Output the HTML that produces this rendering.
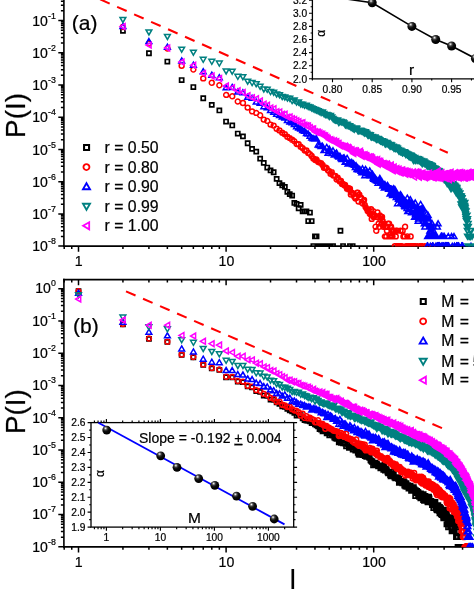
<!DOCTYPE html>
<html><head><meta charset="utf-8"><title>P(l)</title>
<style>html,body{margin:0;padding:0;background:#fff;}body{width:474px;height:614px;overflow:hidden;font-family:"Liberation Sans",sans-serif;}svg{display:block;will-change:transform;}text{stroke:#000;stroke-width:0.22px;}</style>
</head><body>
<svg width="474" height="614" viewBox="0 0 474 614">
<rect x="0" y="0" width="474" height="614" fill="#ffffff"/>
<line x1="63.90" y1="-2.00" x2="63.90" y2="246.90" stroke="#000" stroke-width="1.6"/>
<line x1="63.10" y1="246.10" x2="476.00" y2="246.10" stroke="#000" stroke-width="1.6"/>
<path d="M63.90 246.10L58.30 246.10M63.90 236.40L60.90 236.40M63.90 230.73L60.90 230.73M63.90 226.70L60.90 226.70M63.90 223.58L60.90 223.58M63.90 221.03L60.90 221.03M63.90 218.87L60.90 218.87M63.90 217.00L60.90 217.00M63.90 215.35L60.90 215.35M63.90 213.88L58.30 213.88M63.90 204.18L60.90 204.18M63.90 198.51L60.90 198.51M63.90 194.48L60.90 194.48M63.90 191.36L60.90 191.36M63.90 188.81L60.90 188.81M63.90 186.65L60.90 186.65M63.90 184.78L60.90 184.78M63.90 183.13L60.90 183.13M63.90 181.66L58.30 181.66M63.90 171.96L60.90 171.96M63.90 166.29L60.90 166.29M63.90 162.26L60.90 162.26M63.90 159.14L60.90 159.14M63.90 156.59L60.90 156.59M63.90 154.43L60.90 154.43M63.90 152.56L60.90 152.56M63.90 150.91L60.90 150.91M63.90 149.44L58.30 149.44M63.90 139.74L60.90 139.74M63.90 134.07L60.90 134.07M63.90 130.04L60.90 130.04M63.90 126.92L60.90 126.92M63.90 124.37L60.90 124.37M63.90 122.21L60.90 122.21M63.90 120.34L60.90 120.34M63.90 118.69L60.90 118.69M63.90 117.22L58.30 117.22M63.90 107.52L60.90 107.52M63.90 101.85L60.90 101.85M63.90 97.82L60.90 97.82M63.90 94.70L60.90 94.70M63.90 92.15L60.90 92.15M63.90 89.99L60.90 89.99M63.90 88.12L60.90 88.12M63.90 86.47L60.90 86.47M63.90 85.00L58.30 85.00M63.90 75.30L60.90 75.30M63.90 69.63L60.90 69.63M63.90 65.60L60.90 65.60M63.90 62.48L60.90 62.48M63.90 59.93L60.90 59.93M63.90 57.77L60.90 57.77M63.90 55.90L60.90 55.90M63.90 54.25L60.90 54.25M63.90 52.78L58.30 52.78M63.90 43.08L60.90 43.08M63.90 37.41L60.90 37.41M63.90 33.38L60.90 33.38M63.90 30.26L60.90 30.26M63.90 27.71L60.90 27.71M63.90 25.55L60.90 25.55M63.90 23.68L60.90 23.68M63.90 22.03L60.90 22.03M63.90 20.56L58.30 20.56M63.90 10.86L60.90 10.86M63.90 5.19L60.90 5.19M63.90 1.16L60.90 1.16M78.50 246.10L78.50 251.70M122.93 246.10L122.93 249.10M148.92 246.10L148.92 249.10M167.36 246.10L167.36 249.10M181.67 246.10L181.67 249.10M193.36 246.10L193.36 249.10M203.24 246.10L203.24 249.10M211.80 246.10L211.80 249.10M219.35 246.10L219.35 249.10M226.10 246.10L226.10 251.70M270.53 246.10L270.53 249.10M296.52 246.10L296.52 249.10M314.96 246.10L314.96 249.10M329.27 246.10L329.27 249.10M340.96 246.10L340.96 249.10M350.84 246.10L350.84 249.10M359.40 246.10L359.40 249.10M366.95 246.10L366.95 249.10M373.70 246.10L373.70 251.70M418.13 246.10L418.13 249.10M444.12 246.10L444.12 249.10M462.56 246.10L462.56 249.10M64.20 246.10L64.20 249.10M71.75 246.10L71.75 249.10" stroke="#000" stroke-width="1.5" fill="none"/>
<line x1="63.90" y1="278.80" x2="63.90" y2="547.66" stroke="#000" stroke-width="1.6"/>
<line x1="63.10" y1="546.86" x2="476.00" y2="546.86" stroke="#000" stroke-width="1.6"/>
<line x1="63.10" y1="279.60" x2="476.00" y2="279.60" stroke="#000" stroke-width="1.6"/>
<path d="M63.90 546.86L58.30 546.86M63.90 537.15L60.90 537.15M63.90 531.46L60.90 531.46M63.90 527.43L60.90 527.43M63.90 524.30L60.90 524.30M63.90 521.75L60.90 521.75M63.90 519.59L60.90 519.59M63.90 517.72L60.90 517.72M63.90 516.07L60.90 516.07M63.90 514.59L58.30 514.59M63.90 504.88L60.90 504.88M63.90 499.19L60.90 499.19M63.90 495.16L60.90 495.16M63.90 492.03L60.90 492.03M63.90 489.48L60.90 489.48M63.90 487.32L60.90 487.32M63.90 485.45L60.90 485.45M63.90 483.80L60.90 483.80M63.90 482.32L58.30 482.32M63.90 472.61L60.90 472.61M63.90 466.92L60.90 466.92M63.90 462.89L60.90 462.89M63.90 459.76L60.90 459.76M63.90 457.21L60.90 457.21M63.90 455.05L60.90 455.05M63.90 453.18L60.90 453.18M63.90 451.53L60.90 451.53M63.90 450.05L58.30 450.05M63.90 440.34L60.90 440.34M63.90 434.65L60.90 434.65M63.90 430.62L60.90 430.62M63.90 427.49L60.90 427.49M63.90 424.94L60.90 424.94M63.90 422.78L60.90 422.78M63.90 420.91L60.90 420.91M63.90 419.26L60.90 419.26M63.90 417.78L58.30 417.78M63.90 408.07L60.90 408.07M63.90 402.38L60.90 402.38M63.90 398.35L60.90 398.35M63.90 395.22L60.90 395.22M63.90 392.67L60.90 392.67M63.90 390.51L60.90 390.51M63.90 388.64L60.90 388.64M63.90 386.99L60.90 386.99M63.90 385.51L58.30 385.51M63.90 375.80L60.90 375.80M63.90 370.11L60.90 370.11M63.90 366.08L60.90 366.08M63.90 362.95L60.90 362.95M63.90 360.40L60.90 360.40M63.90 358.24L60.90 358.24M63.90 356.37L60.90 356.37M63.90 354.72L60.90 354.72M63.90 353.24L58.30 353.24M63.90 343.53L60.90 343.53M63.90 337.84L60.90 337.84M63.90 333.81L60.90 333.81M63.90 330.68L60.90 330.68M63.90 328.13L60.90 328.13M63.90 325.97L60.90 325.97M63.90 324.10L60.90 324.10M63.90 322.45L60.90 322.45M63.90 320.97L58.30 320.97M63.90 311.26L60.90 311.26M63.90 305.57L60.90 305.57M63.90 301.54L60.90 301.54M63.90 298.41L60.90 298.41M63.90 295.86L60.90 295.86M63.90 293.70L60.90 293.70M63.90 291.83L60.90 291.83M63.90 290.18L60.90 290.18M63.90 288.70L58.30 288.70M78.50 546.86L78.50 552.46M78.50 279.60L78.50 285.20M122.93 546.86L122.93 549.86M122.93 279.60L122.93 282.60M148.92 546.86L148.92 549.86M148.92 279.60L148.92 282.60M167.36 546.86L167.36 549.86M167.36 279.60L167.36 282.60M181.67 546.86L181.67 549.86M181.67 279.60L181.67 282.60M193.36 546.86L193.36 549.86M193.36 279.60L193.36 282.60M203.24 546.86L203.24 549.86M203.24 279.60L203.24 282.60M211.80 546.86L211.80 549.86M211.80 279.60L211.80 282.60M219.35 546.86L219.35 549.86M219.35 279.60L219.35 282.60M226.10 546.86L226.10 552.46M226.10 279.60L226.10 285.20M270.53 546.86L270.53 549.86M270.53 279.60L270.53 282.60M296.52 546.86L296.52 549.86M296.52 279.60L296.52 282.60M314.96 546.86L314.96 549.86M314.96 279.60L314.96 282.60M329.27 546.86L329.27 549.86M329.27 279.60L329.27 282.60M340.96 546.86L340.96 549.86M340.96 279.60L340.96 282.60M350.84 546.86L350.84 549.86M350.84 279.60L350.84 282.60M359.40 546.86L359.40 549.86M359.40 279.60L359.40 282.60M366.95 546.86L366.95 549.86M366.95 279.60L366.95 282.60M373.70 546.86L373.70 552.46M373.70 279.60L373.70 285.20M418.13 546.86L418.13 549.86M418.13 279.60L418.13 282.60M444.12 546.86L444.12 549.86M444.12 279.60L444.12 282.60M462.56 546.86L462.56 549.86M462.56 279.60L462.56 282.60M64.20 546.86L64.20 549.86M64.20 279.60L64.20 282.60M71.75 546.86L71.75 549.86M71.75 279.60L71.75 282.60" stroke="#000" stroke-width="1.5" fill="none"/>
<defs><clipPath id="ca"><rect x="63.9" y="-5" width="500" height="251.50"/></clipPath><clipPath id="cb"><rect x="63.9" y="279.60" width="500" height="267.66"/></clipPath></defs>
<g clip-path="url(#ca)">
<path d="M120.9 28.8h4.1v4.1h-4.1zM146.9 51.2h4.1v4.1h-4.1zM165.3 59.5h4.1v4.1h-4.1zM179.6 78h4.1v4.1h-4.1zM191.3 85h4.1v4.1h-4.1zM201.2 96.2h4.1v4.1h-4.1zM209.7 102.8h4.1v4.1h-4.1zM217.3 108.4h4.1v4.1h-4.1zM224 119.5h4.1v4.1h-4.1zM230.2 123.4h4.1v4.1h-4.1zM235.7 131.5h4.1v4.1h-4.1zM240.9 134.3h4.1v4.1h-4.1zM245.6 141.2h4.1v4.1h-4.1zM250 146.8h4.1v4.1h-4.1zM254.2 149.6h4.1v4.1h-4.1zM258.1 156.6h4.1v4.1h-4.1zM261.7 160.8h4.1v4.1h-4.1zM265.2 165.5h4.1v4.1h-4.1zM268.5 168.4h4.1v4.1h-4.1zM271.6 170.2h4.1v4.1h-4.1zM274.6 176.8h4.1v4.1h-4.1zM277.4 181.1h4.1v4.1h-4.1zM280.2 183.2h4.1v4.1h-4.1zM282.8 184.8h4.1v4.1h-4.1zM285.3 189.8h4.1v4.1h-4.1zM287.7 192.1h4.1v4.1h-4.1zM290.1 193.5h4.1v4.1h-4.1zM292.3 200.9h4.1v4.1h-4.1zM294.5 201.9h4.1v4.1h-4.1zM296.6 206.2h4.1v4.1h-4.1zM298.6 202.8h4.1v4.1h-4.1zM300.6 209.3h4.1v4.1h-4.1zM302.5 209.3h4.1v4.1h-4.1zM304.4 209.3h4.1v4.1h-4.1zM306.2 219h4.1v4.1h-4.1zM307.9 210.5h4.1v4.1h-4.1zM309.6 219h4.1v4.1h-4.1zM311.3 244h4.1v4.1h-4.1zM312.9 234.4h4.1v4.1h-4.1zM314.5 234.4h4.1v4.1h-4.1zM316 244h4.1v4.1h-4.1zM317.5 244h4.1v4.1h-4.1zM319 244h4.1v4.1h-4.1zM320.5 244h4.1v4.1h-4.1zM323.3 244h4.1v4.1h-4.1zM324.6 244h4.1v4.1h-4.1zM325.9 244h4.1v4.1h-4.1zM327.2 244h4.1v4.1h-4.1zM328.5 244h4.1v4.1h-4.1zM331 244h4.1v4.1h-4.1zM341 244h4.1v4.1h-4.1zM347.9 244h4.1v4.1h-4.1zM350.6 244h4.1v4.1h-4.1zM338.4 228.7h4.1v4.1h-4.1z" fill="none" stroke="#000000" stroke-width="1.7" stroke-linejoin="miter"/>
<path d="M120.5 27a2.45 2.45 0 1 0 4.9 0a2.45 2.45 0 1 0 -4.9 0zM146.5 43.5a2.45 2.45 0 1 0 4.9 0a2.45 2.45 0 1 0 -4.9 0zM164.9 48.5a2.45 2.45 0 1 0 4.9 0a2.45 2.45 0 1 0 -4.9 0zM179.2 65.8a2.45 2.45 0 1 0 4.9 0a2.45 2.45 0 1 0 -4.9 0zM190.9 69.6a2.45 2.45 0 1 0 4.9 0a2.45 2.45 0 1 0 -4.9 0zM200.8 78.4a2.45 2.45 0 1 0 4.9 0a2.45 2.45 0 1 0 -4.9 0zM209.3 82.8a2.45 2.45 0 1 0 4.9 0a2.45 2.45 0 1 0 -4.9 0zM216.9 85.2a2.45 2.45 0 1 0 4.9 0a2.45 2.45 0 1 0 -4.9 0zM223.7 94.9a2.45 2.45 0 1 0 4.9 0a2.45 2.45 0 1 0 -4.9 0zM229.8 96.2a2.45 2.45 0 1 0 4.9 0a2.45 2.45 0 1 0 -4.9 0zM235.3 101.5a2.45 2.45 0 1 0 4.9 0a2.45 2.45 0 1 0 -4.9 0zM240.5 103a2.45 2.45 0 1 0 4.9 0a2.45 2.45 0 1 0 -4.9 0zM245.2 107.6a2.45 2.45 0 1 0 4.9 0a2.45 2.45 0 1 0 -4.9 0zM249.6 111.4a2.45 2.45 0 1 0 4.9 0a2.45 2.45 0 1 0 -4.9 0zM253.8 112.9a2.45 2.45 0 1 0 4.9 0a2.45 2.45 0 1 0 -4.9 0zM257.7 115.2a2.45 2.45 0 1 0 4.9 0a2.45 2.45 0 1 0 -4.9 0zM261.3 119.6a2.45 2.45 0 1 0 4.9 0a2.45 2.45 0 1 0 -4.9 0zM264.8 120.9a2.45 2.45 0 1 0 4.9 0a2.45 2.45 0 1 0 -4.9 0zM268.1 124.6a2.45 2.45 0 1 0 4.9 0a2.45 2.45 0 1 0 -4.9 0zM271.2 125.6a2.45 2.45 0 1 0 4.9 0a2.45 2.45 0 1 0 -4.9 0zM274.2 128.8a2.45 2.45 0 1 0 4.9 0a2.45 2.45 0 1 0 -4.9 0zM277 130.4a2.45 2.45 0 1 0 4.9 0a2.45 2.45 0 1 0 -4.9 0zM279.8 132.7a2.45 2.45 0 1 0 4.9 0a2.45 2.45 0 1 0 -4.9 0zM282.4 134.2a2.45 2.45 0 1 0 4.9 0a2.45 2.45 0 1 0 -4.9 0zM284.9 136.7a2.45 2.45 0 1 0 4.9 0a2.45 2.45 0 1 0 -4.9 0zM287.3 138.1a2.45 2.45 0 1 0 4.9 0a2.45 2.45 0 1 0 -4.9 0zM289.7 139.8a2.45 2.45 0 1 0 4.9 0a2.45 2.45 0 1 0 -4.9 0zM291.9 141.3a2.45 2.45 0 1 0 4.9 0a2.45 2.45 0 1 0 -4.9 0zM294.1 144a2.45 2.45 0 1 0 4.9 0a2.45 2.45 0 1 0 -4.9 0zM296.2 144.2a2.45 2.45 0 1 0 4.9 0a2.45 2.45 0 1 0 -4.9 0zM298.2 146.7a2.45 2.45 0 1 0 4.9 0a2.45 2.45 0 1 0 -4.9 0zM300.2 148.1a2.45 2.45 0 1 0 4.9 0a2.45 2.45 0 1 0 -4.9 0zM302.1 150.5a2.45 2.45 0 1 0 4.9 0a2.45 2.45 0 1 0 -4.9 0zM304 150.4a2.45 2.45 0 1 0 4.9 0a2.45 2.45 0 1 0 -4.9 0zM305.8 152.9a2.45 2.45 0 1 0 4.9 0a2.45 2.45 0 1 0 -4.9 0zM307.5 154.1a2.45 2.45 0 1 0 4.9 0a2.45 2.45 0 1 0 -4.9 0zM309.2 155.9a2.45 2.45 0 1 0 4.9 0a2.45 2.45 0 1 0 -4.9 0zM310.9 158.4a2.45 2.45 0 1 0 4.9 0a2.45 2.45 0 1 0 -4.9 0zM312.5 160.1a2.45 2.45 0 1 0 4.9 0a2.45 2.45 0 1 0 -4.9 0zM314.1 159.4a2.45 2.45 0 1 0 4.9 0a2.45 2.45 0 1 0 -4.9 0zM315.6 162a2.45 2.45 0 1 0 4.9 0a2.45 2.45 0 1 0 -4.9 0zM317.1 162.6a2.45 2.45 0 1 0 4.9 0a2.45 2.45 0 1 0 -4.9 0zM318.6 163.1a2.45 2.45 0 1 0 4.9 0a2.45 2.45 0 1 0 -4.9 0zM320.1 165a2.45 2.45 0 1 0 4.9 0a2.45 2.45 0 1 0 -4.9 0zM321.5 167.7a2.45 2.45 0 1 0 4.9 0a2.45 2.45 0 1 0 -4.9 0zM322.9 167.5a2.45 2.45 0 1 0 4.9 0a2.45 2.45 0 1 0 -4.9 0zM324.2 167.9a2.45 2.45 0 1 0 4.9 0a2.45 2.45 0 1 0 -4.9 0zM325.5 170.4a2.45 2.45 0 1 0 4.9 0a2.45 2.45 0 1 0 -4.9 0zM326.8 171.3a2.45 2.45 0 1 0 4.9 0a2.45 2.45 0 1 0 -4.9 0zM328.1 173.7a2.45 2.45 0 1 0 4.9 0a2.45 2.45 0 1 0 -4.9 0zM329.3 172.2a2.45 2.45 0 1 0 4.9 0a2.45 2.45 0 1 0 -4.9 0zM330.6 175.5a2.45 2.45 0 1 0 4.9 0a2.45 2.45 0 1 0 -4.9 0zM331.8 175.6a2.45 2.45 0 1 0 4.9 0a2.45 2.45 0 1 0 -4.9 0zM332.9 175.9a2.45 2.45 0 1 0 4.9 0a2.45 2.45 0 1 0 -4.9 0zM334.1 179.6a2.45 2.45 0 1 0 4.9 0a2.45 2.45 0 1 0 -4.9 0zM335.2 177.8a2.45 2.45 0 1 0 4.9 0a2.45 2.45 0 1 0 -4.9 0zM336.3 179.7a2.45 2.45 0 1 0 4.9 0a2.45 2.45 0 1 0 -4.9 0zM337.4 181.5a2.45 2.45 0 1 0 4.9 0a2.45 2.45 0 1 0 -4.9 0zM338.5 181a2.45 2.45 0 1 0 4.9 0a2.45 2.45 0 1 0 -4.9 0zM339.6 184.1a2.45 2.45 0 1 0 4.9 0a2.45 2.45 0 1 0 -4.9 0zM340.6 183.9a2.45 2.45 0 1 0 4.9 0a2.45 2.45 0 1 0 -4.9 0zM341.6 185.3a2.45 2.45 0 1 0 4.9 0a2.45 2.45 0 1 0 -4.9 0zM342.6 185a2.45 2.45 0 1 0 4.9 0a2.45 2.45 0 1 0 -4.9 0zM343.6 187.1a2.45 2.45 0 1 0 4.9 0a2.45 2.45 0 1 0 -4.9 0zM344.6 188.8a2.45 2.45 0 1 0 4.9 0a2.45 2.45 0 1 0 -4.9 0zM345.6 189.3a2.45 2.45 0 1 0 4.9 0a2.45 2.45 0 1 0 -4.9 0zM346.5 188.3a2.45 2.45 0 1 0 4.9 0a2.45 2.45 0 1 0 -4.9 0zM347.5 188.8a2.45 2.45 0 1 0 4.9 0a2.45 2.45 0 1 0 -4.9 0zM348.4 194.5a2.45 2.45 0 1 0 4.9 0a2.45 2.45 0 1 0 -4.9 0zM349.3 192.8a2.45 2.45 0 1 0 4.9 0a2.45 2.45 0 1 0 -4.9 0zM350.2 193.5a2.45 2.45 0 1 0 4.9 0a2.45 2.45 0 1 0 -4.9 0zM351.1 193.5a2.45 2.45 0 1 0 4.9 0a2.45 2.45 0 1 0 -4.9 0zM351.9 196.8a2.45 2.45 0 1 0 4.9 0a2.45 2.45 0 1 0 -4.9 0zM352.8 198.5a2.45 2.45 0 1 0 4.9 0a2.45 2.45 0 1 0 -4.9 0zM353.7 198a2.45 2.45 0 1 0 4.9 0a2.45 2.45 0 1 0 -4.9 0zM354.5 192.8a2.45 2.45 0 1 0 4.9 0a2.45 2.45 0 1 0 -4.9 0zM355.3 192.8a2.45 2.45 0 1 0 4.9 0a2.45 2.45 0 1 0 -4.9 0zM356.1 201.6a2.45 2.45 0 1 0 4.9 0a2.45 2.45 0 1 0 -4.9 0zM356.9 194.8a2.45 2.45 0 1 0 4.9 0a2.45 2.45 0 1 0 -4.9 0zM357.7 197.6a2.45 2.45 0 1 0 4.9 0a2.45 2.45 0 1 0 -4.9 0zM358.5 197.6a2.45 2.45 0 1 0 4.9 0a2.45 2.45 0 1 0 -4.9 0zM359.3 202.8a2.45 2.45 0 1 0 4.9 0a2.45 2.45 0 1 0 -4.9 0zM360.1 203.5a2.45 2.45 0 1 0 4.9 0a2.45 2.45 0 1 0 -4.9 0zM360.8 201.1a2.45 2.45 0 1 0 4.9 0a2.45 2.45 0 1 0 -4.9 0zM361.6 200a2.45 2.45 0 1 0 4.9 0a2.45 2.45 0 1 0 -4.9 0zM362.3 204.9a2.45 2.45 0 1 0 4.9 0a2.45 2.45 0 1 0 -4.9 0zM363.1 207.3a2.45 2.45 0 1 0 4.9 0a2.45 2.45 0 1 0 -4.9 0zM363.8 208.2a2.45 2.45 0 1 0 4.9 0a2.45 2.45 0 1 0 -4.9 0zM364.5 209.2a2.45 2.45 0 1 0 4.9 0a2.45 2.45 0 1 0 -4.9 0zM365.2 211.3a2.45 2.45 0 1 0 4.9 0a2.45 2.45 0 1 0 -4.9 0zM365.9 209.2a2.45 2.45 0 1 0 4.9 0a2.45 2.45 0 1 0 -4.9 0zM366.6 212.5a2.45 2.45 0 1 0 4.9 0a2.45 2.45 0 1 0 -4.9 0zM367.3 213.9a2.45 2.45 0 1 0 4.9 0a2.45 2.45 0 1 0 -4.9 0zM368 213.9a2.45 2.45 0 1 0 4.9 0a2.45 2.45 0 1 0 -4.9 0zM368.6 209.2a2.45 2.45 0 1 0 4.9 0a2.45 2.45 0 1 0 -4.9 0zM369.3 218.9a2.45 2.45 0 1 0 4.9 0a2.45 2.45 0 1 0 -4.9 0zM370 213.9a2.45 2.45 0 1 0 4.9 0a2.45 2.45 0 1 0 -4.9 0zM370.6 211.3a2.45 2.45 0 1 0 4.9 0a2.45 2.45 0 1 0 -4.9 0zM371.2 217a2.45 2.45 0 1 0 4.9 0a2.45 2.45 0 1 0 -4.9 0zM371.9 215.4a2.45 2.45 0 1 0 4.9 0a2.45 2.45 0 1 0 -4.9 0zM372.5 215.4a2.45 2.45 0 1 0 4.9 0a2.45 2.45 0 1 0 -4.9 0zM373.1 226.7a2.45 2.45 0 1 0 4.9 0a2.45 2.45 0 1 0 -4.9 0zM373.8 230.7a2.45 2.45 0 1 0 4.9 0a2.45 2.45 0 1 0 -4.9 0zM374.4 217a2.45 2.45 0 1 0 4.9 0a2.45 2.45 0 1 0 -4.9 0zM375 212.5a2.45 2.45 0 1 0 4.9 0a2.45 2.45 0 1 0 -4.9 0zM375.6 217a2.45 2.45 0 1 0 4.9 0a2.45 2.45 0 1 0 -4.9 0zM376.2 223.6a2.45 2.45 0 1 0 4.9 0a2.45 2.45 0 1 0 -4.9 0zM376.8 226.7a2.45 2.45 0 1 0 4.9 0a2.45 2.45 0 1 0 -4.9 0zM377.4 215.4a2.45 2.45 0 1 0 4.9 0a2.45 2.45 0 1 0 -4.9 0zM377.9 218.9a2.45 2.45 0 1 0 4.9 0a2.45 2.45 0 1 0 -4.9 0zM378.5 217a2.45 2.45 0 1 0 4.9 0a2.45 2.45 0 1 0 -4.9 0zM379.1 223.6a2.45 2.45 0 1 0 4.9 0a2.45 2.45 0 1 0 -4.9 0zM379.6 217a2.45 2.45 0 1 0 4.9 0a2.45 2.45 0 1 0 -4.9 0zM380.2 221a2.45 2.45 0 1 0 4.9 0a2.45 2.45 0 1 0 -4.9 0zM380.8 226.7a2.45 2.45 0 1 0 4.9 0a2.45 2.45 0 1 0 -4.9 0zM381.3 223.6a2.45 2.45 0 1 0 4.9 0a2.45 2.45 0 1 0 -4.9 0zM381.9 223.6a2.45 2.45 0 1 0 4.9 0a2.45 2.45 0 1 0 -4.9 0zM382.4 236.4a2.45 2.45 0 1 0 4.9 0a2.45 2.45 0 1 0 -4.9 0zM382.9 226.7a2.45 2.45 0 1 0 4.9 0a2.45 2.45 0 1 0 -4.9 0zM383.5 226.7a2.45 2.45 0 1 0 4.9 0a2.45 2.45 0 1 0 -4.9 0zM384 236.4a2.45 2.45 0 1 0 4.9 0a2.45 2.45 0 1 0 -4.9 0zM384.5 230.7a2.45 2.45 0 1 0 4.9 0a2.45 2.45 0 1 0 -4.9 0zM385 226.7a2.45 2.45 0 1 0 4.9 0a2.45 2.45 0 1 0 -4.9 0zM385.6 223.6a2.45 2.45 0 1 0 4.9 0a2.45 2.45 0 1 0 -4.9 0zM386.6 223.6a2.45 2.45 0 1 0 4.9 0a2.45 2.45 0 1 0 -4.9 0zM387.1 236.4a2.45 2.45 0 1 0 4.9 0a2.45 2.45 0 1 0 -4.9 0zM387.6 226.7a2.45 2.45 0 1 0 4.9 0a2.45 2.45 0 1 0 -4.9 0zM388.1 236.4a2.45 2.45 0 1 0 4.9 0a2.45 2.45 0 1 0 -4.9 0zM388.6 226.7a2.45 2.45 0 1 0 4.9 0a2.45 2.45 0 1 0 -4.9 0zM389 230.7a2.45 2.45 0 1 0 4.9 0a2.45 2.45 0 1 0 -4.9 0zM389.5 230.7a2.45 2.45 0 1 0 4.9 0a2.45 2.45 0 1 0 -4.9 0zM390 236.4a2.45 2.45 0 1 0 4.9 0a2.45 2.45 0 1 0 -4.9 0zM390.5 230.7a2.45 2.45 0 1 0 4.9 0a2.45 2.45 0 1 0 -4.9 0zM391 230.7a2.45 2.45 0 1 0 4.9 0a2.45 2.45 0 1 0 -4.9 0zM391.4 230.7a2.45 2.45 0 1 0 4.9 0a2.45 2.45 0 1 0 -4.9 0zM391.9 230.7a2.45 2.45 0 1 0 4.9 0a2.45 2.45 0 1 0 -4.9 0zM392.4 246.1a2.45 2.45 0 1 0 4.9 0a2.45 2.45 0 1 0 -4.9 0zM392.8 246.1a2.45 2.45 0 1 0 4.9 0a2.45 2.45 0 1 0 -4.9 0zM393.3 236.4a2.45 2.45 0 1 0 4.9 0a2.45 2.45 0 1 0 -4.9 0zM393.7 230.7a2.45 2.45 0 1 0 4.9 0a2.45 2.45 0 1 0 -4.9 0zM394.6 230.7a2.45 2.45 0 1 0 4.9 0a2.45 2.45 0 1 0 -4.9 0zM395.5 246.1a2.45 2.45 0 1 0 4.9 0a2.45 2.45 0 1 0 -4.9 0zM395.9 246.1a2.45 2.45 0 1 0 4.9 0a2.45 2.45 0 1 0 -4.9 0zM396.4 246.1a2.45 2.45 0 1 0 4.9 0a2.45 2.45 0 1 0 -4.9 0zM397.2 246.1a2.45 2.45 0 1 0 4.9 0a2.45 2.45 0 1 0 -4.9 0zM397.7 246.1a2.45 2.45 0 1 0 4.9 0a2.45 2.45 0 1 0 -4.9 0zM398.1 230.7a2.45 2.45 0 1 0 4.9 0a2.45 2.45 0 1 0 -4.9 0zM398.9 246.1a2.45 2.45 0 1 0 4.9 0a2.45 2.45 0 1 0 -4.9 0zM399.3 246.1a2.45 2.45 0 1 0 4.9 0a2.45 2.45 0 1 0 -4.9 0zM400.2 230.7a2.45 2.45 0 1 0 4.9 0a2.45 2.45 0 1 0 -4.9 0zM401 236.4a2.45 2.45 0 1 0 4.9 0a2.45 2.45 0 1 0 -4.9 0zM402.2 236.4a2.45 2.45 0 1 0 4.9 0a2.45 2.45 0 1 0 -4.9 0zM402.6 226.7a2.45 2.45 0 1 0 4.9 0a2.45 2.45 0 1 0 -4.9 0zM403.7 246.1a2.45 2.45 0 1 0 4.9 0a2.45 2.45 0 1 0 -4.9 0zM404.1 246.1a2.45 2.45 0 1 0 4.9 0a2.45 2.45 0 1 0 -4.9 0zM404.9 236.4a2.45 2.45 0 1 0 4.9 0a2.45 2.45 0 1 0 -4.9 0zM405.6 246.1a2.45 2.45 0 1 0 4.9 0a2.45 2.45 0 1 0 -4.9 0zM406 246.1a2.45 2.45 0 1 0 4.9 0a2.45 2.45 0 1 0 -4.9 0zM406.4 246.1a2.45 2.45 0 1 0 4.9 0a2.45 2.45 0 1 0 -4.9 0zM406.8 246.1a2.45 2.45 0 1 0 4.9 0a2.45 2.45 0 1 0 -4.9 0zM407.5 246.1a2.45 2.45 0 1 0 4.9 0a2.45 2.45 0 1 0 -4.9 0zM407.9 246.1a2.45 2.45 0 1 0 4.9 0a2.45 2.45 0 1 0 -4.9 0zM408.2 236.4a2.45 2.45 0 1 0 4.9 0a2.45 2.45 0 1 0 -4.9 0zM408.9 246.1a2.45 2.45 0 1 0 4.9 0a2.45 2.45 0 1 0 -4.9 0zM409.6 246.1a2.45 2.45 0 1 0 4.9 0a2.45 2.45 0 1 0 -4.9 0zM412.4 246.1a2.45 2.45 0 1 0 4.9 0a2.45 2.45 0 1 0 -4.9 0zM413.4 246.1a2.45 2.45 0 1 0 4.9 0a2.45 2.45 0 1 0 -4.9 0zM415 246.1a2.45 2.45 0 1 0 4.9 0a2.45 2.45 0 1 0 -4.9 0zM417 246.1a2.45 2.45 0 1 0 4.9 0a2.45 2.45 0 1 0 -4.9 0zM417.6 246.1a2.45 2.45 0 1 0 4.9 0a2.45 2.45 0 1 0 -4.9 0zM419.4 246.1a2.45 2.45 0 1 0 4.9 0a2.45 2.45 0 1 0 -4.9 0zM420 246.1a2.45 2.45 0 1 0 4.9 0a2.45 2.45 0 1 0 -4.9 0zM422.4 246.1a2.45 2.45 0 1 0 4.9 0a2.45 2.45 0 1 0 -4.9 0zM429.7 246.1a2.45 2.45 0 1 0 4.9 0a2.45 2.45 0 1 0 -4.9 0z" fill="none" stroke="#ff0000" stroke-width="1.5" stroke-linejoin="miter"/>
<path d="M122.9 23.5l2.9 5h-5.8zM148.9 38.6l2.9 5h-5.8zM167.4 44.2l2.9 5h-5.8zM181.7 58l2.9 5h-5.8zM193.4 62.2l2.9 5h-5.8zM203.2 68.7l2.9 5h-5.8zM211.8 72.2l2.9 5h-5.8zM219.3 74.7l2.9 5h-5.8zM226.1 84.7l2.9 5h-5.8zM232.2 84.5l2.9 5h-5.8zM237.8 89.1l2.9 5h-5.8zM242.9 89.8l2.9 5h-5.8zM247.7 94.3l2.9 5h-5.8zM252.1 95.3l2.9 5h-5.8zM256.2 99.1l2.9 5h-5.8zM260.1 100.2l2.9 5h-5.8zM263.8 103.7l2.9 5h-5.8zM267.2 104.7l2.9 5h-5.8zM270.5 107.5l2.9 5h-5.8zM273.7 109.3l2.9 5h-5.8zM276.6 111.2l2.9 5h-5.8zM279.5 112.6l2.9 5h-5.8zM282.2 114l2.9 5h-5.8zM284.8 115.1l2.9 5h-5.8zM287.4 117.5l2.9 5h-5.8zM289.8 118.9l2.9 5h-5.8zM292.1 119.8l2.9 5h-5.8zM294.3 121.5l2.9 5h-5.8zM296.5 123.8l2.9 5h-5.8zM298.6 125l2.9 5h-5.8zM300.7 126l2.9 5h-5.8zM302.6 127.6l2.9 5h-5.8zM304.5 128.2l2.9 5h-5.8zM306.4 130.5l2.9 5h-5.8zM308.2 131.1l2.9 5h-5.8zM310 133.2l2.9 5h-5.8zM311.7 135l2.9 5h-5.8zM313.3 135.8l2.9 5h-5.8zM315 136.1l2.9 5h-5.8zM316.5 136.1l2.9 5h-5.8zM318.1 141.9l2.9 5h-5.8zM319.6 142.4l2.9 5h-5.8zM321.1 143.5l2.9 5h-5.8zM322.5 143.3l2.9 5h-5.8zM323.9 147.4l2.9 5h-5.8zM325.3 147.5l2.9 5h-5.8zM326.7 144.4l2.9 5h-5.8zM328 150.3l2.9 5h-5.8zM329.3 146.2l2.9 5h-5.8zM330.5 148.5l2.9 5h-5.8zM331.8 150.6l2.9 5h-5.8zM333 147.8l2.9 5h-5.8zM334.2 151.9l2.9 5h-5.8zM335.4 151.4l2.9 5h-5.8zM336.5 150l2.9 5h-5.8zM337.7 153.1l2.9 5h-5.8zM338.8 154.1l2.9 5h-5.8zM339.9 153.2l2.9 5h-5.8zM341 155.4l2.9 5h-5.8zM342 156.4l2.9 5h-5.8zM343.1 155.3l2.9 5h-5.8zM344.1 154.9l2.9 5h-5.8zM345.1 159.3l2.9 5h-5.8zM346.1 158.8l2.9 5h-5.8zM347.1 155.4l2.9 5h-5.8zM348 161.1l2.9 5h-5.8zM349 160.1l2.9 5h-5.8zM349.9 160.8l2.9 5h-5.8zM350.8 160.1l2.9 5h-5.8zM351.7 159.5l2.9 5h-5.8zM352.6 161.4l2.9 5h-5.8zM353.5 160.8l2.9 5h-5.8zM354.4 162.2l2.9 5h-5.8zM355.3 164.5l2.9 5h-5.8zM356.1 162.8l2.9 5h-5.8zM356.9 166.6l2.9 5h-5.8zM357.8 164.9l2.9 5h-5.8zM358.6 167l2.9 5h-5.8zM359.4 166.4l2.9 5h-5.8zM360.2 167.1l2.9 5h-5.8zM361 168.3l2.9 5h-5.8zM361.8 169.7l2.9 5h-5.8zM362.5 165.8l2.9 5h-5.8zM363.3 169.4l2.9 5h-5.8zM364 169.7l2.9 5h-5.8zM364.8 172.7l2.9 5h-5.8zM365.5 166.5l2.9 5h-5.8zM366.2 170l2.9 5h-5.8zM366.9 168.5l2.9 5h-5.8zM367.7 170.7l2.9 5h-5.8zM368.4 170.3l2.9 5h-5.8zM369 171.9l2.9 5h-5.8zM369.7 168l2.9 5h-5.8zM370.4 172.9l2.9 5h-5.8zM371.1 171.9l2.9 5h-5.8zM371.7 172.1l2.9 5h-5.8zM372.4 171.2l2.9 5h-5.8zM373.1 175l2.9 5h-5.8zM373.7 176.2l2.9 5h-5.8zM374.3 174.2l2.9 5h-5.8zM375 176.8l2.9 5h-5.8zM375.6 175.8l2.9 5h-5.8zM376.2 177.5l2.9 5h-5.8zM376.8 177.5l2.9 5h-5.8zM377.4 178.2l2.9 5h-5.8zM378 180.2l2.9 5h-5.8zM378.6 178.2l2.9 5h-5.8zM379.2 177.1l2.9 5h-5.8zM379.8 175.5l2.9 5h-5.8zM380.4 180l2.9 5h-5.8zM381 178.3l2.9 5h-5.8zM381.5 180.3l2.9 5h-5.8zM382.1 179.1l2.9 5h-5.8zM382.7 183.1l2.9 5h-5.8zM383.2 181.5l2.9 5h-5.8zM383.8 182.9l2.9 5h-5.8zM384.3 184.9l2.9 5h-5.8zM384.9 181.6l2.9 5h-5.8zM385.4 183.7l2.9 5h-5.8zM385.9 183.3l2.9 5h-5.8zM386.4 184.1l2.9 5h-5.8zM387 184.7l2.9 5h-5.8zM387.5 182.5l2.9 5h-5.8zM388 184.5l2.9 5h-5.8zM388.5 186.2l2.9 5h-5.8zM389 184.9l2.9 5h-5.8zM389.5 185.5l2.9 5h-5.8zM390 191l2.9 5h-5.8zM390.5 186.2l2.9 5h-5.8zM391 186.2l2.9 5h-5.8zM391.5 186.5l2.9 5h-5.8zM392 190.3l2.9 5h-5.8zM392.5 192.4l2.9 5h-5.8zM392.9 188.3l2.9 5h-5.8zM393.4 185.8l2.9 5h-5.8zM393.9 190.7l2.9 5h-5.8zM394.3 189.7l2.9 5h-5.8zM394.8 186.5l2.9 5h-5.8zM395.3 191.7l2.9 5h-5.8zM395.7 190.7l2.9 5h-5.8zM396.2 194.4l2.9 5h-5.8zM396.6 189.7l2.9 5h-5.8zM397.1 191.3l2.9 5h-5.8zM397.5 200.7l2.9 5h-5.8zM398 194.4l2.9 5h-5.8zM398.4 196.2l2.9 5h-5.8zM398.8 195.2l2.9 5h-5.8zM399.3 194.8l2.9 5h-5.8zM399.7 192.8l2.9 5h-5.8zM400.1 193.2l2.9 5h-5.8zM400.5 191.7l2.9 5h-5.8zM401 199.4l2.9 5h-5.8zM401.4 197.2l2.9 5h-5.8zM401.8 193.6l2.9 5h-5.8zM402.2 197.2l2.9 5h-5.8zM402.6 198.8l2.9 5h-5.8zM403 198.3l2.9 5h-5.8zM403.4 197.7l2.9 5h-5.8zM403.8 201.4l2.9 5h-5.8zM404.2 197.2l2.9 5h-5.8zM404.6 202.9l2.9 5h-5.8zM405 203.7l2.9 5h-5.8zM405.4 200.7l2.9 5h-5.8zM405.8 200.7l2.9 5h-5.8zM406.2 199.4l2.9 5h-5.8zM406.6 200.7l2.9 5h-5.8zM407 205.4l2.9 5h-5.8zM407.3 195.2l2.9 5h-5.8zM407.7 208.5l2.9 5h-5.8zM408.1 200.7l2.9 5h-5.8zM408.5 200l2.9 5h-5.8zM408.8 208.5l2.9 5h-5.8zM409.2 198.3l2.9 5h-5.8zM409.6 206.4l2.9 5h-5.8zM409.9 199.4l2.9 5h-5.8zM410.3 196.7l2.9 5h-5.8zM410.7 201.4l2.9 5h-5.8zM411 202.1l2.9 5h-5.8zM411.4 209.7l2.9 5h-5.8zM411.7 200l2.9 5h-5.8zM412.1 201.4l2.9 5h-5.8zM412.4 205.4l2.9 5h-5.8zM412.8 205.4l2.9 5h-5.8zM413.1 207.4l2.9 5h-5.8zM413.5 202.9l2.9 5h-5.8zM413.8 202.1l2.9 5h-5.8zM414.2 205.4l2.9 5h-5.8zM414.5 214.2l2.9 5h-5.8zM414.8 208.5l2.9 5h-5.8zM415.2 200l2.9 5h-5.8zM415.5 211.1l2.9 5h-5.8zM415.8 209.7l2.9 5h-5.8zM416.2 214.2l2.9 5h-5.8zM416.5 205.4l2.9 5h-5.8zM416.8 207.4l2.9 5h-5.8zM417.2 211.1l2.9 5h-5.8zM417.5 214.2l2.9 5h-5.8zM417.8 209.7l2.9 5h-5.8zM418.1 218.2l2.9 5h-5.8zM418.5 216.1l2.9 5h-5.8zM418.8 206.4l2.9 5h-5.8zM419.1 209.7l2.9 5h-5.8zM419.4 209.7l2.9 5h-5.8zM419.7 211.1l2.9 5h-5.8zM420 214.2l2.9 5h-5.8zM420.3 206.4l2.9 5h-5.8zM420.6 201.4l2.9 5h-5.8zM421 207.4l2.9 5h-5.8zM421.3 206.4l2.9 5h-5.8zM421.6 206.4l2.9 5h-5.8zM421.9 211.1l2.9 5h-5.8zM422.2 205.4l2.9 5h-5.8zM422.5 216.1l2.9 5h-5.8zM422.8 212.6l2.9 5h-5.8zM423.1 205.4l2.9 5h-5.8zM423.4 216.1l2.9 5h-5.8zM423.7 218.2l2.9 5h-5.8zM423.9 214.2l2.9 5h-5.8zM424.2 220.8l2.9 5h-5.8zM424.5 216.1l2.9 5h-5.8zM424.8 223.9l2.9 5h-5.8zM425.1 216.1l2.9 5h-5.8zM425.4 220.8l2.9 5h-5.8zM425.7 216.1l2.9 5h-5.8zM426 220.8l2.9 5h-5.8zM426.2 220.8l2.9 5h-5.8zM426.5 216.1l2.9 5h-5.8zM426.8 211.1l2.9 5h-5.8zM427.1 243.3l2.9 5h-5.8zM427.4 216.1l2.9 5h-5.8zM427.6 233.6l2.9 5h-5.8zM427.9 243.3l2.9 5h-5.8zM428.2 212.6l2.9 5h-5.8zM428.5 218.2l2.9 5h-5.8zM428.7 216.1l2.9 5h-5.8zM429 233.6l2.9 5h-5.8zM429.3 223.9l2.9 5h-5.8zM429.6 223.9l2.9 5h-5.8zM429.8 227.9l2.9 5h-5.8zM430.1 233.6l2.9 5h-5.8zM430.4 243.3l2.9 5h-5.8zM430.6 223.9l2.9 5h-5.8zM430.9 233.6l2.9 5h-5.8zM431.1 233.6l2.9 5h-5.8zM431.4 227.9l2.9 5h-5.8zM431.7 227.9l2.9 5h-5.8zM431.9 223.9l2.9 5h-5.8zM432.2 220.8l2.9 5h-5.8zM432.4 243.3l2.9 5h-5.8zM432.7 233.6l2.9 5h-5.8zM433.2 243.3l2.9 5h-5.8zM433.5 227.9l2.9 5h-5.8zM433.7 223.9l2.9 5h-5.8zM434.2 233.6l2.9 5h-5.8zM435 233.6l2.9 5h-5.8zM435.4 233.6l2.9 5h-5.8zM435.7 233.6l2.9 5h-5.8zM435.9 243.3l2.9 5h-5.8zM436.2 233.6l2.9 5h-5.8zM436.7 233.6l2.9 5h-5.8zM437.1 243.3l2.9 5h-5.8zM437.4 223.9l2.9 5h-5.8zM437.6 243.3l2.9 5h-5.8zM438.1 220.8l2.9 5h-5.8zM438.3 243.3l2.9 5h-5.8zM438.5 243.3l2.9 5h-5.8zM438.8 243.3l2.9 5h-5.8zM439.2 243.3l2.9 5h-5.8zM439.5 243.3l2.9 5h-5.8zM439.7 243.3l2.9 5h-5.8zM439.9 243.3l2.9 5h-5.8zM441.1 233.6l2.9 5h-5.8zM441.5 243.3l2.9 5h-5.8zM441.7 233.6l2.9 5h-5.8zM442.2 233.6l2.9 5h-5.8zM442.6 243.3l2.9 5h-5.8zM442.8 243.3l2.9 5h-5.8zM443.5 243.3l2.9 5h-5.8zM443.9 233.6l2.9 5h-5.8zM444.3 233.6l2.9 5h-5.8zM444.8 243.3l2.9 5h-5.8zM445 243.3l2.9 5h-5.8zM445.2 243.3l2.9 5h-5.8zM445.4 243.3l2.9 5h-5.8zM445.6 243.3l2.9 5h-5.8zM446 243.3l2.9 5h-5.8zM446.2 243.3l2.9 5h-5.8zM446.6 243.3l2.9 5h-5.8zM447.3 243.3l2.9 5h-5.8zM447.9 243.3l2.9 5h-5.8zM448.3 233.6l2.9 5h-5.8zM448.5 243.3l2.9 5h-5.8zM448.9 243.3l2.9 5h-5.8zM451.6 233.6l2.9 5h-5.8zM452.3 243.3l2.9 5h-5.8zM454 233.6l2.9 5h-5.8zM454.4 243.3l2.9 5h-5.8zM454.6 243.3l2.9 5h-5.8zM456.5 243.3l2.9 5h-5.8zM456.9 243.3l2.9 5h-5.8zM457.9 243.3l2.9 5h-5.8zM458.4 243.3l2.9 5h-5.8zM458.9 243.3l2.9 5h-5.8zM461.8 243.3l2.9 5h-5.8zM462.1 243.3l2.9 5h-5.8zM462.9 243.3l2.9 5h-5.8zM471 243.3l2.9 5h-5.8z" fill="none" stroke="#0000ff" stroke-width="1.5" stroke-linejoin="miter"/>
<path d="M122.9 22.5l2.9 -5h-5.8zM148.9 35l2.9 -5h-5.8zM167.4 39.5l2.9 -5h-5.8zM181.7 52.2l2.9 -5h-5.8zM193.4 55.2l2.9 -5h-5.8zM203.2 62.3l2.9 -5h-5.8zM211.8 64.3l2.9 -5h-5.8zM219.3 66.1l2.9 -5h-5.8zM226.1 74l2.9 -5h-5.8zM232.2 74.2l2.9 -5h-5.8zM237.8 79.3l2.9 -5h-5.8zM242.9 79.7l2.9 -5h-5.8zM247.7 84.2l2.9 -5h-5.8zM252.1 85.6l2.9 -5h-5.8zM256.2 86.7l2.9 -5h-5.8zM260.1 89.3l2.9 -5h-5.8zM263.8 92l2.9 -5h-5.8zM267.2 92.3l2.9 -5h-5.8zM270.5 94.6l2.9 -5h-5.8zM273.7 95.2l2.9 -5h-5.8zM276.6 97l2.9 -5h-5.8zM279.5 97.8l2.9 -5h-5.8zM282.2 99.5l2.9 -5h-5.8zM284.8 100l2.9 -5h-5.8zM287.4 101l2.9 -5h-5.8zM289.8 101.3l2.9 -5h-5.8zM292.1 103.6l2.9 -5h-5.8zM294.3 103l2.9 -5h-5.8zM296.5 105l2.9 -5h-5.8zM298.6 105l2.9 -5h-5.8zM300.7 107l2.9 -5h-5.8zM302.6 107.2l2.9 -5h-5.8zM304.5 108.2l2.9 -5h-5.8zM306.4 108.2l2.9 -5h-5.8zM308.2 109.4l2.9 -5h-5.8zM310 109.9l2.9 -5h-5.8zM311.7 110.9l2.9 -5h-5.8zM313.3 111.7l2.9 -5h-5.8zM315 112.6l2.9 -5h-5.8zM316.5 113.1l2.9 -5h-5.8zM318.1 113.8l2.9 -5h-5.8zM319.6 114.4l2.9 -5h-5.8zM321.1 115.5l2.9 -5h-5.8zM322.5 115.1l2.9 -5h-5.8zM323.9 116.5l2.9 -5h-5.8zM325.3 117.6l2.9 -5h-5.8zM326.7 117.5l2.9 -5h-5.8zM328 118.1l2.9 -5h-5.8zM329.3 119.4l2.9 -5h-5.8zM330.5 118.5l2.9 -5h-5.8zM331.8 119.9l2.9 -5h-5.8zM333 121.4l2.9 -5h-5.8zM334.2 122.4l2.9 -5h-5.8zM335.4 123.1l2.9 -5h-5.8zM336.5 123.1l2.9 -5h-5.8zM337.7 123.1l2.9 -5h-5.8zM338.8 125.6l2.9 -5h-5.8zM339.9 124.2l2.9 -5h-5.8zM341 124.5l2.9 -5h-5.8zM342 124.9l2.9 -5h-5.8zM343.1 125.1l2.9 -5h-5.8zM344.1 125.9l2.9 -5h-5.8zM345.1 127.6l2.9 -5h-5.8zM346.1 128.2l2.9 -5h-5.8zM347.1 127.3l2.9 -5h-5.8zM348 128.5l2.9 -5h-5.8zM349 128.7l2.9 -5h-5.8zM349.9 128.9l2.9 -5h-5.8zM350.8 130.1l2.9 -5h-5.8zM351.7 130.2l2.9 -5h-5.8zM352.6 130.9l2.9 -5h-5.8zM353.5 131.5l2.9 -5h-5.8zM354.4 132.2l2.9 -5h-5.8zM355.3 131.1l2.9 -5h-5.8zM356.1 131l2.9 -5h-5.8zM356.9 131.6l2.9 -5h-5.8zM357.8 133.6l2.9 -5h-5.8zM358.6 133.7l2.9 -5h-5.8zM359.4 133.4l2.9 -5h-5.8zM360.2 133.3l2.9 -5h-5.8zM361 133.6l2.9 -5h-5.8zM361.8 134.1l2.9 -5h-5.8zM362.5 134.3l2.9 -5h-5.8zM363.3 134.5l2.9 -5h-5.8zM364 135.4l2.9 -5h-5.8zM364.8 136l2.9 -5h-5.8zM365.5 134.8l2.9 -5h-5.8zM366.2 136.1l2.9 -5h-5.8zM366.9 136.6l2.9 -5h-5.8zM367.7 138l2.9 -5h-5.8zM368.4 138.2l2.9 -5h-5.8zM369 137.6l2.9 -5h-5.8zM369.7 137.8l2.9 -5h-5.8zM370.4 138l2.9 -5h-5.8zM371.1 140.1l2.9 -5h-5.8zM371.7 139.5l2.9 -5h-5.8zM372.4 139.6l2.9 -5h-5.8zM373.1 139.9l2.9 -5h-5.8zM373.7 140.1l2.9 -5h-5.8zM374.3 140.6l2.9 -5h-5.8zM375 140l2.9 -5h-5.8zM375.6 141l2.9 -5h-5.8zM376.2 142.2l2.9 -5h-5.8zM376.8 142.1l2.9 -5h-5.8zM377.4 141.9l2.9 -5h-5.8zM378 141.4l2.9 -5h-5.8zM378.6 141.7l2.9 -5h-5.8zM379.2 143l2.9 -5h-5.8zM379.8 142.8l2.9 -5h-5.8zM380.4 143.8l2.9 -5h-5.8zM381 143.9l2.9 -5h-5.8zM381.5 144.1l2.9 -5h-5.8zM382.1 143.8l2.9 -5h-5.8zM382.7 144.9l2.9 -5h-5.8zM383.2 144.3l2.9 -5h-5.8zM383.8 144.6l2.9 -5h-5.8zM384.3 145.1l2.9 -5h-5.8zM384.9 146.5l2.9 -5h-5.8zM385.4 146.6l2.9 -5h-5.8zM385.9 147l2.9 -5h-5.8zM386.4 146.1l2.9 -5h-5.8zM387 145.4l2.9 -5h-5.8zM387.5 146.4l2.9 -5h-5.8zM388 146.4l2.9 -5h-5.8zM388.5 147.4l2.9 -5h-5.8zM389 147.6l2.9 -5h-5.8zM389.5 148l2.9 -5h-5.8zM390 149.3l2.9 -5h-5.8zM390.5 147.5l2.9 -5h-5.8zM391 148.7l2.9 -5h-5.8zM391.5 148l2.9 -5h-5.8zM392 149.2l2.9 -5h-5.8zM392.5 149.5l2.9 -5h-5.8zM392.9 149.3l2.9 -5h-5.8zM393.4 149.4l2.9 -5h-5.8zM393.9 151.3l2.9 -5h-5.8zM394.3 150.3l2.9 -5h-5.8zM394.8 150.6l2.9 -5h-5.8zM395.3 151.6l2.9 -5h-5.8zM395.7 149.9l2.9 -5h-5.8zM396.2 150.7l2.9 -5h-5.8zM396.6 150.5l2.9 -5h-5.8zM397.1 151.8l2.9 -5h-5.8zM397.5 151.2l2.9 -5h-5.8zM398 152.5l2.9 -5h-5.8zM398.4 152.6l2.9 -5h-5.8zM398.8 153.9l2.9 -5h-5.8zM399.3 153.2l2.9 -5h-5.8zM399.7 153.3l2.9 -5h-5.8zM400.1 154.4l2.9 -5h-5.8zM400.5 153.2l2.9 -5h-5.8zM401 154.8l2.9 -5h-5.8zM401.4 153.9l2.9 -5h-5.8zM401.8 154.4l2.9 -5h-5.8zM402.2 155.5l2.9 -5h-5.8zM402.6 155.8l2.9 -5h-5.8zM403 155.2l2.9 -5h-5.8zM403.4 154.7l2.9 -5h-5.8zM403.8 154.9l2.9 -5h-5.8zM404.2 155.6l2.9 -5h-5.8zM404.6 154.8l2.9 -5h-5.8zM405 156.2l2.9 -5h-5.8zM405.4 155.8l2.9 -5h-5.8zM405.8 157.6l2.9 -5h-5.8zM406.2 156.8l2.9 -5h-5.8zM406.6 156.5l2.9 -5h-5.8zM407 157.3l2.9 -5h-5.8zM407.3 157.7l2.9 -5h-5.8zM407.7 156.9l2.9 -5h-5.8zM408.1 158.2l2.9 -5h-5.8zM408.5 157.6l2.9 -5h-5.8zM408.8 159.2l2.9 -5h-5.8zM409.2 158.3l2.9 -5h-5.8zM409.6 159.6l2.9 -5h-5.8zM409.9 158l2.9 -5h-5.8zM410.3 160.1l2.9 -5h-5.8zM410.7 158.4l2.9 -5h-5.8zM411 158.3l2.9 -5h-5.8zM411.4 158.8l2.9 -5h-5.8zM411.7 160.2l2.9 -5h-5.8zM412.1 159.6l2.9 -5h-5.8zM412.4 159.8l2.9 -5h-5.8zM412.8 159.8l2.9 -5h-5.8zM413.1 161.5l2.9 -5h-5.8zM413.5 163.4l2.9 -5h-5.8zM413.8 161l2.9 -5h-5.8zM414.2 160.8l2.9 -5h-5.8zM414.5 160.5l2.9 -5h-5.8zM414.8 160.5l2.9 -5h-5.8zM415.2 163.5l2.9 -5h-5.8zM415.5 162.2l2.9 -5h-5.8zM415.8 162.1l2.9 -5h-5.8zM416.2 161.4l2.9 -5h-5.8zM416.5 161.4l2.9 -5h-5.8zM416.8 163.1l2.9 -5h-5.8zM417.2 161.6l2.9 -5h-5.8zM417.5 163.2l2.9 -5h-5.8zM417.8 161.7l2.9 -5h-5.8zM418.1 162.4l2.9 -5h-5.8zM418.5 161.9l2.9 -5h-5.8zM418.8 162.5l2.9 -5h-5.8zM419.1 163.8l2.9 -5h-5.8zM419.4 163.3l2.9 -5h-5.8zM419.7 162.5l2.9 -5h-5.8zM420 163.4l2.9 -5h-5.8zM420.3 163.8l2.9 -5h-5.8zM420.6 164.8l2.9 -5h-5.8zM421 164.8l2.9 -5h-5.8zM421.3 163.5l2.9 -5h-5.8zM421.6 165.2l2.9 -5h-5.8zM421.9 164.5l2.9 -5h-5.8zM422.2 166.8l2.9 -5h-5.8zM422.5 165.8l2.9 -5h-5.8zM422.8 165.3l2.9 -5h-5.8zM423.1 165.5l2.9 -5h-5.8zM423.4 164.1l2.9 -5h-5.8zM423.7 164l2.9 -5h-5.8zM423.9 165.1l2.9 -5h-5.8zM424.2 166.2l2.9 -5h-5.8zM424.5 166.3l2.9 -5h-5.8zM424.8 165.2l2.9 -5h-5.8zM425.1 166.6l2.9 -5h-5.8zM425.4 166l2.9 -5h-5.8zM425.7 166l2.9 -5h-5.8zM426 167l2.9 -5h-5.8zM426.2 166.3l2.9 -5h-5.8zM426.5 166.2l2.9 -5h-5.8zM426.8 167.4l2.9 -5h-5.8zM427.1 169.1l2.9 -5h-5.8zM427.4 167.8l2.9 -5h-5.8zM427.6 166.9l2.9 -5h-5.8zM427.9 167.3l2.9 -5h-5.8zM428.2 169l2.9 -5h-5.8zM428.5 168.4l2.9 -5h-5.8zM428.7 166.8l2.9 -5h-5.8zM429 168.5l2.9 -5h-5.8zM429.3 169l2.9 -5h-5.8zM429.6 167.4l2.9 -5h-5.8zM429.8 168.4l2.9 -5h-5.8zM430.1 169.4l2.9 -5h-5.8zM430.4 169.8l2.9 -5h-5.8zM430.6 168.1l2.9 -5h-5.8zM430.9 169l2.9 -5h-5.8zM431.1 169.2l2.9 -5h-5.8zM431.4 168.3l2.9 -5h-5.8zM431.7 171.6l2.9 -5h-5.8zM431.9 172.1l2.9 -5h-5.8zM432.2 168.7l2.9 -5h-5.8zM432.4 169.8l2.9 -5h-5.8zM432.7 170.9l2.9 -5h-5.8zM432.9 170.7l2.9 -5h-5.8zM433.2 171.2l2.9 -5h-5.8zM433.5 170.9l2.9 -5h-5.8zM433.7 171.1l2.9 -5h-5.8zM434 171.5l2.9 -5h-5.8zM434.2 172.5l2.9 -5h-5.8zM434.5 171.1l2.9 -5h-5.8zM434.7 171.4l2.9 -5h-5.8zM435 172.9l2.9 -5h-5.8zM435.2 173.7l2.9 -5h-5.8zM435.4 173.2l2.9 -5h-5.8zM435.7 172l2.9 -5h-5.8zM435.9 171.8l2.9 -5h-5.8zM436.2 173l2.9 -5h-5.8zM436.4 173.2l2.9 -5h-5.8zM436.7 173.1l2.9 -5h-5.8zM436.9 174.7l2.9 -5h-5.8zM437.1 174.1l2.9 -5h-5.8zM437.4 173.4l2.9 -5h-5.8zM437.6 174.2l2.9 -5h-5.8zM437.8 176.1l2.9 -5h-5.8zM438.1 175.5l2.9 -5h-5.8zM438.3 173.6l2.9 -5h-5.8zM438.5 173.7l2.9 -5h-5.8zM438.8 175.6l2.9 -5h-5.8zM439 173.9l2.9 -5h-5.8zM439.2 176.5l2.9 -5h-5.8zM439.5 174.5l2.9 -5h-5.8zM439.7 175.9l2.9 -5h-5.8zM439.9 178.1l2.9 -5h-5.8zM440.2 177l2.9 -5h-5.8zM440.4 175.3l2.9 -5h-5.8zM440.6 177.1l2.9 -5h-5.8zM440.8 178l2.9 -5h-5.8zM441.1 176.8l2.9 -5h-5.8zM441.3 179.2l2.9 -5h-5.8zM441.5 179l2.9 -5h-5.8zM441.7 176.9l2.9 -5h-5.8zM441.9 177.7l2.9 -5h-5.8zM442.2 178.5l2.9 -5h-5.8zM442.4 177.7l2.9 -5h-5.8zM442.6 179l2.9 -5h-5.8zM442.8 177.2l2.9 -5h-5.8zM443 180.3l2.9 -5h-5.8zM443.3 178.8l2.9 -5h-5.8zM443.5 178.5l2.9 -5h-5.8zM443.7 180.8l2.9 -5h-5.8zM443.9 180.6l2.9 -5h-5.8zM444.1 182.4l2.9 -5h-5.8zM444.3 181.3l2.9 -5h-5.8zM444.5 180.9l2.9 -5h-5.8zM444.8 181.3l2.9 -5h-5.8zM445 182l2.9 -5h-5.8zM445.2 181.3l2.9 -5h-5.8zM445.4 179.1l2.9 -5h-5.8zM445.6 182.5l2.9 -5h-5.8zM445.8 181.4l2.9 -5h-5.8zM446 183.5l2.9 -5h-5.8zM446.2 181.6l2.9 -5h-5.8zM446.4 182.5l2.9 -5h-5.8zM446.6 184.3l2.9 -5h-5.8zM446.8 183.8l2.9 -5h-5.8zM447 186.2l2.9 -5h-5.8zM447.3 181.9l2.9 -5h-5.8zM447.5 185.5l2.9 -5h-5.8zM447.7 186.4l2.9 -5h-5.8zM447.9 183l2.9 -5h-5.8zM448.1 186.7l2.9 -5h-5.8zM448.3 185.3l2.9 -5h-5.8zM448.5 185.2l2.9 -5h-5.8zM448.7 183.8l2.9 -5h-5.8zM448.9 185.2l2.9 -5h-5.8zM449.1 187.6l2.9 -5h-5.8zM449.3 185.3l2.9 -5h-5.8zM449.5 185.9l2.9 -5h-5.8zM449.6 186.4l2.9 -5h-5.8zM449.8 186.4l2.9 -5h-5.8zM450 188.5l2.9 -5h-5.8zM450.2 185.8l2.9 -5h-5.8zM450.4 188.7l2.9 -5h-5.8zM450.6 185.2l2.9 -5h-5.8zM450.8 186.9l2.9 -5h-5.8zM451 191.8l2.9 -5h-5.8zM451.2 185.6l2.9 -5h-5.8zM451.4 189.7l2.9 -5h-5.8zM451.6 186.7l2.9 -5h-5.8zM451.8 189.7l2.9 -5h-5.8zM452 190.3l2.9 -5h-5.8zM452.1 189.1l2.9 -5h-5.8zM452.3 189.9l2.9 -5h-5.8zM452.5 190.3l2.9 -5h-5.8zM452.7 188.1l2.9 -5h-5.8zM452.9 186.7l2.9 -5h-5.8zM453.1 189.9l2.9 -5h-5.8zM453.3 187.8l2.9 -5h-5.8zM453.5 189.1l2.9 -5h-5.8zM453.6 190.1l2.9 -5h-5.8zM453.8 191.8l2.9 -5h-5.8zM454 190.5l2.9 -5h-5.8zM454.2 188.9l2.9 -5h-5.8zM454.4 188.3l2.9 -5h-5.8zM454.6 189.1l2.9 -5h-5.8zM454.7 190.7l2.9 -5h-5.8zM454.9 190.3l2.9 -5h-5.8zM455.1 191.8l2.9 -5h-5.8zM455.3 189.3l2.9 -5h-5.8zM455.5 190.7l2.9 -5h-5.8zM455.6 190.1l2.9 -5h-5.8zM455.8 191.6l2.9 -5h-5.8zM456 195.6l2.9 -5h-5.8zM456.2 192.6l2.9 -5h-5.8zM456.3 193.6l2.9 -5h-5.8zM456.5 191.4l2.9 -5h-5.8zM456.7 192.1l2.9 -5h-5.8zM456.9 190.5l2.9 -5h-5.8zM457 193.9l2.9 -5h-5.8zM457.2 193.3l2.9 -5h-5.8zM457.4 197.3l2.9 -5h-5.8zM457.6 194.2l2.9 -5h-5.8zM457.7 194.7l2.9 -5h-5.8zM457.9 195l2.9 -5h-5.8zM458.1 196.6l2.9 -5h-5.8zM458.3 195.3l2.9 -5h-5.8zM458.4 195.3l2.9 -5h-5.8zM458.6 194.2l2.9 -5h-5.8zM458.8 199.2l2.9 -5h-5.8zM458.9 196.6l2.9 -5h-5.8zM459.1 197.6l2.9 -5h-5.8zM459.3 197.3l2.9 -5h-5.8zM459.4 196.9l2.9 -5h-5.8zM459.6 200.4l2.9 -5h-5.8zM459.8 196.6l2.9 -5h-5.8zM459.9 195.9l2.9 -5h-5.8zM460.1 200.8l2.9 -5h-5.8zM460.3 200.4l2.9 -5h-5.8zM460.4 199.6l2.9 -5h-5.8zM460.6 198.8l2.9 -5h-5.8zM460.8 202.8l2.9 -5h-5.8zM460.9 207l2.9 -5h-5.8zM461.1 201.8l2.9 -5h-5.8zM461.3 199.2l2.9 -5h-5.8zM461.4 199.2l2.9 -5h-5.8zM461.6 210.1l2.9 -5h-5.8zM461.8 201.8l2.9 -5h-5.8zM461.9 207.7l2.9 -5h-5.8zM462.1 200.8l2.9 -5h-5.8zM462.2 206.3l2.9 -5h-5.8zM462.4 206.3l2.9 -5h-5.8zM462.6 204.4l2.9 -5h-5.8zM462.7 207.7l2.9 -5h-5.8zM462.9 203.9l2.9 -5h-5.8zM463 204.4l2.9 -5h-5.8zM463.2 208.5l2.9 -5h-5.8zM463.4 207l2.9 -5h-5.8zM463.5 206.3l2.9 -5h-5.8zM463.7 210.1l2.9 -5h-5.8zM463.8 212l2.9 -5h-5.8zM464 213l2.9 -5h-5.8zM464.1 207l2.9 -5h-5.8zM464.3 212l2.9 -5h-5.8zM464.5 208.5l2.9 -5h-5.8zM464.6 209.3l2.9 -5h-5.8zM464.8 210.1l2.9 -5h-5.8zM464.9 205.6l2.9 -5h-5.8zM465.1 213l2.9 -5h-5.8zM465.2 211l2.9 -5h-5.8zM465.4 214.1l2.9 -5h-5.8zM465.5 216.7l2.9 -5h-5.8zM465.7 218.2l2.9 -5h-5.8zM465.8 219.8l2.9 -5h-5.8zM466 221.7l2.9 -5h-5.8zM466.1 214.1l2.9 -5h-5.8zM466.3 223.8l2.9 -5h-5.8zM466.5 218.2l2.9 -5h-5.8zM466.6 223.8l2.9 -5h-5.8zM466.8 223.8l2.9 -5h-5.8zM466.9 229.5l2.9 -5h-5.8zM467.1 218.2l2.9 -5h-5.8zM467.2 223.8l2.9 -5h-5.8zM467.3 233.5l2.9 -5h-5.8zM467.5 239.2l2.9 -5h-5.8zM467.6 221.7l2.9 -5h-5.8zM467.8 229.5l2.9 -5h-5.8zM467.9 248.9l2.9 -5h-5.8zM468.1 229.5l2.9 -5h-5.8zM468.2 226.4l2.9 -5h-5.8zM468.4 229.5l2.9 -5h-5.8zM468.5 248.9l2.9 -5h-5.8zM468.7 248.9l2.9 -5h-5.8zM468.8 248.9l2.9 -5h-5.8zM469 239.2l2.9 -5h-5.8zM469.1 248.9l2.9 -5h-5.8zM469.4 248.9l2.9 -5h-5.8zM469.5 248.9l2.9 -5h-5.8zM469.7 248.9l2.9 -5h-5.8zM470 239.2l2.9 -5h-5.8zM470.1 248.9l2.9 -5h-5.8zM470.3 233.5l2.9 -5h-5.8zM470.4 239.2l2.9 -5h-5.8zM470.5 239.2l2.9 -5h-5.8zM470.7 248.9l2.9 -5h-5.8zM471 248.9l2.9 -5h-5.8zM471.2 233.5l2.9 -5h-5.8zM471.5 248.9l2.9 -5h-5.8zM471.7 248.9l2.9 -5h-5.8zM471.8 248.9l2.9 -5h-5.8zM472.1 239.2l2.9 -5h-5.8zM472.2 248.9l2.9 -5h-5.8zM472.6 248.9l2.9 -5h-5.8zM475.4 248.9l2.9 -5h-5.8z" fill="none" stroke="#008080" stroke-width="1.5" stroke-linejoin="miter"/>
<path d="M120.1 26.5l5 2.9v-5.8zM146.1 45.1l5 2.9v-5.8zM164.6 48l5 2.9v-5.8zM178.9 62l5 2.9v-5.8zM190.6 65.3l5 2.9v-5.8zM200.4 73.4l5 2.9v-5.8zM209 76l5 2.9v-5.8zM216.5 78.5l5 2.9v-5.8zM223.3 86l5 2.9v-5.8zM229.4 87.7l5 2.9v-5.8zM235 90.7l5 2.9v-5.8zM240.1 92.4l5 2.9v-5.8zM244.9 95.6l5 2.9v-5.8zM249.3 97.7l5 2.9v-5.8zM253.4 98.7l5 2.9v-5.8zM257.3 100.9l5 2.9v-5.8zM261 104.1l5 2.9v-5.8zM264.4 105.2l5 2.9v-5.8zM267.7 108l5 2.9v-5.8zM270.9 108.7l5 2.9v-5.8zM273.8 111.6l5 2.9v-5.8zM276.7 112l5 2.9v-5.8zM279.4 114.3l5 2.9v-5.8zM282 114.2l5 2.9v-5.8zM284.6 117.1l5 2.9v-5.8zM287 117l5 2.9v-5.8zM289.3 118.7l5 2.9v-5.8zM291.5 119.4l5 2.9v-5.8zM293.7 120.8l5 2.9v-5.8zM295.8 121.7l5 2.9v-5.8zM297.9 123.1l5 2.9v-5.8zM299.8 122.7l5 2.9v-5.8zM301.7 125.1l5 2.9v-5.8zM303.6 125.8l5 2.9v-5.8zM305.4 126l5 2.9v-5.8zM307.2 127.6l5 2.9v-5.8zM308.9 129.1l5 2.9v-5.8zM310.5 128.9l5 2.9v-5.8zM312.2 131.8l5 2.9v-5.8zM313.7 132.2l5 2.9v-5.8zM315.3 132.1l5 2.9v-5.8zM316.8 132.9l5 2.9v-5.8zM318.3 134.3l5 2.9v-5.8zM319.7 134.2l5 2.9v-5.8zM321.1 135.7l5 2.9v-5.8zM322.5 135.9l5 2.9v-5.8zM323.9 137.4l5 2.9v-5.8zM325.2 138.5l5 2.9v-5.8zM326.5 139.9l5 2.9v-5.8zM327.7 139.7l5 2.9v-5.8zM329 140.4l5 2.9v-5.8zM330.2 141.6l5 2.9v-5.8zM331.4 140.8l5 2.9v-5.8zM332.6 142l5 2.9v-5.8zM333.7 141.8l5 2.9v-5.8zM334.9 143.8l5 2.9v-5.8zM336 143.5l5 2.9v-5.8zM337.1 145.7l5 2.9v-5.8zM338.2 145.8l5 2.9v-5.8zM339.2 146.3l5 2.9v-5.8zM340.3 146.4l5 2.9v-5.8zM341.3 147.3l5 2.9v-5.8zM342.3 146.3l5 2.9v-5.8zM343.3 147.1l5 2.9v-5.8zM344.3 148.4l5 2.9v-5.8zM345.2 147.5l5 2.9v-5.8zM346.2 148.2l5 2.9v-5.8zM347.1 149.8l5 2.9v-5.8zM348 151l5 2.9v-5.8zM348.9 149.7l5 2.9v-5.8zM349.8 151.4l5 2.9v-5.8zM350.7 153.5l5 2.9v-5.8zM351.6 150.6l5 2.9v-5.8zM352.5 151.1l5 2.9v-5.8zM353.3 150.9l5 2.9v-5.8zM354.1 152.5l5 2.9v-5.8zM355 153.9l5 2.9v-5.8zM355.8 153.3l5 2.9v-5.8zM356.6 154.1l5 2.9v-5.8zM357.4 151.3l5 2.9v-5.8zM358.2 153.3l5 2.9v-5.8zM359 156.4l5 2.9v-5.8zM359.7 154.9l5 2.9v-5.8zM360.5 155.2l5 2.9v-5.8zM361.2 156.2l5 2.9v-5.8zM362 154.8l5 2.9v-5.8zM362.7 157.3l5 2.9v-5.8zM363.4 155.8l5 2.9v-5.8zM364.1 156.4l5 2.9v-5.8zM364.9 158l5 2.9v-5.8zM365.6 157.9l5 2.9v-5.8zM366.2 157l5 2.9v-5.8zM366.9 158.3l5 2.9v-5.8zM367.6 157l5 2.9v-5.8zM368.3 157.2l5 2.9v-5.8zM368.9 158l5 2.9v-5.8zM369.6 158.4l5 2.9v-5.8zM370.3 160.2l5 2.9v-5.8zM370.9 161.2l5 2.9v-5.8zM371.5 161.8l5 2.9v-5.8zM372.2 159.6l5 2.9v-5.8zM372.8 162.1l5 2.9v-5.8zM373.4 162.3l5 2.9v-5.8zM374 162.8l5 2.9v-5.8zM374.6 159.5l5 2.9v-5.8zM375.2 164.4l5 2.9v-5.8zM375.8 162.8l5 2.9v-5.8zM376.4 161.2l5 2.9v-5.8zM377 163l5 2.9v-5.8zM377.6 161.5l5 2.9v-5.8zM378.2 163.2l5 2.9v-5.8zM378.7 164.1l5 2.9v-5.8zM379.3 164l5 2.9v-5.8zM379.9 164.8l5 2.9v-5.8zM380.4 163.7l5 2.9v-5.8zM381 163.8l5 2.9v-5.8zM381.5 166l5 2.9v-5.8zM382.1 164.1l5 2.9v-5.8zM382.6 166l5 2.9v-5.8zM383.1 165.9l5 2.9v-5.8zM383.6 165.2l5 2.9v-5.8zM384.2 163.9l5 2.9v-5.8zM384.7 165l5 2.9v-5.8zM385.2 166l5 2.9v-5.8zM385.7 167.1l5 2.9v-5.8zM386.2 168.6l5 2.9v-5.8zM386.7 167.3l5 2.9v-5.8zM387.2 165.9l5 2.9v-5.8zM387.7 167.1l5 2.9v-5.8zM388.2 164.9l5 2.9v-5.8zM388.7 167.8l5 2.9v-5.8zM389.2 168.1l5 2.9v-5.8zM389.7 169.6l5 2.9v-5.8zM390.1 170.8l5 2.9v-5.8zM390.6 167.8l5 2.9v-5.8zM391.1 167l5 2.9v-5.8zM391.5 169.4l5 2.9v-5.8zM392 169.6l5 2.9v-5.8zM392.5 169.4l5 2.9v-5.8zM392.9 170.3l5 2.9v-5.8zM393.4 168.7l5 2.9v-5.8zM393.8 168.5l5 2.9v-5.8zM394.3 171.6l5 2.9v-5.8zM394.7 169.7l5 2.9v-5.8zM395.2 169.6l5 2.9v-5.8zM395.6 171.5l5 2.9v-5.8zM396 169.1l5 2.9v-5.8zM396.5 171.2l5 2.9v-5.8zM396.9 172.5l5 2.9v-5.8zM397.3 170.7l5 2.9v-5.8zM397.7 170.7l5 2.9v-5.8zM398.2 172.9l5 2.9v-5.8zM398.6 171.2l5 2.9v-5.8zM399 171.7l5 2.9v-5.8zM399.4 169.9l5 2.9v-5.8zM399.8 170.8l5 2.9v-5.8zM400.2 172.7l5 2.9v-5.8zM400.6 172.2l5 2.9v-5.8zM401 171.4l5 2.9v-5.8zM401.4 173.5l5 2.9v-5.8zM401.8 173.4l5 2.9v-5.8zM402.2 171.2l5 2.9v-5.8zM402.6 174.2l5 2.9v-5.8zM403 171.1l5 2.9v-5.8zM403.4 172.5l5 2.9v-5.8zM403.8 172.5l5 2.9v-5.8zM404.2 172.8l5 2.9v-5.8zM404.5 171.8l5 2.9v-5.8zM404.9 171.8l5 2.9v-5.8zM405.3 174.3l5 2.9v-5.8zM405.7 172.5l5 2.9v-5.8zM406 173.4l5 2.9v-5.8zM406.4 172.4l5 2.9v-5.8zM406.8 173.4l5 2.9v-5.8zM407.1 172.1l5 2.9v-5.8zM407.5 174.6l5 2.9v-5.8zM407.9 174.4l5 2.9v-5.8zM408.2 174l5 2.9v-5.8zM408.6 173.2l5 2.9v-5.8zM408.9 173.3l5 2.9v-5.8zM409.3 173.3l5 2.9v-5.8zM409.6 173.2l5 2.9v-5.8zM410 173.6l5 2.9v-5.8zM410.3 172l5 2.9v-5.8zM410.7 174.2l5 2.9v-5.8zM411 174.4l5 2.9v-5.8zM411.4 177.1l5 2.9v-5.8zM411.7 173.2l5 2.9v-5.8zM412 173.3l5 2.9v-5.8zM412.4 173.5l5 2.9v-5.8zM412.7 173.1l5 2.9v-5.8zM413 172.3l5 2.9v-5.8zM413.4 171.9l5 2.9v-5.8zM413.7 172.4l5 2.9v-5.8zM414 174.2l5 2.9v-5.8zM414.4 174.3l5 2.9v-5.8zM414.7 175l5 2.9v-5.8zM415 172.4l5 2.9v-5.8zM415.3 174.9l5 2.9v-5.8zM415.7 176.6l5 2.9v-5.8zM416 172.7l5 2.9v-5.8zM416.3 177.4l5 2.9v-5.8zM416.6 175.3l5 2.9v-5.8zM416.9 174.2l5 2.9v-5.8zM417.2 174.6l5 2.9v-5.8zM417.5 174.7l5 2.9v-5.8zM417.8 174.2l5 2.9v-5.8zM418.2 173.7l5 2.9v-5.8zM418.5 176.3l5 2.9v-5.8zM418.8 176.3l5 2.9v-5.8zM419.1 174l5 2.9v-5.8zM419.4 175.1l5 2.9v-5.8zM419.7 173.7l5 2.9v-5.8zM420 173l5 2.9v-5.8zM420.3 176.4l5 2.9v-5.8zM420.6 175.6l5 2.9v-5.8zM420.9 176.3l5 2.9v-5.8zM421.1 176.4l5 2.9v-5.8zM421.4 174.4l5 2.9v-5.8zM421.7 175.8l5 2.9v-5.8zM422 174.4l5 2.9v-5.8zM422.3 177.8l5 2.9v-5.8zM422.6 176.3l5 2.9v-5.8zM422.9 174.7l5 2.9v-5.8zM423.2 174.4l5 2.9v-5.8zM423.4 177l5 2.9v-5.8zM423.7 176.2l5 2.9v-5.8zM424 175.1l5 2.9v-5.8zM424.3 176.3l5 2.9v-5.8zM424.6 176.3l5 2.9v-5.8zM424.8 175.7l5 2.9v-5.8zM425.1 175.5l5 2.9v-5.8zM425.4 174.7l5 2.9v-5.8zM425.7 175.9l5 2.9v-5.8zM425.9 175.4l5 2.9v-5.8zM426.2 174.7l5 2.9v-5.8zM426.5 173l5 2.9v-5.8zM426.8 175.1l5 2.9v-5.8zM427 175.8l5 2.9v-5.8zM427.3 175.1l5 2.9v-5.8zM427.6 175.2l5 2.9v-5.8zM427.8 176.3l5 2.9v-5.8zM428.1 177.1l5 2.9v-5.8zM428.3 175.4l5 2.9v-5.8zM428.6 176.9l5 2.9v-5.8zM428.9 174l5 2.9v-5.8zM429.1 175.4l5 2.9v-5.8zM429.4 176.4l5 2.9v-5.8zM429.6 176.2l5 2.9v-5.8zM429.9 174l5 2.9v-5.8zM430.1 177.5l5 2.9v-5.8zM430.4 175.4l5 2.9v-5.8zM430.7 175.5l5 2.9v-5.8zM430.9 177.5l5 2.9v-5.8zM431.2 175.6l5 2.9v-5.8zM431.4 177.5l5 2.9v-5.8zM431.7 175.9l5 2.9v-5.8zM431.9 175.1l5 2.9v-5.8zM432.2 175.6l5 2.9v-5.8zM432.4 176.4l5 2.9v-5.8zM432.6 176.8l5 2.9v-5.8zM432.9 175.4l5 2.9v-5.8zM433.1 177.3l5 2.9v-5.8zM433.4 173.7l5 2.9v-5.8zM433.6 175.7l5 2.9v-5.8zM433.9 172.8l5 2.9v-5.8zM434.1 176.4l5 2.9v-5.8zM434.3 174.3l5 2.9v-5.8zM434.6 174.6l5 2.9v-5.8zM434.8 177.8l5 2.9v-5.8zM435 171l5 2.9v-5.8zM435.3 177.3l5 2.9v-5.8zM435.5 175.7l5 2.9v-5.8zM435.7 177.6l5 2.9v-5.8zM436 174.1l5 2.9v-5.8zM436.2 175.3l5 2.9v-5.8zM436.4 174.1l5 2.9v-5.8zM436.7 176.2l5 2.9v-5.8zM436.9 175.3l5 2.9v-5.8zM437.1 176.1l5 2.9v-5.8zM437.4 173.7l5 2.9v-5.8zM437.6 175.3l5 2.9v-5.8zM437.8 178.5l5 2.9v-5.8zM438 176.7l5 2.9v-5.8zM438.3 175.2l5 2.9v-5.8zM438.5 172.7l5 2.9v-5.8zM438.7 172.8l5 2.9v-5.8zM438.9 175.9l5 2.9v-5.8zM439.1 176.9l5 2.9v-5.8zM439.4 175.3l5 2.9v-5.8zM439.6 175.6l5 2.9v-5.8zM439.8 177.1l5 2.9v-5.8zM440 175.3l5 2.9v-5.8zM440.2 176.3l5 2.9v-5.8zM440.5 174.3l5 2.9v-5.8zM440.7 175.8l5 2.9v-5.8zM440.9 174l5 2.9v-5.8zM441.1 177.2l5 2.9v-5.8zM441.3 175.8l5 2.9v-5.8zM441.5 175.3l5 2.9v-5.8zM441.7 176.6l5 2.9v-5.8zM442 175.7l5 2.9v-5.8zM442.2 175.3l5 2.9v-5.8zM442.4 173.8l5 2.9v-5.8zM442.6 175.2l5 2.9v-5.8zM442.8 178.5l5 2.9v-5.8zM443 177.3l5 2.9v-5.8zM443.2 175.1l5 2.9v-5.8zM443.4 174.5l5 2.9v-5.8zM443.6 175.9l5 2.9v-5.8zM443.8 176.5l5 2.9v-5.8zM444 176.5l5 2.9v-5.8zM444.2 173.4l5 2.9v-5.8zM444.5 175.7l5 2.9v-5.8zM444.7 175.3l5 2.9v-5.8zM444.9 174.2l5 2.9v-5.8zM445.1 175.3l5 2.9v-5.8zM445.3 173l5 2.9v-5.8zM445.5 173.3l5 2.9v-5.8zM445.7 177.1l5 2.9v-5.8zM445.9 173.9l5 2.9v-5.8zM446.1 175.9l5 2.9v-5.8zM446.3 179.7l5 2.9v-5.8zM446.5 177l5 2.9v-5.8zM446.7 175.3l5 2.9v-5.8zM446.8 174.2l5 2.9v-5.8zM447 176.3l5 2.9v-5.8zM447.2 175.7l5 2.9v-5.8zM447.4 175.3l5 2.9v-5.8zM447.6 177.8l5 2.9v-5.8zM447.8 173.4l5 2.9v-5.8zM448 172.2l5 2.9v-5.8zM448.2 175.9l5 2.9v-5.8zM448.4 175.5l5 2.9v-5.8zM448.6 174.7l5 2.9v-5.8zM448.8 175.9l5 2.9v-5.8zM449 175.4l5 2.9v-5.8zM449.2 178.6l5 2.9v-5.8zM449.3 175.7l5 2.9v-5.8zM449.5 176.2l5 2.9v-5.8zM449.7 175.9l5 2.9v-5.8zM449.9 176l5 2.9v-5.8zM450.1 175.2l5 2.9v-5.8zM450.3 175.2l5 2.9v-5.8zM450.5 176.8l5 2.9v-5.8zM450.7 174.3l5 2.9v-5.8zM450.8 174.2l5 2.9v-5.8zM451 175.2l5 2.9v-5.8zM451.2 175.5l5 2.9v-5.8zM451.4 177.4l5 2.9v-5.8zM451.6 175.3l5 2.9v-5.8zM451.8 175.5l5 2.9v-5.8zM451.9 176l5 2.9v-5.8zM452.1 172.8l5 2.9v-5.8zM452.3 175.6l5 2.9v-5.8zM452.5 175.1l5 2.9v-5.8zM452.7 174.7l5 2.9v-5.8zM452.8 173.1l5 2.9v-5.8zM453 173.7l5 2.9v-5.8zM453.2 177l5 2.9v-5.8zM453.4 175l5 2.9v-5.8zM453.5 174.3l5 2.9v-5.8zM453.7 177.1l5 2.9v-5.8zM453.9 175.2l5 2.9v-5.8zM454.1 174.7l5 2.9v-5.8zM454.2 175.3l5 2.9v-5.8zM454.4 174.9l5 2.9v-5.8zM454.6 173.1l5 2.9v-5.8zM454.8 175.6l5 2.9v-5.8zM454.9 174.1l5 2.9v-5.8zM455.1 176.1l5 2.9v-5.8zM455.3 173.7l5 2.9v-5.8zM455.5 175.3l5 2.9v-5.8zM455.6 172.9l5 2.9v-5.8zM455.8 175.1l5 2.9v-5.8zM456 177.1l5 2.9v-5.8zM456.1 178l5 2.9v-5.8zM456.3 174.7l5 2.9v-5.8zM456.5 174.8l5 2.9v-5.8zM456.6 176.4l5 2.9v-5.8zM456.8 176.3l5 2.9v-5.8zM457 175.9l5 2.9v-5.8zM457.1 176.5l5 2.9v-5.8zM457.3 176.5l5 2.9v-5.8zM457.5 172.4l5 2.9v-5.8zM457.6 174.6l5 2.9v-5.8zM457.8 175.3l5 2.9v-5.8zM458 177.5l5 2.9v-5.8zM458.1 175.2l5 2.9v-5.8zM458.3 176.1l5 2.9v-5.8zM458.5 175.1l5 2.9v-5.8zM458.6 174.7l5 2.9v-5.8zM458.8 173.2l5 2.9v-5.8zM459 174.6l5 2.9v-5.8zM459.1 175.1l5 2.9v-5.8zM459.3 175.5l5 2.9v-5.8zM459.4 173.1l5 2.9v-5.8zM459.6 174l5 2.9v-5.8zM459.8 175.3l5 2.9v-5.8zM459.9 177.2l5 2.9v-5.8zM460.1 177.1l5 2.9v-5.8zM460.2 175.3l5 2.9v-5.8zM460.4 177.6l5 2.9v-5.8zM460.6 176.8l5 2.9v-5.8zM460.7 175.3l5 2.9v-5.8zM460.9 177.7l5 2.9v-5.8zM461 175l5 2.9v-5.8zM461.2 176.9l5 2.9v-5.8zM461.3 177.6l5 2.9v-5.8zM461.5 176.6l5 2.9v-5.8zM461.7 173.4l5 2.9v-5.8zM461.8 174.7l5 2.9v-5.8zM462 176.9l5 2.9v-5.8zM462.1 174.2l5 2.9v-5.8zM462.3 173.8l5 2.9v-5.8zM462.4 178l5 2.9v-5.8zM462.6 174.3l5 2.9v-5.8zM462.7 175.4l5 2.9v-5.8zM462.9 174.5l5 2.9v-5.8zM463 175.1l5 2.9v-5.8zM463.2 173.8l5 2.9v-5.8zM463.3 175.4l5 2.9v-5.8zM463.5 176l5 2.9v-5.8zM463.7 173.4l5 2.9v-5.8zM463.8 177.4l5 2.9v-5.8zM464 175.7l5 2.9v-5.8zM464.1 173.1l5 2.9v-5.8zM464.3 174.9l5 2.9v-5.8zM464.4 174.7l5 2.9v-5.8zM464.5 176.7l5 2.9v-5.8zM464.7 174.1l5 2.9v-5.8zM464.8 175.3l5 2.9v-5.8zM465 176.2l5 2.9v-5.8zM465.1 176l5 2.9v-5.8zM465.3 174.2l5 2.9v-5.8zM465.4 176.8l5 2.9v-5.8zM465.6 176l5 2.9v-5.8zM465.7 172.3l5 2.9v-5.8zM465.9 173l5 2.9v-5.8zM466 175.8l5 2.9v-5.8zM466.2 174.5l5 2.9v-5.8zM466.3 175.6l5 2.9v-5.8zM466.5 173.3l5 2.9v-5.8zM466.6 175.6l5 2.9v-5.8zM466.7 173.8l5 2.9v-5.8zM466.9 176.2l5 2.9v-5.8zM467 174.2l5 2.9v-5.8zM467.2 175.1l5 2.9v-5.8zM467.3 174.7l5 2.9v-5.8zM467.5 173l5 2.9v-5.8zM467.6 175.5l5 2.9v-5.8zM467.7 176.1l5 2.9v-5.8zM467.9 175.3l5 2.9v-5.8zM468 176.9l5 2.9v-5.8zM468.2 173l5 2.9v-5.8zM468.3 173.2l5 2.9v-5.8zM468.4 174.5l5 2.9v-5.8zM468.6 176.4l5 2.9v-5.8zM468.7 176.9l5 2.9v-5.8zM468.9 174.2l5 2.9v-5.8zM469 176l5 2.9v-5.8zM469.1 173.1l5 2.9v-5.8zM469.3 174.7l5 2.9v-5.8zM469.4 173.8l5 2.9v-5.8zM469.6 174l5 2.9v-5.8zM469.7 175.2l5 2.9v-5.8zM469.8 174.8l5 2.9v-5.8zM470 175.7l5 2.9v-5.8zM470.1 175.7l5 2.9v-5.8zM470.2 176.4l5 2.9v-5.8zM470.4 175.7l5 2.9v-5.8zM470.5 174.2l5 2.9v-5.8zM470.6 173.6l5 2.9v-5.8zM470.8 174.3l5 2.9v-5.8zM470.9 177.7l5 2.9v-5.8zM471 174.4l5 2.9v-5.8zM471.2 175.2l5 2.9v-5.8zM471.3 178.5l5 2.9v-5.8zM471.5 175.1l5 2.9v-5.8zM471.6 174.7l5 2.9v-5.8zM471.7 174.5l5 2.9v-5.8zM471.9 174.3l5 2.9v-5.8zM472 176.1l5 2.9v-5.8zM472.1 175.4l5 2.9v-5.8zM472.2 174.2l5 2.9v-5.8zM472.4 174.9l5 2.9v-5.8zM472.5 175.6l5 2.9v-5.8zM472.6 173.4l5 2.9v-5.8zM472.8 176.3l5 2.9v-5.8zM472.9 174.7l5 2.9v-5.8zM473 176l5 2.9v-5.8zM473.2 175.1l5 2.9v-5.8zM473.3 174.3l5 2.9v-5.8zM473.4 175.3l5 2.9v-5.8zM473.6 175.5l5 2.9v-5.8zM473.7 175.9l5 2.9v-5.8zM473.8 172.8l5 2.9v-5.8zM473.9 175.4l5 2.9v-5.8zM474.1 173.9l5 2.9v-5.8zM474.2 175.2l5 2.9v-5.8zM474.3 176.5l5 2.9v-5.8zM474.5 177.5l5 2.9v-5.8zM474.6 175.3l5 2.9v-5.8zM474.7 176l5 2.9v-5.8zM474.8 176l5 2.9v-5.8zM475 177.1l5 2.9v-5.8zM475.1 177.1l5 2.9v-5.8zM475.2 175l5 2.9v-5.8zM475.3 175l5 2.9v-5.8zM475.5 174.2l5 2.9v-5.8zM475.6 174.7l5 2.9v-5.8zM475.7 175.9l5 2.9v-5.8zM475.8 174.9l5 2.9v-5.8zM476 176.1l5 2.9v-5.8zM476.1 177.1l5 2.9v-5.8zM476.2 176.2l5 2.9v-5.8zM476.3 174.2l5 2.9v-5.8zM476.5 174.8l5 2.9v-5.8zM476.6 174.5l5 2.9v-5.8z" fill="none" stroke="#ff00ff" stroke-width="1.5" stroke-linejoin="miter"/>
</g>
<g clip-path="url(#cb)">
<path d="M76.5 289.2h4.1v4.1h-4.1zM120.9 322.2h4.1v4.1h-4.1zM146.9 336.8h4.1v4.1h-4.1zM165.3 339.9h4.1v4.1h-4.1zM179.6 352.9h4.1v4.1h-4.1zM191.3 355.2h4.1v4.1h-4.1zM201.2 362.8h4.1v4.1h-4.1zM209.7 366.3h4.1v4.1h-4.1zM217.3 367.9h4.1v4.1h-4.1zM224 375.2h4.1v4.1h-4.1zM230.2 375.4h4.1v4.1h-4.1zM235.7 379.5h4.1v4.1h-4.1zM240.9 380.1h4.1v4.1h-4.1zM245.6 384.4h4.1v4.1h-4.1zM250 385.3h4.1v4.1h-4.1zM254.2 389.1h4.1v4.1h-4.1zM258.1 389.8h4.1v4.1h-4.1zM261.7 393.5h4.1v4.1h-4.1zM265.2 393.7h4.1v4.1h-4.1zM268.5 397.5h4.1v4.1h-4.1zM271.6 397.7h4.1v4.1h-4.1zM274.6 400.4h4.1v4.1h-4.1zM277.4 401.9h4.1v4.1h-4.1zM280.2 404.3h4.1v4.1h-4.1zM282.8 404.7h4.1v4.1h-4.1zM285.3 406.7h4.1v4.1h-4.1zM287.7 408.2h4.1v4.1h-4.1zM290.1 409.4h4.1v4.1h-4.1zM292.3 410.7h4.1v4.1h-4.1zM294.5 413.5h4.1v4.1h-4.1zM296.6 412.5h4.1v4.1h-4.1zM298.6 413.2h4.1v4.1h-4.1zM300.6 416.2h4.1v4.1h-4.1zM302.5 418.1h4.1v4.1h-4.1zM304.4 418.6h4.1v4.1h-4.1zM306.2 418.9h4.1v4.1h-4.1zM307.9 419.4h4.1v4.1h-4.1zM309.6 421.1h4.1v4.1h-4.1zM311.3 421.1h4.1v4.1h-4.1zM312.9 422.3h4.1v4.1h-4.1zM314.5 423.2h4.1v4.1h-4.1zM316 424.3h4.1v4.1h-4.1zM317.5 427.1h4.1v4.1h-4.1zM319 427.5h4.1v4.1h-4.1zM320.5 429.2h4.1v4.1h-4.1zM321.9 426.5h4.1v4.1h-4.1zM323.3 429.4h4.1v4.1h-4.1zM324.6 431.2h4.1v4.1h-4.1zM325.9 430.7h4.1v4.1h-4.1zM327.2 433.2h4.1v4.1h-4.1zM328.5 431.4h4.1v4.1h-4.1zM329.7 431.6h4.1v4.1h-4.1zM331 433.5h4.1v4.1h-4.1zM332.2 435.6h4.1v4.1h-4.1zM333.3 436.4h4.1v4.1h-4.1zM334.5 436.9h4.1v4.1h-4.1zM335.6 435h4.1v4.1h-4.1zM336.7 440.2h4.1v4.1h-4.1zM337.8 438.9h4.1v4.1h-4.1zM338.9 440.8h4.1v4.1h-4.1zM340 438.1h4.1v4.1h-4.1zM341 441.2h4.1v4.1h-4.1zM342 441h4.1v4.1h-4.1zM343 441.6h4.1v4.1h-4.1zM344 444.3h4.1v4.1h-4.1zM345 441.2h4.1v4.1h-4.1zM346 442.3h4.1v4.1h-4.1zM346.9 445.7h4.1v4.1h-4.1zM347.9 444.6h4.1v4.1h-4.1zM348.8 445h4.1v4.1h-4.1zM349.7 445.5h4.1v4.1h-4.1zM350.6 447.6h4.1v4.1h-4.1zM351.5 444.5h4.1v4.1h-4.1zM352.3 445.6h4.1v4.1h-4.1zM353.2 448.6h4.1v4.1h-4.1zM354.1 447.9h4.1v4.1h-4.1zM354.9 447.6h4.1v4.1h-4.1zM355.7 450.9h4.1v4.1h-4.1zM356.5 452.5h4.1v4.1h-4.1zM357.3 452.9h4.1v4.1h-4.1zM358.1 450.7h4.1v4.1h-4.1zM358.9 452.8h4.1v4.1h-4.1zM359.7 450.1h4.1v4.1h-4.1zM360.5 453.1h4.1v4.1h-4.1zM361.2 452h4.1v4.1h-4.1zM362 451.4h4.1v4.1h-4.1zM362.7 454.1h4.1v4.1h-4.1zM363.5 453.8h4.1v4.1h-4.1zM364.2 454.9h4.1v4.1h-4.1zM364.9 453.8h4.1v4.1h-4.1zM365.6 453.7h4.1v4.1h-4.1zM366.3 454h4.1v4.1h-4.1zM367 455.5h4.1v4.1h-4.1zM367.7 455.8h4.1v4.1h-4.1zM368.4 458.2h4.1v4.1h-4.1zM369 458.7h4.1v4.1h-4.1zM369.7 459.7h4.1v4.1h-4.1zM370.4 459.2h4.1v4.1h-4.1zM371 463.2h4.1v4.1h-4.1zM371.6 460.5h4.1v4.1h-4.1zM372.3 460.9h4.1v4.1h-4.1zM372.9 461.6h4.1v4.1h-4.1zM373.5 460.6h4.1v4.1h-4.1zM374.2 462.9h4.1v4.1h-4.1zM374.8 461.6h4.1v4.1h-4.1zM375.4 462.5h4.1v4.1h-4.1zM376 464.2h4.1v4.1h-4.1zM376.6 463.8h4.1v4.1h-4.1zM377.2 463.5h4.1v4.1h-4.1zM377.8 463.8h4.1v4.1h-4.1zM378.3 466.2h4.1v4.1h-4.1zM378.9 465.8h4.1v4.1h-4.1zM379.5 464.5h4.1v4.1h-4.1zM380 464.7h4.1v4.1h-4.1zM380.6 464.7h4.1v4.1h-4.1zM381.2 467.9h4.1v4.1h-4.1zM381.7 466.2h4.1v4.1h-4.1zM382.3 462.8h4.1v4.1h-4.1zM382.8 468.6h4.1v4.1h-4.1zM383.3 468.1h4.1v4.1h-4.1zM383.9 466.7h4.1v4.1h-4.1zM384.4 467.6h4.1v4.1h-4.1zM384.9 468.4h4.1v4.1h-4.1zM385.4 470.4h4.1v4.1h-4.1zM386 471.4h4.1v4.1h-4.1zM386.5 470.2h4.1v4.1h-4.1zM387 470.9h4.1v4.1h-4.1zM387.5 469.8h4.1v4.1h-4.1zM388 473.1h4.1v4.1h-4.1zM388.5 474.4h4.1v4.1h-4.1zM389 471.5h4.1v4.1h-4.1zM389.4 472.1h4.1v4.1h-4.1zM389.9 469.7h4.1v4.1h-4.1zM390.4 474.4h4.1v4.1h-4.1zM390.9 473.5h4.1v4.1h-4.1zM391.4 471.7h4.1v4.1h-4.1zM391.8 472.2h4.1v4.1h-4.1zM392.3 475.6h4.1v4.1h-4.1zM392.8 475.6h4.1v4.1h-4.1zM393.2 476.2h4.1v4.1h-4.1zM393.7 476.2h4.1v4.1h-4.1zM394.1 475.2h4.1v4.1h-4.1zM394.6 475.6h4.1v4.1h-4.1zM395 476.3h4.1v4.1h-4.1zM395.5 475.3h4.1v4.1h-4.1zM395.9 476.7h4.1v4.1h-4.1zM396.3 475.6h4.1v4.1h-4.1zM396.8 480.7h4.1v4.1h-4.1zM397.2 476.8h4.1v4.1h-4.1zM397.6 479h4.1v4.1h-4.1zM398.1 479.9h4.1v4.1h-4.1zM398.5 479.2h4.1v4.1h-4.1zM398.9 479.5h4.1v4.1h-4.1zM399.3 480.2h4.1v4.1h-4.1zM399.7 478.8h4.1v4.1h-4.1zM400.2 481.2h4.1v4.1h-4.1zM400.6 479.3h4.1v4.1h-4.1zM401 479.9h4.1v4.1h-4.1zM401.4 480.5h4.1v4.1h-4.1zM401.8 479.1h4.1v4.1h-4.1zM402.2 483.6h4.1v4.1h-4.1zM402.6 480.1h4.1v4.1h-4.1zM403 483.7h4.1v4.1h-4.1zM403.4 484.6h4.1v4.1h-4.1zM403.8 482.4h4.1v4.1h-4.1zM404.1 484.6h4.1v4.1h-4.1zM404.5 481.2h4.1v4.1h-4.1zM404.9 484.9h4.1v4.1h-4.1zM405.3 483.7h4.1v4.1h-4.1zM405.7 484.3h4.1v4.1h-4.1zM406 483.2h4.1v4.1h-4.1zM406.4 486.5h4.1v4.1h-4.1zM406.8 486.3h4.1v4.1h-4.1zM407.2 484.5h4.1v4.1h-4.1zM407.5 485h4.1v4.1h-4.1zM407.9 485.9h4.1v4.1h-4.1zM408.3 485.7h4.1v4.1h-4.1zM408.6 483.5h4.1v4.1h-4.1zM409 488.7h4.1v4.1h-4.1zM409.3 486.4h4.1v4.1h-4.1zM409.7 487.7h4.1v4.1h-4.1zM410 485.1h4.1v4.1h-4.1zM410.4 486h4.1v4.1h-4.1zM410.7 485.7h4.1v4.1h-4.1zM411.1 487.2h4.1v4.1h-4.1zM411.4 485.8h4.1v4.1h-4.1zM411.8 485.1h4.1v4.1h-4.1zM412.1 488.7h4.1v4.1h-4.1zM412.5 487h4.1v4.1h-4.1zM412.8 488.2h4.1v4.1h-4.1zM413.1 494h4.1v4.1h-4.1zM413.5 489.2h4.1v4.1h-4.1zM413.8 488.2h4.1v4.1h-4.1zM414.1 489.5h4.1v4.1h-4.1zM414.5 491.2h4.1v4.1h-4.1zM414.8 488.9h4.1v4.1h-4.1zM415.1 488.9h4.1v4.1h-4.1zM415.4 491.3h4.1v4.1h-4.1zM415.8 489.8h4.1v4.1h-4.1zM416.1 494.1h4.1v4.1h-4.1zM416.4 490.2h4.1v4.1h-4.1zM416.7 491.2h4.1v4.1h-4.1zM417 494.9h4.1v4.1h-4.1zM417.4 491.7h4.1v4.1h-4.1zM417.7 491.3h4.1v4.1h-4.1zM418 492.9h4.1v4.1h-4.1zM418.3 496.4h4.1v4.1h-4.1zM418.6 495.7h4.1v4.1h-4.1zM418.9 491.4h4.1v4.1h-4.1zM419.2 493.8h4.1v4.1h-4.1zM419.5 492.1h4.1v4.1h-4.1zM419.8 495.5h4.1v4.1h-4.1zM420.1 493.1h4.1v4.1h-4.1zM420.4 494.3h4.1v4.1h-4.1zM420.7 494.1h4.1v4.1h-4.1zM421 498.1h4.1v4.1h-4.1zM421.3 492.7h4.1v4.1h-4.1zM421.6 492.1h4.1v4.1h-4.1zM421.9 498.8h4.1v4.1h-4.1zM422.2 496.4h4.1v4.1h-4.1zM422.5 496.4h4.1v4.1h-4.1zM422.8 497.3h4.1v4.1h-4.1zM423.1 493.8h4.1v4.1h-4.1zM423.3 494h4.1v4.1h-4.1zM423.6 494.2h4.1v4.1h-4.1zM423.9 498.3h4.1v4.1h-4.1zM424.2 497.8h4.1v4.1h-4.1zM424.5 494.7h4.1v4.1h-4.1zM424.8 497.3h4.1v4.1h-4.1zM425 496.2h4.1v4.1h-4.1zM425.3 499.9h4.1v4.1h-4.1zM425.6 500.3h4.1v4.1h-4.1zM425.9 496.5h4.1v4.1h-4.1zM426.1 497.9h4.1v4.1h-4.1zM426.4 499h4.1v4.1h-4.1zM426.7 499.9h4.1v4.1h-4.1zM427 494.6h4.1v4.1h-4.1zM427.2 497.8h4.1v4.1h-4.1zM427.5 496.4h4.1v4.1h-4.1zM427.8 499.3h4.1v4.1h-4.1zM428 499.1h4.1v4.1h-4.1zM428.3 499.3h4.1v4.1h-4.1zM428.6 500.1h4.1v4.1h-4.1zM428.8 498.8h4.1v4.1h-4.1zM429.1 498.8h4.1v4.1h-4.1zM429.4 499.3h4.1v4.1h-4.1zM429.6 500.7h4.1v4.1h-4.1zM429.9 503.1h4.1v4.1h-4.1zM430.1 502.4h4.1v4.1h-4.1zM430.4 501.9h4.1v4.1h-4.1zM430.6 499.7h4.1v4.1h-4.1zM430.9 500.9h4.1v4.1h-4.1zM431.2 506h4.1v4.1h-4.1zM431.4 500.5h4.1v4.1h-4.1zM431.7 502.4h4.1v4.1h-4.1zM431.9 502.1h4.1v4.1h-4.1zM432.2 503.5h4.1v4.1h-4.1zM432.4 502.6h4.1v4.1h-4.1zM432.7 500.9h4.1v4.1h-4.1zM432.9 502.6h4.1v4.1h-4.1zM433.1 500.7h4.1v4.1h-4.1zM433.4 499.9h4.1v4.1h-4.1zM433.6 504h4.1v4.1h-4.1zM433.9 504.6h4.1v4.1h-4.1zM434.1 507.5h4.1v4.1h-4.1zM434.4 506.5h4.1v4.1h-4.1zM434.6 503.5h4.1v4.1h-4.1zM434.8 508.2h4.1v4.1h-4.1zM435.1 505.7h4.1v4.1h-4.1zM435.3 506.5h4.1v4.1h-4.1zM435.6 505.1h4.1v4.1h-4.1zM435.8 506.2h4.1v4.1h-4.1zM436 506.5h4.1v4.1h-4.1zM436.3 503.1h4.1v4.1h-4.1zM436.5 504.3h4.1v4.1h-4.1zM436.7 508.9h4.1v4.1h-4.1zM437 508.5h4.1v4.1h-4.1zM437.2 505.1h4.1v4.1h-4.1zM437.4 511.2h4.1v4.1h-4.1zM437.7 507.5h4.1v4.1h-4.1zM437.9 504.8h4.1v4.1h-4.1zM438.1 507.8h4.1v4.1h-4.1zM438.3 508.5h4.1v4.1h-4.1zM438.6 509.6h4.1v4.1h-4.1zM438.8 512.1h4.1v4.1h-4.1zM439 506h4.1v4.1h-4.1zM439.2 509.2h4.1v4.1h-4.1zM439.5 513h4.1v4.1h-4.1zM439.7 512.5h4.1v4.1h-4.1zM439.9 510.8h4.1v4.1h-4.1zM440.1 511.6h4.1v4.1h-4.1zM440.3 509.2h4.1v4.1h-4.1zM440.6 512.5h4.1v4.1h-4.1zM440.8 510.4h4.1v4.1h-4.1zM441 514.5h4.1v4.1h-4.1zM441.2 516.3h4.1v4.1h-4.1zM441.4 512.1h4.1v4.1h-4.1zM441.6 508.2h4.1v4.1h-4.1zM441.9 510.4h4.1v4.1h-4.1zM442.1 510h4.1v4.1h-4.1zM442.3 515.7h4.1v4.1h-4.1zM442.5 510.8h4.1v4.1h-4.1zM442.7 512.1h4.1v4.1h-4.1zM442.9 515.7h4.1v4.1h-4.1zM443.1 513.5h4.1v4.1h-4.1zM443.3 507.5h4.1v4.1h-4.1zM443.6 512.5h4.1v4.1h-4.1zM443.8 509.6h4.1v4.1h-4.1zM444 515.1h4.1v4.1h-4.1zM444.2 514.5h4.1v4.1h-4.1zM444.4 522.3h4.1v4.1h-4.1zM444.6 511.2h4.1v4.1h-4.1zM444.8 512.1h4.1v4.1h-4.1zM445 514h4.1v4.1h-4.1zM445.2 514.5h4.1v4.1h-4.1zM445.4 519.7h4.1v4.1h-4.1zM445.6 516.3h4.1v4.1h-4.1zM445.8 516.9h4.1v4.1h-4.1zM446 525.4h4.1v4.1h-4.1zM446.2 517.5h4.1v4.1h-4.1zM446.4 518.9h4.1v4.1h-4.1zM446.6 522.3h4.1v4.1h-4.1zM446.8 522.3h4.1v4.1h-4.1zM447 520.5h4.1v4.1h-4.1zM447.2 518.9h4.1v4.1h-4.1zM447.4 519.7h4.1v4.1h-4.1zM447.6 519.7h4.1v4.1h-4.1zM447.8 518.9h4.1v4.1h-4.1zM448 525.4h4.1v4.1h-4.1zM448.2 518.2h4.1v4.1h-4.1zM448.4 525.4h4.1v4.1h-4.1zM448.6 519.7h4.1v4.1h-4.1zM448.8 515.7h4.1v4.1h-4.1zM449 515.1h4.1v4.1h-4.1zM449.1 521.3h4.1v4.1h-4.1zM449.3 525.4h4.1v4.1h-4.1zM449.5 529.4h4.1v4.1h-4.1zM449.7 517.5h4.1v4.1h-4.1zM449.9 521.3h4.1v4.1h-4.1zM450.1 516.9h4.1v4.1h-4.1zM450.3 529.4h4.1v4.1h-4.1zM450.5 522.3h4.1v4.1h-4.1zM450.7 518.9h4.1v4.1h-4.1zM450.8 517.5h4.1v4.1h-4.1zM451 522.3h4.1v4.1h-4.1zM451.2 529.4h4.1v4.1h-4.1zM451.4 517.5h4.1v4.1h-4.1zM451.6 521.3h4.1v4.1h-4.1zM451.8 529.4h4.1v4.1h-4.1zM452 529.4h4.1v4.1h-4.1zM452.1 520.5h4.1v4.1h-4.1zM452.3 524.3h4.1v4.1h-4.1zM452.5 525.4h4.1v4.1h-4.1zM452.7 529.4h4.1v4.1h-4.1zM452.9 521.3h4.1v4.1h-4.1zM453 523.2h4.1v4.1h-4.1zM453.2 517.5h4.1v4.1h-4.1zM453.4 522.3h4.1v4.1h-4.1zM453.6 521.3h4.1v4.1h-4.1zM453.8 521.3h4.1v4.1h-4.1zM453.9 535.1h4.1v4.1h-4.1zM454.1 535.1h4.1v4.1h-4.1zM454.3 535.1h4.1v4.1h-4.1zM454.5 525.4h4.1v4.1h-4.1zM454.6 535.1h4.1v4.1h-4.1zM454.8 535.1h4.1v4.1h-4.1zM455 535.1h4.1v4.1h-4.1zM455.2 525.4h4.1v4.1h-4.1zM455.3 529.4h4.1v4.1h-4.1zM455.5 544.8h4.1v4.1h-4.1zM455.7 535.1h4.1v4.1h-4.1zM455.9 544.8h4.1v4.1h-4.1zM456 544.8h4.1v4.1h-4.1zM456.4 544.8h4.1v4.1h-4.1zM456.5 544.8h4.1v4.1h-4.1zM456.7 544.8h4.1v4.1h-4.1zM456.9 544.8h4.1v4.1h-4.1zM457.1 544.8h4.1v4.1h-4.1zM457.2 544.8h4.1v4.1h-4.1zM457.6 544.8h4.1v4.1h-4.1zM457.9 544.8h4.1v4.1h-4.1zM458.2 544.8h4.1v4.1h-4.1zM458.4 535.1h4.1v4.1h-4.1zM458.6 544.8h4.1v4.1h-4.1zM459.1 544.8h4.1v4.1h-4.1zM459.2 544.8h4.1v4.1h-4.1zM460.4 544.8h4.1v4.1h-4.1zM460.5 544.8h4.1v4.1h-4.1z" fill="none" stroke="#000000" stroke-width="1.7" stroke-linejoin="miter"/>
<path d="M76 291.3a2.45 2.45 0 1 0 4.9 0a2.45 2.45 0 1 0 -4.9 0zM120.5 324a2.45 2.45 0 1 0 4.9 0a2.45 2.45 0 1 0 -4.9 0zM146.5 338.5a2.45 2.45 0 1 0 4.9 0a2.45 2.45 0 1 0 -4.9 0zM164.9 341.8a2.45 2.45 0 1 0 4.9 0a2.45 2.45 0 1 0 -4.9 0zM179.2 354.6a2.45 2.45 0 1 0 4.9 0a2.45 2.45 0 1 0 -4.9 0zM190.9 357a2.45 2.45 0 1 0 4.9 0a2.45 2.45 0 1 0 -4.9 0zM200.8 364.4a2.45 2.45 0 1 0 4.9 0a2.45 2.45 0 1 0 -4.9 0zM209.3 368a2.45 2.45 0 1 0 4.9 0a2.45 2.45 0 1 0 -4.9 0zM216.9 369.5a2.45 2.45 0 1 0 4.9 0a2.45 2.45 0 1 0 -4.9 0zM223.7 376.8a2.45 2.45 0 1 0 4.9 0a2.45 2.45 0 1 0 -4.9 0zM229.8 376.9a2.45 2.45 0 1 0 4.9 0a2.45 2.45 0 1 0 -4.9 0zM235.3 381a2.45 2.45 0 1 0 4.9 0a2.45 2.45 0 1 0 -4.9 0zM240.5 381.6a2.45 2.45 0 1 0 4.9 0a2.45 2.45 0 1 0 -4.9 0zM245.2 385.8a2.45 2.45 0 1 0 4.9 0a2.45 2.45 0 1 0 -4.9 0zM249.6 386.6a2.45 2.45 0 1 0 4.9 0a2.45 2.45 0 1 0 -4.9 0zM253.8 390.1a2.45 2.45 0 1 0 4.9 0a2.45 2.45 0 1 0 -4.9 0zM257.7 391a2.45 2.45 0 1 0 4.9 0a2.45 2.45 0 1 0 -4.9 0zM261.3 393.9a2.45 2.45 0 1 0 4.9 0a2.45 2.45 0 1 0 -4.9 0zM264.8 394.9a2.45 2.45 0 1 0 4.9 0a2.45 2.45 0 1 0 -4.9 0zM268.1 397.9a2.45 2.45 0 1 0 4.9 0a2.45 2.45 0 1 0 -4.9 0zM271.2 398.7a2.45 2.45 0 1 0 4.9 0a2.45 2.45 0 1 0 -4.9 0zM274.2 401.8a2.45 2.45 0 1 0 4.9 0a2.45 2.45 0 1 0 -4.9 0zM277 401.6a2.45 2.45 0 1 0 4.9 0a2.45 2.45 0 1 0 -4.9 0zM279.8 404.8a2.45 2.45 0 1 0 4.9 0a2.45 2.45 0 1 0 -4.9 0zM282.4 405.5a2.45 2.45 0 1 0 4.9 0a2.45 2.45 0 1 0 -4.9 0zM284.9 407.1a2.45 2.45 0 1 0 4.9 0a2.45 2.45 0 1 0 -4.9 0zM287.3 406.8a2.45 2.45 0 1 0 4.9 0a2.45 2.45 0 1 0 -4.9 0zM289.7 409.3a2.45 2.45 0 1 0 4.9 0a2.45 2.45 0 1 0 -4.9 0zM291.9 410.5a2.45 2.45 0 1 0 4.9 0a2.45 2.45 0 1 0 -4.9 0zM294.1 410.7a2.45 2.45 0 1 0 4.9 0a2.45 2.45 0 1 0 -4.9 0zM296.2 412.3a2.45 2.45 0 1 0 4.9 0a2.45 2.45 0 1 0 -4.9 0zM298.2 415.6a2.45 2.45 0 1 0 4.9 0a2.45 2.45 0 1 0 -4.9 0zM300.2 413.8a2.45 2.45 0 1 0 4.9 0a2.45 2.45 0 1 0 -4.9 0zM302.1 417.9a2.45 2.45 0 1 0 4.9 0a2.45 2.45 0 1 0 -4.9 0zM304 416.2a2.45 2.45 0 1 0 4.9 0a2.45 2.45 0 1 0 -4.9 0zM305.8 418.4a2.45 2.45 0 1 0 4.9 0a2.45 2.45 0 1 0 -4.9 0zM307.5 417.6a2.45 2.45 0 1 0 4.9 0a2.45 2.45 0 1 0 -4.9 0zM309.2 418.9a2.45 2.45 0 1 0 4.9 0a2.45 2.45 0 1 0 -4.9 0zM310.9 419.6a2.45 2.45 0 1 0 4.9 0a2.45 2.45 0 1 0 -4.9 0zM312.5 422.3a2.45 2.45 0 1 0 4.9 0a2.45 2.45 0 1 0 -4.9 0zM314.1 422.2a2.45 2.45 0 1 0 4.9 0a2.45 2.45 0 1 0 -4.9 0zM315.6 420.3a2.45 2.45 0 1 0 4.9 0a2.45 2.45 0 1 0 -4.9 0zM317.1 423.1a2.45 2.45 0 1 0 4.9 0a2.45 2.45 0 1 0 -4.9 0zM318.6 424a2.45 2.45 0 1 0 4.9 0a2.45 2.45 0 1 0 -4.9 0zM320.1 424a2.45 2.45 0 1 0 4.9 0a2.45 2.45 0 1 0 -4.9 0zM321.5 425.4a2.45 2.45 0 1 0 4.9 0a2.45 2.45 0 1 0 -4.9 0zM322.9 428.8a2.45 2.45 0 1 0 4.9 0a2.45 2.45 0 1 0 -4.9 0zM324.2 425.9a2.45 2.45 0 1 0 4.9 0a2.45 2.45 0 1 0 -4.9 0zM325.5 427.1a2.45 2.45 0 1 0 4.9 0a2.45 2.45 0 1 0 -4.9 0zM326.8 427.9a2.45 2.45 0 1 0 4.9 0a2.45 2.45 0 1 0 -4.9 0zM328.1 428.8a2.45 2.45 0 1 0 4.9 0a2.45 2.45 0 1 0 -4.9 0zM329.3 429.1a2.45 2.45 0 1 0 4.9 0a2.45 2.45 0 1 0 -4.9 0zM330.6 430.6a2.45 2.45 0 1 0 4.9 0a2.45 2.45 0 1 0 -4.9 0zM331.8 430.9a2.45 2.45 0 1 0 4.9 0a2.45 2.45 0 1 0 -4.9 0zM332.9 431a2.45 2.45 0 1 0 4.9 0a2.45 2.45 0 1 0 -4.9 0zM334.1 431.2a2.45 2.45 0 1 0 4.9 0a2.45 2.45 0 1 0 -4.9 0zM335.2 431.6a2.45 2.45 0 1 0 4.9 0a2.45 2.45 0 1 0 -4.9 0zM336.3 436.1a2.45 2.45 0 1 0 4.9 0a2.45 2.45 0 1 0 -4.9 0zM337.4 434.7a2.45 2.45 0 1 0 4.9 0a2.45 2.45 0 1 0 -4.9 0zM338.5 433a2.45 2.45 0 1 0 4.9 0a2.45 2.45 0 1 0 -4.9 0zM339.6 435.9a2.45 2.45 0 1 0 4.9 0a2.45 2.45 0 1 0 -4.9 0zM340.6 433.9a2.45 2.45 0 1 0 4.9 0a2.45 2.45 0 1 0 -4.9 0zM341.6 436.9a2.45 2.45 0 1 0 4.9 0a2.45 2.45 0 1 0 -4.9 0zM342.6 436.6a2.45 2.45 0 1 0 4.9 0a2.45 2.45 0 1 0 -4.9 0zM343.6 433.7a2.45 2.45 0 1 0 4.9 0a2.45 2.45 0 1 0 -4.9 0zM344.6 438a2.45 2.45 0 1 0 4.9 0a2.45 2.45 0 1 0 -4.9 0zM345.6 438.5a2.45 2.45 0 1 0 4.9 0a2.45 2.45 0 1 0 -4.9 0zM346.5 438.1a2.45 2.45 0 1 0 4.9 0a2.45 2.45 0 1 0 -4.9 0zM347.5 439.2a2.45 2.45 0 1 0 4.9 0a2.45 2.45 0 1 0 -4.9 0zM348.4 438.9a2.45 2.45 0 1 0 4.9 0a2.45 2.45 0 1 0 -4.9 0zM349.3 439.5a2.45 2.45 0 1 0 4.9 0a2.45 2.45 0 1 0 -4.9 0zM350.2 441.8a2.45 2.45 0 1 0 4.9 0a2.45 2.45 0 1 0 -4.9 0zM351.1 440.8a2.45 2.45 0 1 0 4.9 0a2.45 2.45 0 1 0 -4.9 0zM351.9 442.8a2.45 2.45 0 1 0 4.9 0a2.45 2.45 0 1 0 -4.9 0zM352.8 442.6a2.45 2.45 0 1 0 4.9 0a2.45 2.45 0 1 0 -4.9 0zM353.7 439.4a2.45 2.45 0 1 0 4.9 0a2.45 2.45 0 1 0 -4.9 0zM354.5 444.5a2.45 2.45 0 1 0 4.9 0a2.45 2.45 0 1 0 -4.9 0zM355.3 443.3a2.45 2.45 0 1 0 4.9 0a2.45 2.45 0 1 0 -4.9 0zM356.1 445.4a2.45 2.45 0 1 0 4.9 0a2.45 2.45 0 1 0 -4.9 0zM356.9 445.9a2.45 2.45 0 1 0 4.9 0a2.45 2.45 0 1 0 -4.9 0zM357.7 443.6a2.45 2.45 0 1 0 4.9 0a2.45 2.45 0 1 0 -4.9 0zM358.5 444a2.45 2.45 0 1 0 4.9 0a2.45 2.45 0 1 0 -4.9 0zM359.3 445a2.45 2.45 0 1 0 4.9 0a2.45 2.45 0 1 0 -4.9 0zM360.1 444.2a2.45 2.45 0 1 0 4.9 0a2.45 2.45 0 1 0 -4.9 0zM360.8 445.9a2.45 2.45 0 1 0 4.9 0a2.45 2.45 0 1 0 -4.9 0zM361.6 448.4a2.45 2.45 0 1 0 4.9 0a2.45 2.45 0 1 0 -4.9 0zM362.3 444.7a2.45 2.45 0 1 0 4.9 0a2.45 2.45 0 1 0 -4.9 0zM363.1 450.4a2.45 2.45 0 1 0 4.9 0a2.45 2.45 0 1 0 -4.9 0zM363.8 448.5a2.45 2.45 0 1 0 4.9 0a2.45 2.45 0 1 0 -4.9 0zM364.5 448.8a2.45 2.45 0 1 0 4.9 0a2.45 2.45 0 1 0 -4.9 0zM365.2 450.3a2.45 2.45 0 1 0 4.9 0a2.45 2.45 0 1 0 -4.9 0zM365.9 450.2a2.45 2.45 0 1 0 4.9 0a2.45 2.45 0 1 0 -4.9 0zM366.6 450.7a2.45 2.45 0 1 0 4.9 0a2.45 2.45 0 1 0 -4.9 0zM367.3 448a2.45 2.45 0 1 0 4.9 0a2.45 2.45 0 1 0 -4.9 0zM368 449.9a2.45 2.45 0 1 0 4.9 0a2.45 2.45 0 1 0 -4.9 0zM368.6 452.2a2.45 2.45 0 1 0 4.9 0a2.45 2.45 0 1 0 -4.9 0zM369.3 449.3a2.45 2.45 0 1 0 4.9 0a2.45 2.45 0 1 0 -4.9 0zM370 448.6a2.45 2.45 0 1 0 4.9 0a2.45 2.45 0 1 0 -4.9 0zM370.6 452.3a2.45 2.45 0 1 0 4.9 0a2.45 2.45 0 1 0 -4.9 0zM371.2 451.3a2.45 2.45 0 1 0 4.9 0a2.45 2.45 0 1 0 -4.9 0zM371.9 451.7a2.45 2.45 0 1 0 4.9 0a2.45 2.45 0 1 0 -4.9 0zM372.5 452.5a2.45 2.45 0 1 0 4.9 0a2.45 2.45 0 1 0 -4.9 0zM373.1 453.9a2.45 2.45 0 1 0 4.9 0a2.45 2.45 0 1 0 -4.9 0zM373.8 452.5a2.45 2.45 0 1 0 4.9 0a2.45 2.45 0 1 0 -4.9 0zM374.4 450.6a2.45 2.45 0 1 0 4.9 0a2.45 2.45 0 1 0 -4.9 0zM375 455.4a2.45 2.45 0 1 0 4.9 0a2.45 2.45 0 1 0 -4.9 0zM375.6 454.8a2.45 2.45 0 1 0 4.9 0a2.45 2.45 0 1 0 -4.9 0zM376.2 455.3a2.45 2.45 0 1 0 4.9 0a2.45 2.45 0 1 0 -4.9 0zM376.8 455.8a2.45 2.45 0 1 0 4.9 0a2.45 2.45 0 1 0 -4.9 0zM377.4 456.1a2.45 2.45 0 1 0 4.9 0a2.45 2.45 0 1 0 -4.9 0zM377.9 457.4a2.45 2.45 0 1 0 4.9 0a2.45 2.45 0 1 0 -4.9 0zM378.5 456.2a2.45 2.45 0 1 0 4.9 0a2.45 2.45 0 1 0 -4.9 0zM379.1 457.8a2.45 2.45 0 1 0 4.9 0a2.45 2.45 0 1 0 -4.9 0zM379.6 457.7a2.45 2.45 0 1 0 4.9 0a2.45 2.45 0 1 0 -4.9 0zM380.2 457.6a2.45 2.45 0 1 0 4.9 0a2.45 2.45 0 1 0 -4.9 0zM380.8 458.4a2.45 2.45 0 1 0 4.9 0a2.45 2.45 0 1 0 -4.9 0zM381.3 458.9a2.45 2.45 0 1 0 4.9 0a2.45 2.45 0 1 0 -4.9 0zM381.9 458.9a2.45 2.45 0 1 0 4.9 0a2.45 2.45 0 1 0 -4.9 0zM382.4 459.8a2.45 2.45 0 1 0 4.9 0a2.45 2.45 0 1 0 -4.9 0zM382.9 460.3a2.45 2.45 0 1 0 4.9 0a2.45 2.45 0 1 0 -4.9 0zM383.5 459.8a2.45 2.45 0 1 0 4.9 0a2.45 2.45 0 1 0 -4.9 0zM384 460a2.45 2.45 0 1 0 4.9 0a2.45 2.45 0 1 0 -4.9 0zM384.5 458.5a2.45 2.45 0 1 0 4.9 0a2.45 2.45 0 1 0 -4.9 0zM385 458a2.45 2.45 0 1 0 4.9 0a2.45 2.45 0 1 0 -4.9 0zM385.6 461.5a2.45 2.45 0 1 0 4.9 0a2.45 2.45 0 1 0 -4.9 0zM386.1 461.2a2.45 2.45 0 1 0 4.9 0a2.45 2.45 0 1 0 -4.9 0zM386.6 460.2a2.45 2.45 0 1 0 4.9 0a2.45 2.45 0 1 0 -4.9 0zM387.1 461.1a2.45 2.45 0 1 0 4.9 0a2.45 2.45 0 1 0 -4.9 0zM387.6 461.3a2.45 2.45 0 1 0 4.9 0a2.45 2.45 0 1 0 -4.9 0zM388.1 463.6a2.45 2.45 0 1 0 4.9 0a2.45 2.45 0 1 0 -4.9 0zM388.6 463.7a2.45 2.45 0 1 0 4.9 0a2.45 2.45 0 1 0 -4.9 0zM389 463.8a2.45 2.45 0 1 0 4.9 0a2.45 2.45 0 1 0 -4.9 0zM389.5 464.4a2.45 2.45 0 1 0 4.9 0a2.45 2.45 0 1 0 -4.9 0zM390 463.1a2.45 2.45 0 1 0 4.9 0a2.45 2.45 0 1 0 -4.9 0zM390.5 463.3a2.45 2.45 0 1 0 4.9 0a2.45 2.45 0 1 0 -4.9 0zM391 463.4a2.45 2.45 0 1 0 4.9 0a2.45 2.45 0 1 0 -4.9 0zM391.4 466.4a2.45 2.45 0 1 0 4.9 0a2.45 2.45 0 1 0 -4.9 0zM391.9 465.5a2.45 2.45 0 1 0 4.9 0a2.45 2.45 0 1 0 -4.9 0zM392.4 464.9a2.45 2.45 0 1 0 4.9 0a2.45 2.45 0 1 0 -4.9 0zM392.8 465.6a2.45 2.45 0 1 0 4.9 0a2.45 2.45 0 1 0 -4.9 0zM393.3 464.3a2.45 2.45 0 1 0 4.9 0a2.45 2.45 0 1 0 -4.9 0zM393.7 465.3a2.45 2.45 0 1 0 4.9 0a2.45 2.45 0 1 0 -4.9 0zM394.2 468.8a2.45 2.45 0 1 0 4.9 0a2.45 2.45 0 1 0 -4.9 0zM394.6 468.3a2.45 2.45 0 1 0 4.9 0a2.45 2.45 0 1 0 -4.9 0zM395.1 467.5a2.45 2.45 0 1 0 4.9 0a2.45 2.45 0 1 0 -4.9 0zM395.5 467.1a2.45 2.45 0 1 0 4.9 0a2.45 2.45 0 1 0 -4.9 0zM395.9 468.6a2.45 2.45 0 1 0 4.9 0a2.45 2.45 0 1 0 -4.9 0zM396.4 467.6a2.45 2.45 0 1 0 4.9 0a2.45 2.45 0 1 0 -4.9 0zM396.8 468.5a2.45 2.45 0 1 0 4.9 0a2.45 2.45 0 1 0 -4.9 0zM397.2 466.9a2.45 2.45 0 1 0 4.9 0a2.45 2.45 0 1 0 -4.9 0zM397.7 469.6a2.45 2.45 0 1 0 4.9 0a2.45 2.45 0 1 0 -4.9 0zM398.1 470.7a2.45 2.45 0 1 0 4.9 0a2.45 2.45 0 1 0 -4.9 0zM398.5 468.5a2.45 2.45 0 1 0 4.9 0a2.45 2.45 0 1 0 -4.9 0zM398.9 472.3a2.45 2.45 0 1 0 4.9 0a2.45 2.45 0 1 0 -4.9 0zM399.3 469.3a2.45 2.45 0 1 0 4.9 0a2.45 2.45 0 1 0 -4.9 0zM399.8 470.5a2.45 2.45 0 1 0 4.9 0a2.45 2.45 0 1 0 -4.9 0zM400.2 470.2a2.45 2.45 0 1 0 4.9 0a2.45 2.45 0 1 0 -4.9 0zM400.6 472.2a2.45 2.45 0 1 0 4.9 0a2.45 2.45 0 1 0 -4.9 0zM401 471.8a2.45 2.45 0 1 0 4.9 0a2.45 2.45 0 1 0 -4.9 0zM401.4 470.4a2.45 2.45 0 1 0 4.9 0a2.45 2.45 0 1 0 -4.9 0zM401.8 471.7a2.45 2.45 0 1 0 4.9 0a2.45 2.45 0 1 0 -4.9 0zM402.2 471.5a2.45 2.45 0 1 0 4.9 0a2.45 2.45 0 1 0 -4.9 0zM402.6 475.6a2.45 2.45 0 1 0 4.9 0a2.45 2.45 0 1 0 -4.9 0zM403 471.6a2.45 2.45 0 1 0 4.9 0a2.45 2.45 0 1 0 -4.9 0zM403.4 472a2.45 2.45 0 1 0 4.9 0a2.45 2.45 0 1 0 -4.9 0zM403.7 473.1a2.45 2.45 0 1 0 4.9 0a2.45 2.45 0 1 0 -4.9 0zM404.1 472.7a2.45 2.45 0 1 0 4.9 0a2.45 2.45 0 1 0 -4.9 0zM404.5 474.4a2.45 2.45 0 1 0 4.9 0a2.45 2.45 0 1 0 -4.9 0zM404.9 473.6a2.45 2.45 0 1 0 4.9 0a2.45 2.45 0 1 0 -4.9 0zM405.3 475a2.45 2.45 0 1 0 4.9 0a2.45 2.45 0 1 0 -4.9 0zM405.6 471.8a2.45 2.45 0 1 0 4.9 0a2.45 2.45 0 1 0 -4.9 0zM406 473a2.45 2.45 0 1 0 4.9 0a2.45 2.45 0 1 0 -4.9 0zM406.4 472.8a2.45 2.45 0 1 0 4.9 0a2.45 2.45 0 1 0 -4.9 0zM406.8 473.5a2.45 2.45 0 1 0 4.9 0a2.45 2.45 0 1 0 -4.9 0zM407.1 474.2a2.45 2.45 0 1 0 4.9 0a2.45 2.45 0 1 0 -4.9 0zM407.5 475a2.45 2.45 0 1 0 4.9 0a2.45 2.45 0 1 0 -4.9 0zM407.9 472.5a2.45 2.45 0 1 0 4.9 0a2.45 2.45 0 1 0 -4.9 0zM408.2 474.1a2.45 2.45 0 1 0 4.9 0a2.45 2.45 0 1 0 -4.9 0zM408.6 474.1a2.45 2.45 0 1 0 4.9 0a2.45 2.45 0 1 0 -4.9 0zM408.9 475.7a2.45 2.45 0 1 0 4.9 0a2.45 2.45 0 1 0 -4.9 0zM409.3 475a2.45 2.45 0 1 0 4.9 0a2.45 2.45 0 1 0 -4.9 0zM409.6 475.6a2.45 2.45 0 1 0 4.9 0a2.45 2.45 0 1 0 -4.9 0zM410 474.2a2.45 2.45 0 1 0 4.9 0a2.45 2.45 0 1 0 -4.9 0zM410.3 478.5a2.45 2.45 0 1 0 4.9 0a2.45 2.45 0 1 0 -4.9 0zM410.7 476.2a2.45 2.45 0 1 0 4.9 0a2.45 2.45 0 1 0 -4.9 0zM411 475.9a2.45 2.45 0 1 0 4.9 0a2.45 2.45 0 1 0 -4.9 0zM411.4 475.6a2.45 2.45 0 1 0 4.9 0a2.45 2.45 0 1 0 -4.9 0zM411.7 473a2.45 2.45 0 1 0 4.9 0a2.45 2.45 0 1 0 -4.9 0zM412.1 477.1a2.45 2.45 0 1 0 4.9 0a2.45 2.45 0 1 0 -4.9 0zM412.4 478.5a2.45 2.45 0 1 0 4.9 0a2.45 2.45 0 1 0 -4.9 0zM412.7 477.2a2.45 2.45 0 1 0 4.9 0a2.45 2.45 0 1 0 -4.9 0zM413.1 478.7a2.45 2.45 0 1 0 4.9 0a2.45 2.45 0 1 0 -4.9 0zM413.4 480.4a2.45 2.45 0 1 0 4.9 0a2.45 2.45 0 1 0 -4.9 0zM413.7 478.3a2.45 2.45 0 1 0 4.9 0a2.45 2.45 0 1 0 -4.9 0zM414.1 477.9a2.45 2.45 0 1 0 4.9 0a2.45 2.45 0 1 0 -4.9 0zM414.4 477.5a2.45 2.45 0 1 0 4.9 0a2.45 2.45 0 1 0 -4.9 0zM414.7 477.9a2.45 2.45 0 1 0 4.9 0a2.45 2.45 0 1 0 -4.9 0zM415 477.8a2.45 2.45 0 1 0 4.9 0a2.45 2.45 0 1 0 -4.9 0zM415.4 476.9a2.45 2.45 0 1 0 4.9 0a2.45 2.45 0 1 0 -4.9 0zM415.7 479.3a2.45 2.45 0 1 0 4.9 0a2.45 2.45 0 1 0 -4.9 0zM416 478.3a2.45 2.45 0 1 0 4.9 0a2.45 2.45 0 1 0 -4.9 0zM416.3 479.6a2.45 2.45 0 1 0 4.9 0a2.45 2.45 0 1 0 -4.9 0zM416.6 477a2.45 2.45 0 1 0 4.9 0a2.45 2.45 0 1 0 -4.9 0zM417 477a2.45 2.45 0 1 0 4.9 0a2.45 2.45 0 1 0 -4.9 0zM417.3 478.1a2.45 2.45 0 1 0 4.9 0a2.45 2.45 0 1 0 -4.9 0zM417.6 478.9a2.45 2.45 0 1 0 4.9 0a2.45 2.45 0 1 0 -4.9 0zM417.9 478.4a2.45 2.45 0 1 0 4.9 0a2.45 2.45 0 1 0 -4.9 0zM418.2 479.9a2.45 2.45 0 1 0 4.9 0a2.45 2.45 0 1 0 -4.9 0zM418.5 482.8a2.45 2.45 0 1 0 4.9 0a2.45 2.45 0 1 0 -4.9 0zM418.8 480.2a2.45 2.45 0 1 0 4.9 0a2.45 2.45 0 1 0 -4.9 0zM419.1 476.7a2.45 2.45 0 1 0 4.9 0a2.45 2.45 0 1 0 -4.9 0zM419.4 483.5a2.45 2.45 0 1 0 4.9 0a2.45 2.45 0 1 0 -4.9 0zM419.7 479.1a2.45 2.45 0 1 0 4.9 0a2.45 2.45 0 1 0 -4.9 0zM420 481.7a2.45 2.45 0 1 0 4.9 0a2.45 2.45 0 1 0 -4.9 0zM420.3 479.6a2.45 2.45 0 1 0 4.9 0a2.45 2.45 0 1 0 -4.9 0zM420.6 477.6a2.45 2.45 0 1 0 4.9 0a2.45 2.45 0 1 0 -4.9 0zM420.9 483.6a2.45 2.45 0 1 0 4.9 0a2.45 2.45 0 1 0 -4.9 0zM421.2 482.2a2.45 2.45 0 1 0 4.9 0a2.45 2.45 0 1 0 -4.9 0zM421.5 481.8a2.45 2.45 0 1 0 4.9 0a2.45 2.45 0 1 0 -4.9 0zM421.8 479.9a2.45 2.45 0 1 0 4.9 0a2.45 2.45 0 1 0 -4.9 0zM422.1 481.4a2.45 2.45 0 1 0 4.9 0a2.45 2.45 0 1 0 -4.9 0zM422.4 483.3a2.45 2.45 0 1 0 4.9 0a2.45 2.45 0 1 0 -4.9 0zM422.7 483.2a2.45 2.45 0 1 0 4.9 0a2.45 2.45 0 1 0 -4.9 0zM422.9 485.6a2.45 2.45 0 1 0 4.9 0a2.45 2.45 0 1 0 -4.9 0zM423.2 484a2.45 2.45 0 1 0 4.9 0a2.45 2.45 0 1 0 -4.9 0zM423.5 482.6a2.45 2.45 0 1 0 4.9 0a2.45 2.45 0 1 0 -4.9 0zM423.8 481.7a2.45 2.45 0 1 0 4.9 0a2.45 2.45 0 1 0 -4.9 0zM424.1 482.9a2.45 2.45 0 1 0 4.9 0a2.45 2.45 0 1 0 -4.9 0zM424.4 481.1a2.45 2.45 0 1 0 4.9 0a2.45 2.45 0 1 0 -4.9 0zM424.6 485.1a2.45 2.45 0 1 0 4.9 0a2.45 2.45 0 1 0 -4.9 0zM424.9 484.9a2.45 2.45 0 1 0 4.9 0a2.45 2.45 0 1 0 -4.9 0zM425.2 485.3a2.45 2.45 0 1 0 4.9 0a2.45 2.45 0 1 0 -4.9 0zM425.5 483.6a2.45 2.45 0 1 0 4.9 0a2.45 2.45 0 1 0 -4.9 0zM425.7 486.9a2.45 2.45 0 1 0 4.9 0a2.45 2.45 0 1 0 -4.9 0zM426 482.1a2.45 2.45 0 1 0 4.9 0a2.45 2.45 0 1 0 -4.9 0zM426.3 481.5a2.45 2.45 0 1 0 4.9 0a2.45 2.45 0 1 0 -4.9 0zM426.6 486.4a2.45 2.45 0 1 0 4.9 0a2.45 2.45 0 1 0 -4.9 0zM426.8 485.4a2.45 2.45 0 1 0 4.9 0a2.45 2.45 0 1 0 -4.9 0zM427.1 484.5a2.45 2.45 0 1 0 4.9 0a2.45 2.45 0 1 0 -4.9 0zM427.4 484.5a2.45 2.45 0 1 0 4.9 0a2.45 2.45 0 1 0 -4.9 0zM427.6 486.9a2.45 2.45 0 1 0 4.9 0a2.45 2.45 0 1 0 -4.9 0zM427.9 484a2.45 2.45 0 1 0 4.9 0a2.45 2.45 0 1 0 -4.9 0zM428.2 487.9a2.45 2.45 0 1 0 4.9 0a2.45 2.45 0 1 0 -4.9 0zM428.4 485.9a2.45 2.45 0 1 0 4.9 0a2.45 2.45 0 1 0 -4.9 0zM428.7 486.2a2.45 2.45 0 1 0 4.9 0a2.45 2.45 0 1 0 -4.9 0zM429 483.9a2.45 2.45 0 1 0 4.9 0a2.45 2.45 0 1 0 -4.9 0zM429.2 485.6a2.45 2.45 0 1 0 4.9 0a2.45 2.45 0 1 0 -4.9 0zM429.5 486.4a2.45 2.45 0 1 0 4.9 0a2.45 2.45 0 1 0 -4.9 0zM429.7 487a2.45 2.45 0 1 0 4.9 0a2.45 2.45 0 1 0 -4.9 0zM430 487.9a2.45 2.45 0 1 0 4.9 0a2.45 2.45 0 1 0 -4.9 0zM430.2 487.1a2.45 2.45 0 1 0 4.9 0a2.45 2.45 0 1 0 -4.9 0zM430.5 484.8a2.45 2.45 0 1 0 4.9 0a2.45 2.45 0 1 0 -4.9 0zM430.8 489.8a2.45 2.45 0 1 0 4.9 0a2.45 2.45 0 1 0 -4.9 0zM431 487.3a2.45 2.45 0 1 0 4.9 0a2.45 2.45 0 1 0 -4.9 0zM431.3 489.2a2.45 2.45 0 1 0 4.9 0a2.45 2.45 0 1 0 -4.9 0zM431.5 487.3a2.45 2.45 0 1 0 4.9 0a2.45 2.45 0 1 0 -4.9 0zM431.8 488.2a2.45 2.45 0 1 0 4.9 0a2.45 2.45 0 1 0 -4.9 0zM432 487.9a2.45 2.45 0 1 0 4.9 0a2.45 2.45 0 1 0 -4.9 0zM432.3 490.5a2.45 2.45 0 1 0 4.9 0a2.45 2.45 0 1 0 -4.9 0zM432.5 486.5a2.45 2.45 0 1 0 4.9 0a2.45 2.45 0 1 0 -4.9 0zM432.7 488.6a2.45 2.45 0 1 0 4.9 0a2.45 2.45 0 1 0 -4.9 0zM433 487.5a2.45 2.45 0 1 0 4.9 0a2.45 2.45 0 1 0 -4.9 0zM433.2 489.1a2.45 2.45 0 1 0 4.9 0a2.45 2.45 0 1 0 -4.9 0zM433.5 486.5a2.45 2.45 0 1 0 4.9 0a2.45 2.45 0 1 0 -4.9 0zM433.7 493.3a2.45 2.45 0 1 0 4.9 0a2.45 2.45 0 1 0 -4.9 0zM434 487.6a2.45 2.45 0 1 0 4.9 0a2.45 2.45 0 1 0 -4.9 0zM434.2 490a2.45 2.45 0 1 0 4.9 0a2.45 2.45 0 1 0 -4.9 0zM434.4 495a2.45 2.45 0 1 0 4.9 0a2.45 2.45 0 1 0 -4.9 0zM434.7 492.8a2.45 2.45 0 1 0 4.9 0a2.45 2.45 0 1 0 -4.9 0zM434.9 487.9a2.45 2.45 0 1 0 4.9 0a2.45 2.45 0 1 0 -4.9 0zM435.2 489.6a2.45 2.45 0 1 0 4.9 0a2.45 2.45 0 1 0 -4.9 0zM435.4 489.6a2.45 2.45 0 1 0 4.9 0a2.45 2.45 0 1 0 -4.9 0zM435.6 491.8a2.45 2.45 0 1 0 4.9 0a2.45 2.45 0 1 0 -4.9 0zM435.9 490.5a2.45 2.45 0 1 0 4.9 0a2.45 2.45 0 1 0 -4.9 0zM436.1 492.2a2.45 2.45 0 1 0 4.9 0a2.45 2.45 0 1 0 -4.9 0zM436.3 491a2.45 2.45 0 1 0 4.9 0a2.45 2.45 0 1 0 -4.9 0zM436.6 494.5a2.45 2.45 0 1 0 4.9 0a2.45 2.45 0 1 0 -4.9 0zM436.8 489.6a2.45 2.45 0 1 0 4.9 0a2.45 2.45 0 1 0 -4.9 0zM437 493.2a2.45 2.45 0 1 0 4.9 0a2.45 2.45 0 1 0 -4.9 0zM437.3 492.3a2.45 2.45 0 1 0 4.9 0a2.45 2.45 0 1 0 -4.9 0zM437.5 490.9a2.45 2.45 0 1 0 4.9 0a2.45 2.45 0 1 0 -4.9 0zM437.7 490.9a2.45 2.45 0 1 0 4.9 0a2.45 2.45 0 1 0 -4.9 0zM437.9 491.5a2.45 2.45 0 1 0 4.9 0a2.45 2.45 0 1 0 -4.9 0zM438.2 492.1a2.45 2.45 0 1 0 4.9 0a2.45 2.45 0 1 0 -4.9 0zM438.4 495.5a2.45 2.45 0 1 0 4.9 0a2.45 2.45 0 1 0 -4.9 0zM438.6 496.4a2.45 2.45 0 1 0 4.9 0a2.45 2.45 0 1 0 -4.9 0zM438.8 492.7a2.45 2.45 0 1 0 4.9 0a2.45 2.45 0 1 0 -4.9 0zM439.1 494.4a2.45 2.45 0 1 0 4.9 0a2.45 2.45 0 1 0 -4.9 0zM439.3 496a2.45 2.45 0 1 0 4.9 0a2.45 2.45 0 1 0 -4.9 0zM439.5 497.2a2.45 2.45 0 1 0 4.9 0a2.45 2.45 0 1 0 -4.9 0zM439.7 492.6a2.45 2.45 0 1 0 4.9 0a2.45 2.45 0 1 0 -4.9 0zM439.9 495.9a2.45 2.45 0 1 0 4.9 0a2.45 2.45 0 1 0 -4.9 0zM440.2 494.5a2.45 2.45 0 1 0 4.9 0a2.45 2.45 0 1 0 -4.9 0zM440.4 497.2a2.45 2.45 0 1 0 4.9 0a2.45 2.45 0 1 0 -4.9 0zM440.6 495.5a2.45 2.45 0 1 0 4.9 0a2.45 2.45 0 1 0 -4.9 0zM440.8 493.8a2.45 2.45 0 1 0 4.9 0a2.45 2.45 0 1 0 -4.9 0zM441 496.6a2.45 2.45 0 1 0 4.9 0a2.45 2.45 0 1 0 -4.9 0zM441.2 495.5a2.45 2.45 0 1 0 4.9 0a2.45 2.45 0 1 0 -4.9 0zM441.5 497.3a2.45 2.45 0 1 0 4.9 0a2.45 2.45 0 1 0 -4.9 0zM441.7 496.6a2.45 2.45 0 1 0 4.9 0a2.45 2.45 0 1 0 -4.9 0zM441.9 495.8a2.45 2.45 0 1 0 4.9 0a2.45 2.45 0 1 0 -4.9 0zM442.1 495.5a2.45 2.45 0 1 0 4.9 0a2.45 2.45 0 1 0 -4.9 0zM442.3 497.7a2.45 2.45 0 1 0 4.9 0a2.45 2.45 0 1 0 -4.9 0zM442.5 495.4a2.45 2.45 0 1 0 4.9 0a2.45 2.45 0 1 0 -4.9 0zM442.7 495.5a2.45 2.45 0 1 0 4.9 0a2.45 2.45 0 1 0 -4.9 0zM442.9 498a2.45 2.45 0 1 0 4.9 0a2.45 2.45 0 1 0 -4.9 0zM443.2 498.3a2.45 2.45 0 1 0 4.9 0a2.45 2.45 0 1 0 -4.9 0zM443.4 497.7a2.45 2.45 0 1 0 4.9 0a2.45 2.45 0 1 0 -4.9 0zM443.6 498.6a2.45 2.45 0 1 0 4.9 0a2.45 2.45 0 1 0 -4.9 0zM443.8 499.5a2.45 2.45 0 1 0 4.9 0a2.45 2.45 0 1 0 -4.9 0zM444 498.6a2.45 2.45 0 1 0 4.9 0a2.45 2.45 0 1 0 -4.9 0zM444.2 501.9a2.45 2.45 0 1 0 4.9 0a2.45 2.45 0 1 0 -4.9 0zM444.4 503.3a2.45 2.45 0 1 0 4.9 0a2.45 2.45 0 1 0 -4.9 0zM444.6 497.7a2.45 2.45 0 1 0 4.9 0a2.45 2.45 0 1 0 -4.9 0zM444.8 501a2.45 2.45 0 1 0 4.9 0a2.45 2.45 0 1 0 -4.9 0zM445 499.8a2.45 2.45 0 1 0 4.9 0a2.45 2.45 0 1 0 -4.9 0zM445.2 498.6a2.45 2.45 0 1 0 4.9 0a2.45 2.45 0 1 0 -4.9 0zM445.4 501.4a2.45 2.45 0 1 0 4.9 0a2.45 2.45 0 1 0 -4.9 0zM445.6 500a2.45 2.45 0 1 0 4.9 0a2.45 2.45 0 1 0 -4.9 0zM445.8 500.8a2.45 2.45 0 1 0 4.9 0a2.45 2.45 0 1 0 -4.9 0zM446 499.2a2.45 2.45 0 1 0 4.9 0a2.45 2.45 0 1 0 -4.9 0zM446.2 503.1a2.45 2.45 0 1 0 4.9 0a2.45 2.45 0 1 0 -4.9 0zM446.4 501.9a2.45 2.45 0 1 0 4.9 0a2.45 2.45 0 1 0 -4.9 0zM446.6 497.6a2.45 2.45 0 1 0 4.9 0a2.45 2.45 0 1 0 -4.9 0zM446.8 501.2a2.45 2.45 0 1 0 4.9 0a2.45 2.45 0 1 0 -4.9 0zM447 501.9a2.45 2.45 0 1 0 4.9 0a2.45 2.45 0 1 0 -4.9 0zM447.2 508.3a2.45 2.45 0 1 0 4.9 0a2.45 2.45 0 1 0 -4.9 0zM447.4 503.3a2.45 2.45 0 1 0 4.9 0a2.45 2.45 0 1 0 -4.9 0zM447.6 502.1a2.45 2.45 0 1 0 4.9 0a2.45 2.45 0 1 0 -4.9 0zM447.8 498.6a2.45 2.45 0 1 0 4.9 0a2.45 2.45 0 1 0 -4.9 0zM448 502.7a2.45 2.45 0 1 0 4.9 0a2.45 2.45 0 1 0 -4.9 0zM448.2 507.4a2.45 2.45 0 1 0 4.9 0a2.45 2.45 0 1 0 -4.9 0zM448.4 503.3a2.45 2.45 0 1 0 4.9 0a2.45 2.45 0 1 0 -4.9 0zM448.6 501.7a2.45 2.45 0 1 0 4.9 0a2.45 2.45 0 1 0 -4.9 0zM448.7 502.9a2.45 2.45 0 1 0 4.9 0a2.45 2.45 0 1 0 -4.9 0zM448.9 503.1a2.45 2.45 0 1 0 4.9 0a2.45 2.45 0 1 0 -4.9 0zM449.1 504.4a2.45 2.45 0 1 0 4.9 0a2.45 2.45 0 1 0 -4.9 0zM449.3 509.5a2.45 2.45 0 1 0 4.9 0a2.45 2.45 0 1 0 -4.9 0zM449.5 502.1a2.45 2.45 0 1 0 4.9 0a2.45 2.45 0 1 0 -4.9 0zM449.7 505.8a2.45 2.45 0 1 0 4.9 0a2.45 2.45 0 1 0 -4.9 0zM449.9 507.4a2.45 2.45 0 1 0 4.9 0a2.45 2.45 0 1 0 -4.9 0zM450.1 504.6a2.45 2.45 0 1 0 4.9 0a2.45 2.45 0 1 0 -4.9 0zM450.3 506.9a2.45 2.45 0 1 0 4.9 0a2.45 2.45 0 1 0 -4.9 0zM450.4 504.9a2.45 2.45 0 1 0 4.9 0a2.45 2.45 0 1 0 -4.9 0zM450.6 506.9a2.45 2.45 0 1 0 4.9 0a2.45 2.45 0 1 0 -4.9 0zM450.8 509.5a2.45 2.45 0 1 0 4.9 0a2.45 2.45 0 1 0 -4.9 0zM451 507.2a2.45 2.45 0 1 0 4.9 0a2.45 2.45 0 1 0 -4.9 0zM451.2 504a2.45 2.45 0 1 0 4.9 0a2.45 2.45 0 1 0 -4.9 0zM451.4 512a2.45 2.45 0 1 0 4.9 0a2.45 2.45 0 1 0 -4.9 0zM451.6 507.4a2.45 2.45 0 1 0 4.9 0a2.45 2.45 0 1 0 -4.9 0zM451.7 506.1a2.45 2.45 0 1 0 4.9 0a2.45 2.45 0 1 0 -4.9 0zM451.9 509.5a2.45 2.45 0 1 0 4.9 0a2.45 2.45 0 1 0 -4.9 0zM452.1 510.9a2.45 2.45 0 1 0 4.9 0a2.45 2.45 0 1 0 -4.9 0zM452.3 510.6a2.45 2.45 0 1 0 4.9 0a2.45 2.45 0 1 0 -4.9 0zM452.5 510.9a2.45 2.45 0 1 0 4.9 0a2.45 2.45 0 1 0 -4.9 0zM452.6 508.6a2.45 2.45 0 1 0 4.9 0a2.45 2.45 0 1 0 -4.9 0zM452.8 512.8a2.45 2.45 0 1 0 4.9 0a2.45 2.45 0 1 0 -4.9 0zM453 512a2.45 2.45 0 1 0 4.9 0a2.45 2.45 0 1 0 -4.9 0zM453.2 511.7a2.45 2.45 0 1 0 4.9 0a2.45 2.45 0 1 0 -4.9 0zM453.4 509.2a2.45 2.45 0 1 0 4.9 0a2.45 2.45 0 1 0 -4.9 0zM453.5 508.3a2.45 2.45 0 1 0 4.9 0a2.45 2.45 0 1 0 -4.9 0zM453.7 513.7a2.45 2.45 0 1 0 4.9 0a2.45 2.45 0 1 0 -4.9 0zM453.9 514.6a2.45 2.45 0 1 0 4.9 0a2.45 2.45 0 1 0 -4.9 0zM454.1 511.7a2.45 2.45 0 1 0 4.9 0a2.45 2.45 0 1 0 -4.9 0zM454.2 513.7a2.45 2.45 0 1 0 4.9 0a2.45 2.45 0 1 0 -4.9 0zM454.4 509.9a2.45 2.45 0 1 0 4.9 0a2.45 2.45 0 1 0 -4.9 0zM454.6 517.1a2.45 2.45 0 1 0 4.9 0a2.45 2.45 0 1 0 -4.9 0zM454.8 509.2a2.45 2.45 0 1 0 4.9 0a2.45 2.45 0 1 0 -4.9 0zM454.9 515.6a2.45 2.45 0 1 0 4.9 0a2.45 2.45 0 1 0 -4.9 0zM455.1 511.7a2.45 2.45 0 1 0 4.9 0a2.45 2.45 0 1 0 -4.9 0zM455.3 513.3a2.45 2.45 0 1 0 4.9 0a2.45 2.45 0 1 0 -4.9 0zM455.5 514.6a2.45 2.45 0 1 0 4.9 0a2.45 2.45 0 1 0 -4.9 0zM455.6 513.7a2.45 2.45 0 1 0 4.9 0a2.45 2.45 0 1 0 -4.9 0zM455.8 521a2.45 2.45 0 1 0 4.9 0a2.45 2.45 0 1 0 -4.9 0zM456 514.1a2.45 2.45 0 1 0 4.9 0a2.45 2.45 0 1 0 -4.9 0zM456.1 520.3a2.45 2.45 0 1 0 4.9 0a2.45 2.45 0 1 0 -4.9 0zM456.3 516.6a2.45 2.45 0 1 0 4.9 0a2.45 2.45 0 1 0 -4.9 0zM456.5 513.7a2.45 2.45 0 1 0 4.9 0a2.45 2.45 0 1 0 -4.9 0zM456.7 517.7a2.45 2.45 0 1 0 4.9 0a2.45 2.45 0 1 0 -4.9 0zM456.8 514.1a2.45 2.45 0 1 0 4.9 0a2.45 2.45 0 1 0 -4.9 0zM457 514.6a2.45 2.45 0 1 0 4.9 0a2.45 2.45 0 1 0 -4.9 0zM457.2 517.1a2.45 2.45 0 1 0 4.9 0a2.45 2.45 0 1 0 -4.9 0zM457.3 518.9a2.45 2.45 0 1 0 4.9 0a2.45 2.45 0 1 0 -4.9 0zM457.5 522.6a2.45 2.45 0 1 0 4.9 0a2.45 2.45 0 1 0 -4.9 0zM457.7 517.7a2.45 2.45 0 1 0 4.9 0a2.45 2.45 0 1 0 -4.9 0zM457.8 515.1a2.45 2.45 0 1 0 4.9 0a2.45 2.45 0 1 0 -4.9 0zM458 524.3a2.45 2.45 0 1 0 4.9 0a2.45 2.45 0 1 0 -4.9 0zM458.2 520.3a2.45 2.45 0 1 0 4.9 0a2.45 2.45 0 1 0 -4.9 0zM458.3 521.7a2.45 2.45 0 1 0 4.9 0a2.45 2.45 0 1 0 -4.9 0zM458.5 523.4a2.45 2.45 0 1 0 4.9 0a2.45 2.45 0 1 0 -4.9 0zM458.7 521.7a2.45 2.45 0 1 0 4.9 0a2.45 2.45 0 1 0 -4.9 0zM458.8 522.6a2.45 2.45 0 1 0 4.9 0a2.45 2.45 0 1 0 -4.9 0zM459 531.5a2.45 2.45 0 1 0 4.9 0a2.45 2.45 0 1 0 -4.9 0zM459.1 527.4a2.45 2.45 0 1 0 4.9 0a2.45 2.45 0 1 0 -4.9 0zM459.3 527.4a2.45 2.45 0 1 0 4.9 0a2.45 2.45 0 1 0 -4.9 0zM459.5 522.6a2.45 2.45 0 1 0 4.9 0a2.45 2.45 0 1 0 -4.9 0zM459.6 527.4a2.45 2.45 0 1 0 4.9 0a2.45 2.45 0 1 0 -4.9 0zM459.8 522.6a2.45 2.45 0 1 0 4.9 0a2.45 2.45 0 1 0 -4.9 0zM460 531.5a2.45 2.45 0 1 0 4.9 0a2.45 2.45 0 1 0 -4.9 0zM460.1 531.5a2.45 2.45 0 1 0 4.9 0a2.45 2.45 0 1 0 -4.9 0zM460.3 527.4a2.45 2.45 0 1 0 4.9 0a2.45 2.45 0 1 0 -4.9 0zM460.4 537.1a2.45 2.45 0 1 0 4.9 0a2.45 2.45 0 1 0 -4.9 0zM460.6 531.5a2.45 2.45 0 1 0 4.9 0a2.45 2.45 0 1 0 -4.9 0zM460.8 531.5a2.45 2.45 0 1 0 4.9 0a2.45 2.45 0 1 0 -4.9 0zM460.9 526.3a2.45 2.45 0 1 0 4.9 0a2.45 2.45 0 1 0 -4.9 0zM461.1 531.5a2.45 2.45 0 1 0 4.9 0a2.45 2.45 0 1 0 -4.9 0zM461.2 531.5a2.45 2.45 0 1 0 4.9 0a2.45 2.45 0 1 0 -4.9 0zM461.4 531.5a2.45 2.45 0 1 0 4.9 0a2.45 2.45 0 1 0 -4.9 0zM461.5 531.5a2.45 2.45 0 1 0 4.9 0a2.45 2.45 0 1 0 -4.9 0zM461.7 537.1a2.45 2.45 0 1 0 4.9 0a2.45 2.45 0 1 0 -4.9 0zM461.9 537.1a2.45 2.45 0 1 0 4.9 0a2.45 2.45 0 1 0 -4.9 0zM462 546.9a2.45 2.45 0 1 0 4.9 0a2.45 2.45 0 1 0 -4.9 0zM462.2 537.1a2.45 2.45 0 1 0 4.9 0a2.45 2.45 0 1 0 -4.9 0zM462.3 546.9a2.45 2.45 0 1 0 4.9 0a2.45 2.45 0 1 0 -4.9 0zM462.5 537.1a2.45 2.45 0 1 0 4.9 0a2.45 2.45 0 1 0 -4.9 0zM462.8 546.9a2.45 2.45 0 1 0 4.9 0a2.45 2.45 0 1 0 -4.9 0zM462.9 546.9a2.45 2.45 0 1 0 4.9 0a2.45 2.45 0 1 0 -4.9 0zM463.1 546.9a2.45 2.45 0 1 0 4.9 0a2.45 2.45 0 1 0 -4.9 0zM463.2 546.9a2.45 2.45 0 1 0 4.9 0a2.45 2.45 0 1 0 -4.9 0zM463.5 546.9a2.45 2.45 0 1 0 4.9 0a2.45 2.45 0 1 0 -4.9 0zM463.7 546.9a2.45 2.45 0 1 0 4.9 0a2.45 2.45 0 1 0 -4.9 0zM463.8 546.9a2.45 2.45 0 1 0 4.9 0a2.45 2.45 0 1 0 -4.9 0zM464.3 546.9a2.45 2.45 0 1 0 4.9 0a2.45 2.45 0 1 0 -4.9 0zM464.6 546.9a2.45 2.45 0 1 0 4.9 0a2.45 2.45 0 1 0 -4.9 0zM465.2 546.9a2.45 2.45 0 1 0 4.9 0a2.45 2.45 0 1 0 -4.9 0zM465.3 546.9a2.45 2.45 0 1 0 4.9 0a2.45 2.45 0 1 0 -4.9 0zM465.5 546.9a2.45 2.45 0 1 0 4.9 0a2.45 2.45 0 1 0 -4.9 0z" fill="none" stroke="#ff0000" stroke-width="1.5" stroke-linejoin="miter"/>
<path d="M78.5 290.2l2.9 5h-5.8zM122.9 319.2l2.9 5h-5.8zM148.9 329.2l2.9 5h-5.8zM167.4 332.8l2.9 5h-5.8zM181.7 345.9l2.9 5h-5.8zM193.4 348.9l2.9 5h-5.8zM203.2 356.2l2.9 5h-5.8zM211.8 359.2l2.9 5h-5.8zM219.3 359.7l2.9 5h-5.8zM226.1 367.5l2.9 5h-5.8zM232.2 367.6l2.9 5h-5.8zM237.8 371.6l2.9 5h-5.8zM242.9 372l2.9 5h-5.8zM247.7 376l2.9 5h-5.8zM252.1 376.6l2.9 5h-5.8zM256.2 380.1l2.9 5h-5.8zM260.1 380.6l2.9 5h-5.8zM263.8 383.6l2.9 5h-5.8zM267.2 383.9l2.9 5h-5.8zM270.5 386.8l2.9 5h-5.8zM273.7 387.7l2.9 5h-5.8zM276.6 390.4l2.9 5h-5.8zM279.5 390.8l2.9 5h-5.8zM282.2 393.1l2.9 5h-5.8zM284.8 391.9l2.9 5h-5.8zM287.4 395.2l2.9 5h-5.8zM289.8 395.2l2.9 5h-5.8zM292.1 398.4l2.9 5h-5.8zM294.3 398l2.9 5h-5.8zM296.5 399.4l2.9 5h-5.8zM298.6 401.3l2.9 5h-5.8zM300.7 401.2l2.9 5h-5.8zM302.6 402.5l2.9 5h-5.8zM304.5 402.5l2.9 5h-5.8zM306.4 403.9l2.9 5h-5.8zM308.2 404l2.9 5h-5.8zM310 404l2.9 5h-5.8zM311.7 406.9l2.9 5h-5.8zM313.3 405.6l2.9 5h-5.8zM315 405.8l2.9 5h-5.8zM316.5 406.6l2.9 5h-5.8zM318.1 407.5l2.9 5h-5.8zM319.6 407.7l2.9 5h-5.8zM321.1 409.8l2.9 5h-5.8zM322.5 409.4l2.9 5h-5.8zM323.9 410.6l2.9 5h-5.8zM325.3 410.7l2.9 5h-5.8zM326.7 414.6l2.9 5h-5.8zM328 411.4l2.9 5h-5.8zM329.3 413.3l2.9 5h-5.8zM330.5 412.9l2.9 5h-5.8zM331.8 413.9l2.9 5h-5.8zM333 416l2.9 5h-5.8zM334.2 416.2l2.9 5h-5.8zM335.4 415.6l2.9 5h-5.8zM336.5 418.3l2.9 5h-5.8zM337.7 417.6l2.9 5h-5.8zM338.8 421.2l2.9 5h-5.8zM339.9 416.5l2.9 5h-5.8zM341 421.4l2.9 5h-5.8zM342 419.5l2.9 5h-5.8zM343.1 423.3l2.9 5h-5.8zM344.1 421.3l2.9 5h-5.8zM345.1 420.9l2.9 5h-5.8zM346.1 422.1l2.9 5h-5.8zM347.1 423.4l2.9 5h-5.8zM348 424.9l2.9 5h-5.8zM349 424.8l2.9 5h-5.8zM349.9 422.7l2.9 5h-5.8zM350.8 423.7l2.9 5h-5.8zM351.7 426.1l2.9 5h-5.8zM352.6 425.9l2.9 5h-5.8zM353.5 427.8l2.9 5h-5.8zM354.4 424.6l2.9 5h-5.8zM355.3 427.3l2.9 5h-5.8zM356.1 427.3l2.9 5h-5.8zM356.9 429.5l2.9 5h-5.8zM357.8 426.4l2.9 5h-5.8zM358.6 427.8l2.9 5h-5.8zM359.4 428.8l2.9 5h-5.8zM360.2 430.3l2.9 5h-5.8zM361 428.4l2.9 5h-5.8zM361.8 430.9l2.9 5h-5.8zM362.5 429.8l2.9 5h-5.8zM363.3 431.9l2.9 5h-5.8zM364 430.9l2.9 5h-5.8zM364.8 433.1l2.9 5h-5.8zM365.5 428.6l2.9 5h-5.8zM366.2 431.4l2.9 5h-5.8zM366.9 431.4l2.9 5h-5.8zM367.7 431.8l2.9 5h-5.8zM368.4 432.9l2.9 5h-5.8zM369 430.9l2.9 5h-5.8zM369.7 433.4l2.9 5h-5.8zM370.4 433.9l2.9 5h-5.8zM371.1 435l2.9 5h-5.8zM371.7 435l2.9 5h-5.8zM372.4 437.7l2.9 5h-5.8zM373.1 434.1l2.9 5h-5.8zM373.7 436.3l2.9 5h-5.8zM374.3 435.4l2.9 5h-5.8zM375 435.7l2.9 5h-5.8zM375.6 434.4l2.9 5h-5.8zM376.2 437.1l2.9 5h-5.8zM376.8 437.6l2.9 5h-5.8zM377.4 437.6l2.9 5h-5.8zM378 436.9l2.9 5h-5.8zM378.6 435.4l2.9 5h-5.8zM379.2 438.2l2.9 5h-5.8zM379.8 437.8l2.9 5h-5.8zM380.4 439.9l2.9 5h-5.8zM381 440.4l2.9 5h-5.8zM381.5 440.3l2.9 5h-5.8zM382.1 440.7l2.9 5h-5.8zM382.7 439l2.9 5h-5.8zM383.2 440.3l2.9 5h-5.8zM383.8 442.1l2.9 5h-5.8zM384.3 438.7l2.9 5h-5.8zM384.9 444.5l2.9 5h-5.8zM385.4 441.1l2.9 5h-5.8zM385.9 442.8l2.9 5h-5.8zM386.4 441l2.9 5h-5.8zM387 443l2.9 5h-5.8zM387.5 441.2l2.9 5h-5.8zM388 440.5l2.9 5h-5.8zM388.5 442.2l2.9 5h-5.8zM389 444.6l2.9 5h-5.8zM389.5 443.8l2.9 5h-5.8zM390 444.7l2.9 5h-5.8zM390.5 444.7l2.9 5h-5.8zM391 445.7l2.9 5h-5.8zM391.5 443.8l2.9 5h-5.8zM392 445.6l2.9 5h-5.8zM392.5 445.3l2.9 5h-5.8zM392.9 444.8l2.9 5h-5.8zM393.4 448.9l2.9 5h-5.8zM393.9 447.4l2.9 5h-5.8zM394.3 445.5l2.9 5h-5.8zM394.8 446.4l2.9 5h-5.8zM395.3 446.2l2.9 5h-5.8zM395.7 449.5l2.9 5h-5.8zM396.2 447.3l2.9 5h-5.8zM396.6 446.5l2.9 5h-5.8zM397.1 448.1l2.9 5h-5.8zM397.5 448.4l2.9 5h-5.8zM398 450.2l2.9 5h-5.8zM398.4 448.7l2.9 5h-5.8zM398.8 449.4l2.9 5h-5.8zM399.3 448.6l2.9 5h-5.8zM399.7 446.8l2.9 5h-5.8zM400.1 450.4l2.9 5h-5.8zM400.5 448.5l2.9 5h-5.8zM401 450.9l2.9 5h-5.8zM401.4 451.2l2.9 5h-5.8zM401.8 451.7l2.9 5h-5.8zM402.2 452.1l2.9 5h-5.8zM402.6 450.3l2.9 5h-5.8zM403 450.1l2.9 5h-5.8zM403.4 449.5l2.9 5h-5.8zM403.8 452.5l2.9 5h-5.8zM404.2 451.1l2.9 5h-5.8zM404.6 451.3l2.9 5h-5.8zM405 449.8l2.9 5h-5.8zM405.4 449.8l2.9 5h-5.8zM405.8 452.7l2.9 5h-5.8zM406.2 453.2l2.9 5h-5.8zM406.6 453.1l2.9 5h-5.8zM407 451.7l2.9 5h-5.8zM407.3 452.6l2.9 5h-5.8zM407.7 451.2l2.9 5h-5.8zM408.1 451.6l2.9 5h-5.8zM408.5 454.9l2.9 5h-5.8zM408.8 454.1l2.9 5h-5.8zM409.2 455.8l2.9 5h-5.8zM409.6 455.3l2.9 5h-5.8zM409.9 454.8l2.9 5h-5.8zM410.3 455.1l2.9 5h-5.8zM410.7 454.9l2.9 5h-5.8zM411 454.8l2.9 5h-5.8zM411.4 454.8l2.9 5h-5.8zM411.7 453l2.9 5h-5.8zM412.1 455.9l2.9 5h-5.8zM412.4 454.2l2.9 5h-5.8zM412.8 456.2l2.9 5h-5.8zM413.1 459l2.9 5h-5.8zM413.5 457.1l2.9 5h-5.8zM413.8 454.9l2.9 5h-5.8zM414.2 456.5l2.9 5h-5.8zM414.5 457.4l2.9 5h-5.8zM414.8 458.5l2.9 5h-5.8zM415.2 457.2l2.9 5h-5.8zM415.5 456.8l2.9 5h-5.8zM415.8 457.4l2.9 5h-5.8zM416.2 458.5l2.9 5h-5.8zM416.5 458l2.9 5h-5.8zM416.8 456.9l2.9 5h-5.8zM417.2 455.4l2.9 5h-5.8zM417.5 458l2.9 5h-5.8zM417.8 456.7l2.9 5h-5.8zM418.1 457l2.9 5h-5.8zM418.5 458.2l2.9 5h-5.8zM418.8 458.7l2.9 5h-5.8zM419.1 457.2l2.9 5h-5.8zM419.4 457.1l2.9 5h-5.8zM419.7 459.6l2.9 5h-5.8zM420 459.2l2.9 5h-5.8zM420.3 458.4l2.9 5h-5.8zM420.6 457.6l2.9 5h-5.8zM421 459.1l2.9 5h-5.8zM421.3 460.1l2.9 5h-5.8zM421.6 461.6l2.9 5h-5.8zM421.9 458.9l2.9 5h-5.8zM422.2 459l2.9 5h-5.8zM422.5 461.8l2.9 5h-5.8zM422.8 459.4l2.9 5h-5.8zM423.1 458l2.9 5h-5.8zM423.4 461.5l2.9 5h-5.8zM423.7 460.2l2.9 5h-5.8zM423.9 462.1l2.9 5h-5.8zM424.2 460.5l2.9 5h-5.8zM424.5 461.5l2.9 5h-5.8zM424.8 459.3l2.9 5h-5.8zM425.1 461.7l2.9 5h-5.8zM425.4 459.8l2.9 5h-5.8zM425.7 461.2l2.9 5h-5.8zM426 463.9l2.9 5h-5.8zM426.2 462.3l2.9 5h-5.8zM426.5 462.6l2.9 5h-5.8zM426.8 462.2l2.9 5h-5.8zM427.1 462.8l2.9 5h-5.8zM427.4 462.7l2.9 5h-5.8zM427.6 463.7l2.9 5h-5.8zM427.9 461.6l2.9 5h-5.8zM428.2 459.8l2.9 5h-5.8zM428.5 462.7l2.9 5h-5.8zM428.7 463.8l2.9 5h-5.8zM429 462.7l2.9 5h-5.8zM429.3 463.8l2.9 5h-5.8zM429.6 463.5l2.9 5h-5.8zM429.8 464.5l2.9 5h-5.8zM430.1 464.1l2.9 5h-5.8zM430.4 464.3l2.9 5h-5.8zM430.6 466.2l2.9 5h-5.8zM430.9 465.6l2.9 5h-5.8zM431.1 464.4l2.9 5h-5.8zM431.4 465.4l2.9 5h-5.8zM431.7 465.3l2.9 5h-5.8zM431.9 467l2.9 5h-5.8zM432.2 464.6l2.9 5h-5.8zM432.4 466.5l2.9 5h-5.8zM432.7 467.4l2.9 5h-5.8zM432.9 465.4l2.9 5h-5.8zM433.2 467l2.9 5h-5.8zM433.5 467l2.9 5h-5.8zM433.7 467.5l2.9 5h-5.8zM434 466l2.9 5h-5.8zM434.2 466.2l2.9 5h-5.8zM434.5 467.4l2.9 5h-5.8zM434.7 467.7l2.9 5h-5.8zM435 467.1l2.9 5h-5.8zM435.2 469.1l2.9 5h-5.8zM435.4 469.7l2.9 5h-5.8zM435.7 466.8l2.9 5h-5.8zM435.9 467.5l2.9 5h-5.8zM436.2 469.2l2.9 5h-5.8zM436.4 469.6l2.9 5h-5.8zM436.7 468.9l2.9 5h-5.8zM436.9 470.2l2.9 5h-5.8zM437.1 469.2l2.9 5h-5.8zM437.4 470.5l2.9 5h-5.8zM437.6 470.3l2.9 5h-5.8zM437.8 467.8l2.9 5h-5.8zM438.1 470.9l2.9 5h-5.8zM438.3 470.6l2.9 5h-5.8zM438.5 474l2.9 5h-5.8zM438.8 468.8l2.9 5h-5.8zM439 471.9l2.9 5h-5.8zM439.2 471.1l2.9 5h-5.8zM439.5 471.3l2.9 5h-5.8zM439.7 472.2l2.9 5h-5.8zM439.9 473.7l2.9 5h-5.8zM440.2 469.7l2.9 5h-5.8zM440.4 472.3l2.9 5h-5.8zM440.6 472.4l2.9 5h-5.8zM440.8 474.9l2.9 5h-5.8zM441.1 472.1l2.9 5h-5.8zM441.3 474.2l2.9 5h-5.8zM441.5 471.3l2.9 5h-5.8zM441.7 473.9l2.9 5h-5.8zM441.9 472.9l2.9 5h-5.8zM442.2 473.4l2.9 5h-5.8zM442.4 472l2.9 5h-5.8zM442.6 476.4l2.9 5h-5.8zM442.8 476.4l2.9 5h-5.8zM443 472.1l2.9 5h-5.8zM443.3 472.2l2.9 5h-5.8zM443.5 476.7l2.9 5h-5.8zM443.7 475.1l2.9 5h-5.8zM443.9 475l2.9 5h-5.8zM444.1 477l2.9 5h-5.8zM444.3 474.4l2.9 5h-5.8zM444.5 476.1l2.9 5h-5.8zM444.8 473.6l2.9 5h-5.8zM445 476.5l2.9 5h-5.8zM445.2 475.7l2.9 5h-5.8zM445.4 477.1l2.9 5h-5.8zM445.6 475.4l2.9 5h-5.8zM445.8 475.5l2.9 5h-5.8zM446 476.8l2.9 5h-5.8zM446.2 477.6l2.9 5h-5.8zM446.4 477.3l2.9 5h-5.8zM446.6 477.1l2.9 5h-5.8zM446.8 477.9l2.9 5h-5.8zM447 476.6l2.9 5h-5.8zM447.3 478l2.9 5h-5.8zM447.5 478.1l2.9 5h-5.8zM447.7 477.2l2.9 5h-5.8zM447.9 478.2l2.9 5h-5.8zM448.1 479.3l2.9 5h-5.8zM448.3 479.7l2.9 5h-5.8zM448.5 479.7l2.9 5h-5.8zM448.7 478.2l2.9 5h-5.8zM448.9 479.6l2.9 5h-5.8zM449.1 482.3l2.9 5h-5.8zM449.3 481.9l2.9 5h-5.8zM449.5 479.2l2.9 5h-5.8zM449.6 483.6l2.9 5h-5.8zM449.8 479.7l2.9 5h-5.8zM450 478.2l2.9 5h-5.8zM450.2 476.4l2.9 5h-5.8zM450.4 482.3l2.9 5h-5.8zM450.6 481.2l2.9 5h-5.8zM450.8 481l2.9 5h-5.8zM451 478.6l2.9 5h-5.8zM451.2 482.4l2.9 5h-5.8zM451.4 481.9l2.9 5h-5.8zM451.6 479.9l2.9 5h-5.8zM451.8 480.9l2.9 5h-5.8zM452 482.6l2.9 5h-5.8zM452.1 482.1l2.9 5h-5.8zM452.3 483.1l2.9 5h-5.8zM452.5 484.3l2.9 5h-5.8zM452.7 481.3l2.9 5h-5.8zM452.9 482.1l2.9 5h-5.8zM453.1 481.5l2.9 5h-5.8zM453.3 481.7l2.9 5h-5.8zM453.5 485.6l2.9 5h-5.8zM453.6 483.5l2.9 5h-5.8zM453.8 482.6l2.9 5h-5.8zM454 483.1l2.9 5h-5.8zM454.2 487.1l2.9 5h-5.8zM454.4 484.3l2.9 5h-5.8zM454.6 483.6l2.9 5h-5.8zM454.7 483.1l2.9 5h-5.8zM454.9 487.3l2.9 5h-5.8zM455.1 485.4l2.9 5h-5.8zM455.3 482.9l2.9 5h-5.8zM455.5 485.3l2.9 5h-5.8zM455.6 482.5l2.9 5h-5.8zM455.8 485l2.9 5h-5.8zM456 487.4l2.9 5h-5.8zM456.2 489l2.9 5h-5.8zM456.3 487.6l2.9 5h-5.8zM456.5 486.1l2.9 5h-5.8zM456.7 489.6l2.9 5h-5.8zM456.9 485.8l2.9 5h-5.8zM457 486.4l2.9 5h-5.8zM457.2 488.4l2.9 5h-5.8zM457.4 489.8l2.9 5h-5.8zM457.6 488.9l2.9 5h-5.8zM457.7 493.3l2.9 5h-5.8zM457.9 491.2l2.9 5h-5.8zM458.1 490.9l2.9 5h-5.8zM458.3 490.7l2.9 5h-5.8zM458.4 490l2.9 5h-5.8zM458.6 489.1l2.9 5h-5.8zM458.8 492l2.9 5h-5.8zM458.9 494.5l2.9 5h-5.8zM459.1 494.4l2.9 5h-5.8zM459.3 492.2l2.9 5h-5.8zM459.4 494.6l2.9 5h-5.8zM459.6 494.9l2.9 5h-5.8zM459.8 495.3l2.9 5h-5.8zM459.9 495.3l2.9 5h-5.8zM460.1 494l2.9 5h-5.8zM460.3 495.9l2.9 5h-5.8zM460.4 496.4l2.9 5h-5.8zM460.6 497.5l2.9 5h-5.8zM460.8 496.4l2.9 5h-5.8zM460.9 496.9l2.9 5h-5.8zM461.1 494.2l2.9 5h-5.8zM461.3 499.5l2.9 5h-5.8zM461.4 498.8l2.9 5h-5.8zM461.6 496.7l2.9 5h-5.8zM461.8 498.9l2.9 5h-5.8zM461.9 501l2.9 5h-5.8zM462.1 498l2.9 5h-5.8zM462.2 504.1l2.9 5h-5.8zM462.4 499.1l2.9 5h-5.8zM462.6 502.1l2.9 5h-5.8zM462.7 501.8l2.9 5h-5.8zM462.9 503.3l2.9 5h-5.8zM463 501l2.9 5h-5.8zM463.2 504.4l2.9 5h-5.8zM463.4 504.4l2.9 5h-5.8zM463.5 502.6l2.9 5h-5.8zM463.7 502.8l2.9 5h-5.8zM463.8 505.2l2.9 5h-5.8zM464 510l2.9 5h-5.8zM464.1 506.1l2.9 5h-5.8zM464.3 506.4l2.9 5h-5.8zM464.5 502.8l2.9 5h-5.8zM464.6 507.1l2.9 5h-5.8zM464.8 506.7l2.9 5h-5.8zM464.9 509.6l2.9 5h-5.8zM465.1 509.6l2.9 5h-5.8zM465.2 512.8l2.9 5h-5.8zM465.4 512.3l2.9 5h-5.8zM465.5 514.3l2.9 5h-5.8zM465.7 514.3l2.9 5h-5.8zM465.8 512.8l2.9 5h-5.8zM466 516.8l2.9 5h-5.8zM466.1 513.3l2.9 5h-5.8zM466.3 514.3l2.9 5h-5.8zM466.5 512.8l2.9 5h-5.8zM466.6 514.3l2.9 5h-5.8zM466.8 517.5l2.9 5h-5.8zM466.9 515.5l2.9 5h-5.8zM467.1 523.5l2.9 5h-5.8zM467.2 528.7l2.9 5h-5.8zM467.3 518.9l2.9 5h-5.8zM467.5 534.3l2.9 5h-5.8zM467.6 534.3l2.9 5h-5.8zM467.8 528.7l2.9 5h-5.8zM467.9 523.5l2.9 5h-5.8zM468.1 528.7l2.9 5h-5.8zM468.2 528.7l2.9 5h-5.8zM468.4 520.6l2.9 5h-5.8zM468.5 534.3l2.9 5h-5.8zM468.7 544.1l2.9 5h-5.8zM468.8 534.3l2.9 5h-5.8zM469 528.7l2.9 5h-5.8zM469.1 534.3l2.9 5h-5.8zM469.3 534.3l2.9 5h-5.8zM469.4 534.3l2.9 5h-5.8zM469.5 544.1l2.9 5h-5.8zM469.7 534.3l2.9 5h-5.8zM469.8 544.1l2.9 5h-5.8zM470.1 534.3l2.9 5h-5.8zM470.3 544.1l2.9 5h-5.8zM470.5 544.1l2.9 5h-5.8zM470.7 544.1l2.9 5h-5.8zM470.8 544.1l2.9 5h-5.8zM471 544.1l2.9 5h-5.8zM471.1 544.1l2.9 5h-5.8zM472.2 544.1l2.9 5h-5.8zM472.8 544.1l2.9 5h-5.8z" fill="none" stroke="#0000ff" stroke-width="1.5" stroke-linejoin="miter"/>
<path d="M78.5 297.8l2.9 -5h-5.8zM122.9 320.1l2.9 -5h-5.8zM148.9 329.8l2.9 -5h-5.8zM167.4 331.8l2.9 -5h-5.8zM181.7 342.7l2.9 -5h-5.8zM193.4 345.3l2.9 -5h-5.8zM203.2 351.5l2.9 -5h-5.8zM211.8 354.5l2.9 -5h-5.8zM219.3 356.8l2.9 -5h-5.8zM226.1 363.3l2.9 -5h-5.8zM232.2 364.5l2.9 -5h-5.8zM237.8 368.5l2.9 -5h-5.8zM242.9 368.6l2.9 -5h-5.8zM247.7 372.2l2.9 -5h-5.8zM252.1 372.5l2.9 -5h-5.8zM256.2 375.8l2.9 -5h-5.8zM260.1 376.1l2.9 -5h-5.8zM263.8 379.3l2.9 -5h-5.8zM267.2 380.1l2.9 -5h-5.8zM270.5 383.2l2.9 -5h-5.8zM273.7 383.7l2.9 -5h-5.8zM276.6 386.7l2.9 -5h-5.8zM279.5 387.4l2.9 -5h-5.8zM282.2 390l2.9 -5h-5.8zM284.8 390.3l2.9 -5h-5.8zM287.4 391.3l2.9 -5h-5.8zM289.8 392.4l2.9 -5h-5.8zM292.1 394.5l2.9 -5h-5.8zM294.3 394.6l2.9 -5h-5.8zM296.5 395.3l2.9 -5h-5.8zM298.6 395.2l2.9 -5h-5.8zM300.7 397.3l2.9 -5h-5.8zM302.6 396.9l2.9 -5h-5.8zM304.5 398.6l2.9 -5h-5.8zM306.4 398.9l2.9 -5h-5.8zM308.2 400.4l2.9 -5h-5.8zM310 400.3l2.9 -5h-5.8zM311.7 401.7l2.9 -5h-5.8zM313.3 400.8l2.9 -5h-5.8zM315 404l2.9 -5h-5.8zM316.5 402.1l2.9 -5h-5.8zM318.1 403.5l2.9 -5h-5.8zM319.6 405.5l2.9 -5h-5.8zM321.1 405.1l2.9 -5h-5.8zM322.5 405.9l2.9 -5h-5.8zM323.9 406.8l2.9 -5h-5.8zM325.3 405.9l2.9 -5h-5.8zM326.7 406.7l2.9 -5h-5.8zM328 407.9l2.9 -5h-5.8zM329.3 408.4l2.9 -5h-5.8zM330.5 408.4l2.9 -5h-5.8zM331.8 409.4l2.9 -5h-5.8zM333 409.7l2.9 -5h-5.8zM334.2 407.9l2.9 -5h-5.8zM335.4 411.8l2.9 -5h-5.8zM336.5 411.6l2.9 -5h-5.8zM337.7 411.3l2.9 -5h-5.8zM338.8 413.2l2.9 -5h-5.8zM339.9 412l2.9 -5h-5.8zM341 413l2.9 -5h-5.8zM342 415.6l2.9 -5h-5.8zM343.1 414.6l2.9 -5h-5.8zM344.1 414.3l2.9 -5h-5.8zM345.1 416.5l2.9 -5h-5.8zM346.1 416.7l2.9 -5h-5.8zM347.1 416.1l2.9 -5h-5.8zM348 418.7l2.9 -5h-5.8zM349 415.7l2.9 -5h-5.8zM349.9 418.7l2.9 -5h-5.8zM350.8 419.2l2.9 -5h-5.8zM351.7 418.2l2.9 -5h-5.8zM352.6 418.4l2.9 -5h-5.8zM353.5 419.3l2.9 -5h-5.8zM354.4 421.2l2.9 -5h-5.8zM355.3 421.1l2.9 -5h-5.8zM356.1 419.3l2.9 -5h-5.8zM356.9 420.6l2.9 -5h-5.8zM357.8 421.8l2.9 -5h-5.8zM358.6 420.8l2.9 -5h-5.8zM359.4 422l2.9 -5h-5.8zM360.2 422.8l2.9 -5h-5.8zM361 422.3l2.9 -5h-5.8zM361.8 423.4l2.9 -5h-5.8zM362.5 422.6l2.9 -5h-5.8zM363.3 422.9l2.9 -5h-5.8zM364 422.8l2.9 -5h-5.8zM364.8 424.6l2.9 -5h-5.8zM365.5 424l2.9 -5h-5.8zM366.2 424.5l2.9 -5h-5.8zM366.9 424.8l2.9 -5h-5.8zM367.7 425.4l2.9 -5h-5.8zM368.4 426.1l2.9 -5h-5.8zM369 425.4l2.9 -5h-5.8zM369.7 426l2.9 -5h-5.8zM370.4 426.3l2.9 -5h-5.8zM371.1 424.9l2.9 -5h-5.8zM371.7 427.2l2.9 -5h-5.8zM372.4 427.5l2.9 -5h-5.8zM373.1 427.8l2.9 -5h-5.8zM373.7 428.6l2.9 -5h-5.8zM374.3 428.3l2.9 -5h-5.8zM375 428.9l2.9 -5h-5.8zM375.6 429.1l2.9 -5h-5.8zM376.2 428.1l2.9 -5h-5.8zM376.8 431.6l2.9 -5h-5.8zM377.4 429.9l2.9 -5h-5.8zM378 428.3l2.9 -5h-5.8zM378.6 429.8l2.9 -5h-5.8zM379.2 430.2l2.9 -5h-5.8zM379.8 429.7l2.9 -5h-5.8zM380.4 430.5l2.9 -5h-5.8zM381 431.3l2.9 -5h-5.8zM381.5 432.1l2.9 -5h-5.8zM382.1 433.8l2.9 -5h-5.8zM382.7 431.6l2.9 -5h-5.8zM383.2 432l2.9 -5h-5.8zM383.8 431.7l2.9 -5h-5.8zM384.3 434.3l2.9 -5h-5.8zM384.9 432.3l2.9 -5h-5.8zM385.4 433.9l2.9 -5h-5.8zM385.9 432.1l2.9 -5h-5.8zM386.4 433.6l2.9 -5h-5.8zM387 433.2l2.9 -5h-5.8zM387.5 434.9l2.9 -5h-5.8zM388 436.9l2.9 -5h-5.8zM388.5 434.8l2.9 -5h-5.8zM389 435.5l2.9 -5h-5.8zM389.5 434.9l2.9 -5h-5.8zM390 434.6l2.9 -5h-5.8zM390.5 436.4l2.9 -5h-5.8zM391 437.1l2.9 -5h-5.8zM391.5 437.1l2.9 -5h-5.8zM392 435.6l2.9 -5h-5.8zM392.5 434.9l2.9 -5h-5.8zM392.9 437l2.9 -5h-5.8zM393.4 435.2l2.9 -5h-5.8zM393.9 437l2.9 -5h-5.8zM394.3 436.3l2.9 -5h-5.8zM394.8 438.2l2.9 -5h-5.8zM395.3 437.5l2.9 -5h-5.8zM395.7 439.1l2.9 -5h-5.8zM396.2 436.9l2.9 -5h-5.8zM396.6 438.6l2.9 -5h-5.8zM397.1 438.7l2.9 -5h-5.8zM397.5 438.7l2.9 -5h-5.8zM398 439.2l2.9 -5h-5.8zM398.4 439.4l2.9 -5h-5.8zM398.8 440.1l2.9 -5h-5.8zM399.3 439.1l2.9 -5h-5.8zM399.7 440.9l2.9 -5h-5.8zM400.1 439.8l2.9 -5h-5.8zM400.5 441.5l2.9 -5h-5.8zM401 440.2l2.9 -5h-5.8zM401.4 439.7l2.9 -5h-5.8zM401.8 440.4l2.9 -5h-5.8zM402.2 440.5l2.9 -5h-5.8zM402.6 440.2l2.9 -5h-5.8zM403 440.9l2.9 -5h-5.8zM403.4 441.2l2.9 -5h-5.8zM403.8 441.6l2.9 -5h-5.8zM404.2 443l2.9 -5h-5.8zM404.6 441.9l2.9 -5h-5.8zM405 442.1l2.9 -5h-5.8zM405.4 443.1l2.9 -5h-5.8zM405.8 441.8l2.9 -5h-5.8zM406.2 443.2l2.9 -5h-5.8zM406.6 443.3l2.9 -5h-5.8zM407 443.8l2.9 -5h-5.8zM407.3 442.6l2.9 -5h-5.8zM407.7 442.9l2.9 -5h-5.8zM408.1 443.6l2.9 -5h-5.8zM408.5 444.2l2.9 -5h-5.8zM408.8 445.3l2.9 -5h-5.8zM409.2 444.9l2.9 -5h-5.8zM409.6 444.8l2.9 -5h-5.8zM409.9 444.4l2.9 -5h-5.8zM410.3 444.9l2.9 -5h-5.8zM410.7 443.7l2.9 -5h-5.8zM411 443.9l2.9 -5h-5.8zM411.4 444.1l2.9 -5h-5.8zM411.7 446l2.9 -5h-5.8zM412.1 444.6l2.9 -5h-5.8zM412.4 445.2l2.9 -5h-5.8zM412.8 445.1l2.9 -5h-5.8zM413.1 444l2.9 -5h-5.8zM413.5 444.5l2.9 -5h-5.8zM413.8 445.5l2.9 -5h-5.8zM414.2 446.2l2.9 -5h-5.8zM414.5 445.3l2.9 -5h-5.8zM414.8 445.1l2.9 -5h-5.8zM415.2 446.3l2.9 -5h-5.8zM415.5 447l2.9 -5h-5.8zM415.8 447.5l2.9 -5h-5.8zM416.2 446.2l2.9 -5h-5.8zM416.5 445.1l2.9 -5h-5.8zM416.8 446.3l2.9 -5h-5.8zM417.2 445.1l2.9 -5h-5.8zM417.5 447.4l2.9 -5h-5.8zM417.8 446.7l2.9 -5h-5.8zM418.1 447l2.9 -5h-5.8zM418.5 447.8l2.9 -5h-5.8zM418.8 448.4l2.9 -5h-5.8zM419.1 448.6l2.9 -5h-5.8zM419.4 445.6l2.9 -5h-5.8zM419.7 447.9l2.9 -5h-5.8zM420 447.9l2.9 -5h-5.8zM420.3 450.3l2.9 -5h-5.8zM420.6 447.1l2.9 -5h-5.8zM421 449.4l2.9 -5h-5.8zM421.3 448.1l2.9 -5h-5.8zM421.6 447.9l2.9 -5h-5.8zM421.9 450.3l2.9 -5h-5.8zM422.2 447.5l2.9 -5h-5.8zM422.5 450.1l2.9 -5h-5.8zM422.8 449.5l2.9 -5h-5.8zM423.1 449.6l2.9 -5h-5.8zM423.4 451.9l2.9 -5h-5.8zM423.7 449.8l2.9 -5h-5.8zM423.9 450.7l2.9 -5h-5.8zM424.2 449.9l2.9 -5h-5.8zM424.5 450.2l2.9 -5h-5.8zM424.8 450.3l2.9 -5h-5.8zM425.1 450.6l2.9 -5h-5.8zM425.4 450.3l2.9 -5h-5.8zM425.7 451.4l2.9 -5h-5.8zM426 451.5l2.9 -5h-5.8zM426.2 449.2l2.9 -5h-5.8zM426.5 451.3l2.9 -5h-5.8zM426.8 451.4l2.9 -5h-5.8zM427.1 449.8l2.9 -5h-5.8zM427.4 454l2.9 -5h-5.8zM427.6 451.9l2.9 -5h-5.8zM427.9 450.7l2.9 -5h-5.8zM428.2 451.6l2.9 -5h-5.8zM428.5 451.6l2.9 -5h-5.8zM428.7 451.9l2.9 -5h-5.8zM429 454.3l2.9 -5h-5.8zM429.3 452.8l2.9 -5h-5.8zM429.6 452.5l2.9 -5h-5.8zM429.8 452.4l2.9 -5h-5.8zM430.1 452.7l2.9 -5h-5.8zM430.4 453.7l2.9 -5h-5.8zM430.6 453.8l2.9 -5h-5.8zM430.9 454.4l2.9 -5h-5.8zM431.1 453.4l2.9 -5h-5.8zM431.4 454.5l2.9 -5h-5.8zM431.7 453l2.9 -5h-5.8zM431.9 455.3l2.9 -5h-5.8zM432.2 454l2.9 -5h-5.8zM432.4 454.2l2.9 -5h-5.8zM432.7 455.5l2.9 -5h-5.8zM432.9 455.7l2.9 -5h-5.8zM433.2 455l2.9 -5h-5.8zM433.5 455.8l2.9 -5h-5.8zM433.7 454.7l2.9 -5h-5.8zM434 455.9l2.9 -5h-5.8zM434.2 455.2l2.9 -5h-5.8zM434.5 457.1l2.9 -5h-5.8zM434.7 454.7l2.9 -5h-5.8zM435 457.3l2.9 -5h-5.8zM435.2 458.1l2.9 -5h-5.8zM435.4 454l2.9 -5h-5.8zM435.7 456l2.9 -5h-5.8zM435.9 454.9l2.9 -5h-5.8zM436.2 456.2l2.9 -5h-5.8zM436.4 457.1l2.9 -5h-5.8zM436.7 457.3l2.9 -5h-5.8zM436.9 458.6l2.9 -5h-5.8zM437.1 456.1l2.9 -5h-5.8zM437.4 455.6l2.9 -5h-5.8zM437.6 457.5l2.9 -5h-5.8zM437.8 459.4l2.9 -5h-5.8zM438.1 456.6l2.9 -5h-5.8zM438.3 459.8l2.9 -5h-5.8zM438.5 458.6l2.9 -5h-5.8zM438.8 458.5l2.9 -5h-5.8zM439 457.7l2.9 -5h-5.8zM439.2 458l2.9 -5h-5.8zM439.5 460.5l2.9 -5h-5.8zM439.7 457.6l2.9 -5h-5.8zM439.9 460.7l2.9 -5h-5.8zM440.2 460.3l2.9 -5h-5.8zM440.4 459.5l2.9 -5h-5.8zM440.6 459.5l2.9 -5h-5.8zM440.8 460.1l2.9 -5h-5.8zM441.1 461.9l2.9 -5h-5.8zM441.3 459.9l2.9 -5h-5.8zM441.5 460.5l2.9 -5h-5.8zM441.7 460.3l2.9 -5h-5.8zM441.9 460.8l2.9 -5h-5.8zM442.2 459.6l2.9 -5h-5.8zM442.4 463.7l2.9 -5h-5.8zM442.6 462.1l2.9 -5h-5.8zM442.8 461.8l2.9 -5h-5.8zM443 461.2l2.9 -5h-5.8zM443.3 462.5l2.9 -5h-5.8zM443.5 461.7l2.9 -5h-5.8zM443.7 464.2l2.9 -5h-5.8zM443.9 462.6l2.9 -5h-5.8zM444.1 462.9l2.9 -5h-5.8zM444.3 462.3l2.9 -5h-5.8zM444.5 461.5l2.9 -5h-5.8zM444.8 464.3l2.9 -5h-5.8zM445 464.3l2.9 -5h-5.8zM445.2 462.7l2.9 -5h-5.8zM445.4 464.7l2.9 -5h-5.8zM445.6 463.9l2.9 -5h-5.8zM445.8 463.7l2.9 -5h-5.8zM446 465.2l2.9 -5h-5.8zM446.2 463l2.9 -5h-5.8zM446.4 466.7l2.9 -5h-5.8zM446.6 465.1l2.9 -5h-5.8zM446.8 466.3l2.9 -5h-5.8zM447 465.6l2.9 -5h-5.8zM447.3 466.5l2.9 -5h-5.8zM447.5 465.6l2.9 -5h-5.8zM447.7 468.3l2.9 -5h-5.8zM447.9 467.7l2.9 -5h-5.8zM448.1 467.4l2.9 -5h-5.8zM448.3 467.9l2.9 -5h-5.8zM448.5 467.6l2.9 -5h-5.8zM448.7 465.9l2.9 -5h-5.8zM448.9 469.1l2.9 -5h-5.8zM449.1 468.4l2.9 -5h-5.8zM449.3 467.5l2.9 -5h-5.8zM449.5 468.7l2.9 -5h-5.8zM449.6 468.9l2.9 -5h-5.8zM449.8 468.2l2.9 -5h-5.8zM450 468.5l2.9 -5h-5.8zM450.2 469.8l2.9 -5h-5.8zM450.4 469.8l2.9 -5h-5.8zM450.6 468.7l2.9 -5h-5.8zM450.8 469.8l2.9 -5h-5.8zM451 470.1l2.9 -5h-5.8zM451.2 470.3l2.9 -5h-5.8zM451.4 470.2l2.9 -5h-5.8zM451.6 471.1l2.9 -5h-5.8zM451.8 471.3l2.9 -5h-5.8zM452 471.7l2.9 -5h-5.8zM452.1 470.2l2.9 -5h-5.8zM452.3 472.8l2.9 -5h-5.8zM452.5 472l2.9 -5h-5.8zM452.7 471.4l2.9 -5h-5.8zM452.9 471.1l2.9 -5h-5.8zM453.1 473.4l2.9 -5h-5.8zM453.3 472.7l2.9 -5h-5.8zM453.5 472.9l2.9 -5h-5.8zM453.6 472.5l2.9 -5h-5.8zM453.8 474.3l2.9 -5h-5.8zM454 474.3l2.9 -5h-5.8zM454.2 472.8l2.9 -5h-5.8zM454.4 474.4l2.9 -5h-5.8zM454.6 475.2l2.9 -5h-5.8zM454.7 473.6l2.9 -5h-5.8zM454.9 476.2l2.9 -5h-5.8zM455.1 474.4l2.9 -5h-5.8zM455.3 476.9l2.9 -5h-5.8zM455.5 475.7l2.9 -5h-5.8zM455.6 476.8l2.9 -5h-5.8zM455.8 476.5l2.9 -5h-5.8zM456 476.2l2.9 -5h-5.8zM456.2 477.6l2.9 -5h-5.8zM456.3 476l2.9 -5h-5.8zM456.5 474.8l2.9 -5h-5.8zM456.7 475.7l2.9 -5h-5.8zM456.9 477.1l2.9 -5h-5.8zM457 477.7l2.9 -5h-5.8zM457.2 477.7l2.9 -5h-5.8zM457.4 476.5l2.9 -5h-5.8zM457.6 478.7l2.9 -5h-5.8zM457.7 481.8l2.9 -5h-5.8zM457.9 480.1l2.9 -5h-5.8zM458.1 478.5l2.9 -5h-5.8zM458.3 479.3l2.9 -5h-5.8zM458.4 480.2l2.9 -5h-5.8zM458.6 481.6l2.9 -5h-5.8zM458.8 480.9l2.9 -5h-5.8zM458.9 480.4l2.9 -5h-5.8zM459.1 479.6l2.9 -5h-5.8zM459.3 481.4l2.9 -5h-5.8zM459.4 481l2.9 -5h-5.8zM459.6 481.2l2.9 -5h-5.8zM459.8 482.2l2.9 -5h-5.8zM459.9 484.3l2.9 -5h-5.8zM460.1 481.6l2.9 -5h-5.8zM460.3 483.7l2.9 -5h-5.8zM460.4 483.7l2.9 -5h-5.8zM460.6 484l2.9 -5h-5.8zM460.8 485.1l2.9 -5h-5.8zM460.9 484.6l2.9 -5h-5.8zM461.1 484.9l2.9 -5h-5.8zM461.3 486l2.9 -5h-5.8zM461.4 485.2l2.9 -5h-5.8zM461.6 485.7l2.9 -5h-5.8zM461.8 489l2.9 -5h-5.8zM461.9 486.2l2.9 -5h-5.8zM462.1 488.9l2.9 -5h-5.8zM462.2 486.5l2.9 -5h-5.8zM462.4 489.8l2.9 -5h-5.8zM462.6 489l2.9 -5h-5.8zM462.7 488.1l2.9 -5h-5.8zM462.9 491.2l2.9 -5h-5.8zM463 489l2.9 -5h-5.8zM463.2 488.7l2.9 -5h-5.8zM463.4 491.8l2.9 -5h-5.8zM463.5 488.4l2.9 -5h-5.8zM463.7 490.1l2.9 -5h-5.8zM463.8 494.2l2.9 -5h-5.8zM464 490.5l2.9 -5h-5.8zM464.1 488.9l2.9 -5h-5.8zM464.3 490.8l2.9 -5h-5.8zM464.5 494.6l2.9 -5h-5.8zM464.6 490.7l2.9 -5h-5.8zM464.8 492.6l2.9 -5h-5.8zM464.9 492.9l2.9 -5h-5.8zM465.1 494.6l2.9 -5h-5.8zM465.2 494.5l2.9 -5h-5.8zM465.4 493.6l2.9 -5h-5.8zM465.5 494.1l2.9 -5h-5.8zM465.7 494.7l2.9 -5h-5.8zM465.8 496l2.9 -5h-5.8zM466 494.6l2.9 -5h-5.8zM466.1 494.4l2.9 -5h-5.8zM466.3 492.5l2.9 -5h-5.8zM466.5 495.8l2.9 -5h-5.8zM466.6 494.6l2.9 -5h-5.8zM466.8 498.4l2.9 -5h-5.8zM466.9 494.6l2.9 -5h-5.8zM467.1 498.2l2.9 -5h-5.8zM467.2 496.5l2.9 -5h-5.8zM467.3 498.6l2.9 -5h-5.8zM467.5 499.2l2.9 -5h-5.8zM467.6 495.5l2.9 -5h-5.8zM467.8 501.2l2.9 -5h-5.8zM467.9 498.6l2.9 -5h-5.8zM468.1 498.4l2.9 -5h-5.8zM468.2 500.5l2.9 -5h-5.8zM468.4 498.8l2.9 -5h-5.8zM468.5 498.3l2.9 -5h-5.8zM468.7 501.7l2.9 -5h-5.8zM468.8 500.5l2.9 -5h-5.8zM469 503.1l2.9 -5h-5.8zM469.1 503.3l2.9 -5h-5.8zM469.3 500.2l2.9 -5h-5.8zM469.4 501.2l2.9 -5h-5.8zM469.5 500.8l2.9 -5h-5.8zM469.7 500.5l2.9 -5h-5.8zM469.8 502l2.9 -5h-5.8zM470 503.5l2.9 -5h-5.8zM470.1 503l2.9 -5h-5.8zM470.3 504.4l2.9 -5h-5.8zM470.4 503.5l2.9 -5h-5.8zM470.5 504.5l2.9 -5h-5.8zM470.7 505.3l2.9 -5h-5.8zM470.8 502.3l2.9 -5h-5.8zM471 503.8l2.9 -5h-5.8zM471.1 505.3l2.9 -5h-5.8zM471.2 504.4l2.9 -5h-5.8zM471.4 509.4l2.9 -5h-5.8zM471.5 506.1l2.9 -5h-5.8zM471.7 507.4l2.9 -5h-5.8zM471.8 507.9l2.9 -5h-5.8zM471.9 503.1l2.9 -5h-5.8zM472.1 504.2l2.9 -5h-5.8zM472.2 509.2l2.9 -5h-5.8zM472.4 507.2l2.9 -5h-5.8zM472.5 506.1l2.9 -5h-5.8zM472.6 508.9l2.9 -5h-5.8zM472.8 511.4l2.9 -5h-5.8zM472.9 511.7l2.9 -5h-5.8zM473 509.7l2.9 -5h-5.8zM473.2 509.2l2.9 -5h-5.8zM473.3 512.3l2.9 -5h-5.8zM473.4 509.4l2.9 -5h-5.8zM473.6 511.4l2.9 -5h-5.8zM473.7 514.5l2.9 -5h-5.8zM473.8 511.4l2.9 -5h-5.8zM474 516.1l2.9 -5h-5.8zM474.1 516.1l2.9 -5h-5.8zM474.3 514.5l2.9 -5h-5.8zM474.4 515.6l2.9 -5h-5.8zM474.5 515.2l2.9 -5h-5.8zM474.7 518.4l2.9 -5h-5.8zM474.8 519.9l2.9 -5h-5.8zM474.9 517.4l2.9 -5h-5.8zM475 523.1l2.9 -5h-5.8zM475.2 517.9l2.9 -5h-5.8zM475.3 521.1l2.9 -5h-5.8zM475.4 524.5l2.9 -5h-5.8zM475.6 529.1l2.9 -5h-5.8zM475.7 523.8l2.9 -5h-5.8zM475.8 521.1l2.9 -5h-5.8zM476 524.5l2.9 -5h-5.8zM476.1 528.1l2.9 -5h-5.8zM476.2 527.1l2.9 -5h-5.8zM476.4 539.9l2.9 -5h-5.8zM476.5 539.9l2.9 -5h-5.8zM476.6 528.1l2.9 -5h-5.8zM476.7 529.1l2.9 -5h-5.8zM476.9 534.3l2.9 -5h-5.8zM477 528.1l2.9 -5h-5.8zM477.1 539.9l2.9 -5h-5.8zM477.3 528.1l2.9 -5h-5.8zM477.4 534.3l2.9 -5h-5.8zM477.5 534.3l2.9 -5h-5.8zM477.6 539.9l2.9 -5h-5.8zM477.8 539.9l2.9 -5h-5.8zM477.9 534.3l2.9 -5h-5.8zM478 534.3l2.9 -5h-5.8zM478.1 539.9l2.9 -5h-5.8zM478.3 549.7l2.9 -5h-5.8zM478.5 549.7l2.9 -5h-5.8zM478.6 549.7l2.9 -5h-5.8zM478.8 549.7l2.9 -5h-5.8zM478.9 549.7l2.9 -5h-5.8zM479 549.7l2.9 -5h-5.8zM479.1 549.7l2.9 -5h-5.8zM479.3 549.7l2.9 -5h-5.8z" fill="none" stroke="#008080" stroke-width="1.5" stroke-linejoin="miter"/>
<path d="M75.7 299l5 2.9v-5.8zM120.1 320l5 2.9v-5.8zM146.1 325.2l5 2.9v-5.8zM164.6 325.2l5 2.9v-5.8zM178.9 335.4l5 2.9v-5.8zM190.6 336l5 2.9v-5.8zM200.4 341.3l5 2.9v-5.8zM209 343.7l5 2.9v-5.8zM216.5 345l5 2.9v-5.8zM223.3 351l5 2.9v-5.8zM229.4 352.4l5 2.9v-5.8zM235 356.3l5 2.9v-5.8zM240.1 356.3l5 2.9v-5.8zM244.9 359.8l5 2.9v-5.8zM249.3 359.9l5 2.9v-5.8zM253.4 363.2l5 2.9v-5.8zM257.3 363.8l5 2.9v-5.8zM261 366.9l5 2.9v-5.8zM264.4 367.6l5 2.9v-5.8zM267.7 370.5l5 2.9v-5.8zM270.9 370.9l5 2.9v-5.8zM273.8 373.6l5 2.9v-5.8zM276.7 374.6l5 2.9v-5.8zM279.4 376.8l5 2.9v-5.8zM282 377.7l5 2.9v-5.8zM284.6 380.2l5 2.9v-5.8zM287 380.1l5 2.9v-5.8zM289.3 381.8l5 2.9v-5.8zM291.5 381.7l5 2.9v-5.8zM293.7 383.4l5 2.9v-5.8zM295.8 383.4l5 2.9v-5.8zM297.9 385.4l5 2.9v-5.8zM299.8 385.8l5 2.9v-5.8zM301.7 386.1l5 2.9v-5.8zM303.6 387.4l5 2.9v-5.8zM305.4 387.3l5 2.9v-5.8zM307.2 388.4l5 2.9v-5.8zM308.9 390.1l5 2.9v-5.8zM310.5 389.3l5 2.9v-5.8zM312.2 391.3l5 2.9v-5.8zM313.7 391.8l5 2.9v-5.8zM315.3 392.6l5 2.9v-5.8zM316.8 391.9l5 2.9v-5.8zM318.3 393.8l5 2.9v-5.8zM319.7 392.5l5 2.9v-5.8zM321.1 394.8l5 2.9v-5.8zM322.5 394.2l5 2.9v-5.8zM323.9 394.5l5 2.9v-5.8zM325.2 397.6l5 2.9v-5.8zM326.5 397.4l5 2.9v-5.8zM327.7 397.6l5 2.9v-5.8zM329 398.9l5 2.9v-5.8zM330.2 399.5l5 2.9v-5.8zM331.4 398.6l5 2.9v-5.8zM332.6 399.3l5 2.9v-5.8zM333.7 398.4l5 2.9v-5.8zM334.9 399.9l5 2.9v-5.8zM336 401l5 2.9v-5.8zM337.1 401.6l5 2.9v-5.8zM338.2 401.2l5 2.9v-5.8zM339.2 402.9l5 2.9v-5.8zM340.3 403.8l5 2.9v-5.8zM341.3 403.7l5 2.9v-5.8zM342.3 403.5l5 2.9v-5.8zM343.3 403.8l5 2.9v-5.8zM344.3 404.5l5 2.9v-5.8zM345.2 405.5l5 2.9v-5.8zM346.2 406.1l5 2.9v-5.8zM347.1 407.1l5 2.9v-5.8zM348 407.8l5 2.9v-5.8zM348.9 407.7l5 2.9v-5.8zM349.8 407.4l5 2.9v-5.8zM350.7 407l5 2.9v-5.8zM351.6 407.7l5 2.9v-5.8zM352.5 410.3l5 2.9v-5.8zM353.3 409.1l5 2.9v-5.8zM354.1 409.7l5 2.9v-5.8zM355 410.2l5 2.9v-5.8zM355.8 411.2l5 2.9v-5.8zM356.6 412.1l5 2.9v-5.8zM357.4 410.2l5 2.9v-5.8zM358.2 411.3l5 2.9v-5.8zM359 411l5 2.9v-5.8zM359.7 410.9l5 2.9v-5.8zM360.5 412.1l5 2.9v-5.8zM361.2 411.9l5 2.9v-5.8zM362 413.2l5 2.9v-5.8zM362.7 413.8l5 2.9v-5.8zM363.4 412.6l5 2.9v-5.8zM364.1 413.2l5 2.9v-5.8zM364.9 415.2l5 2.9v-5.8zM365.6 415.7l5 2.9v-5.8zM366.2 415.6l5 2.9v-5.8zM366.9 414.3l5 2.9v-5.8zM367.6 414.9l5 2.9v-5.8zM368.3 415l5 2.9v-5.8zM368.9 414.7l5 2.9v-5.8zM369.6 415.3l5 2.9v-5.8zM370.3 415.6l5 2.9v-5.8zM370.9 416.1l5 2.9v-5.8zM371.5 416l5 2.9v-5.8zM372.2 416.3l5 2.9v-5.8zM372.8 415.8l5 2.9v-5.8zM373.4 417.3l5 2.9v-5.8zM374 416.9l5 2.9v-5.8zM374.6 418.4l5 2.9v-5.8zM375.2 419.2l5 2.9v-5.8zM375.8 417.5l5 2.9v-5.8zM376.4 419.2l5 2.9v-5.8zM377 418.3l5 2.9v-5.8zM377.6 419.2l5 2.9v-5.8zM378.2 419.1l5 2.9v-5.8zM378.7 418.7l5 2.9v-5.8zM379.3 419.8l5 2.9v-5.8zM379.9 419.9l5 2.9v-5.8zM380.4 421.8l5 2.9v-5.8zM381 419.7l5 2.9v-5.8zM381.5 421.2l5 2.9v-5.8zM382.1 422.1l5 2.9v-5.8zM382.6 421.3l5 2.9v-5.8zM383.1 420.5l5 2.9v-5.8zM383.6 421.4l5 2.9v-5.8zM384.2 420.6l5 2.9v-5.8zM384.7 420.3l5 2.9v-5.8zM385.2 423.6l5 2.9v-5.8zM385.7 423.1l5 2.9v-5.8zM386.2 422.7l5 2.9v-5.8zM386.7 422.7l5 2.9v-5.8zM387.2 423.1l5 2.9v-5.8zM387.7 424l5 2.9v-5.8zM388.2 423.7l5 2.9v-5.8zM388.7 424l5 2.9v-5.8zM389.2 424l5 2.9v-5.8zM389.7 423.7l5 2.9v-5.8zM390.1 423.9l5 2.9v-5.8zM390.6 422.9l5 2.9v-5.8zM391.1 426.2l5 2.9v-5.8zM391.5 425.3l5 2.9v-5.8zM392 425.9l5 2.9v-5.8zM392.5 425.6l5 2.9v-5.8zM392.9 425l5 2.9v-5.8zM393.4 425.1l5 2.9v-5.8zM393.8 426.2l5 2.9v-5.8zM394.3 426.8l5 2.9v-5.8zM394.7 426.7l5 2.9v-5.8zM395.2 428l5 2.9v-5.8zM395.6 425.4l5 2.9v-5.8zM396 427.1l5 2.9v-5.8zM396.5 428.2l5 2.9v-5.8zM396.9 427.3l5 2.9v-5.8zM397.3 427.3l5 2.9v-5.8zM397.7 426.1l5 2.9v-5.8zM398.2 429.4l5 2.9v-5.8zM398.6 428.2l5 2.9v-5.8zM399 430.5l5 2.9v-5.8zM399.4 428.4l5 2.9v-5.8zM399.8 428.2l5 2.9v-5.8zM400.2 429.9l5 2.9v-5.8zM400.6 429.2l5 2.9v-5.8zM401 431l5 2.9v-5.8zM401.4 430.6l5 2.9v-5.8zM401.8 429.5l5 2.9v-5.8zM402.2 429.8l5 2.9v-5.8zM402.6 430.7l5 2.9v-5.8zM403 430.7l5 2.9v-5.8zM403.4 430.9l5 2.9v-5.8zM403.8 430.1l5 2.9v-5.8zM404.2 431.2l5 2.9v-5.8zM404.5 429.6l5 2.9v-5.8zM404.9 431.1l5 2.9v-5.8zM405.3 432l5 2.9v-5.8zM405.7 432.4l5 2.9v-5.8zM406 431.6l5 2.9v-5.8zM406.4 431.1l5 2.9v-5.8zM406.8 433.3l5 2.9v-5.8zM407.1 432.5l5 2.9v-5.8zM407.5 434.5l5 2.9v-5.8zM407.9 432l5 2.9v-5.8zM408.2 430.5l5 2.9v-5.8zM408.6 434.7l5 2.9v-5.8zM408.9 435.2l5 2.9v-5.8zM409.3 432.9l5 2.9v-5.8zM409.6 433.3l5 2.9v-5.8zM410 432.6l5 2.9v-5.8zM410.3 432.5l5 2.9v-5.8zM410.7 433.8l5 2.9v-5.8zM411 434l5 2.9v-5.8zM411.4 435.2l5 2.9v-5.8zM411.7 434.6l5 2.9v-5.8zM412 434.8l5 2.9v-5.8zM412.4 435.5l5 2.9v-5.8zM412.7 435.3l5 2.9v-5.8zM413 437.2l5 2.9v-5.8zM413.4 434.6l5 2.9v-5.8zM413.7 434.6l5 2.9v-5.8zM414 434.9l5 2.9v-5.8zM414.4 436l5 2.9v-5.8zM414.7 434.9l5 2.9v-5.8zM415 436.1l5 2.9v-5.8zM415.3 435.8l5 2.9v-5.8zM415.7 437.9l5 2.9v-5.8zM416 436.7l5 2.9v-5.8zM416.3 438.5l5 2.9v-5.8zM416.6 435l5 2.9v-5.8zM416.9 435.9l5 2.9v-5.8zM417.2 437.2l5 2.9v-5.8zM417.5 436.8l5 2.9v-5.8zM417.8 437.2l5 2.9v-5.8zM418.2 436.8l5 2.9v-5.8zM418.5 438.7l5 2.9v-5.8zM418.8 437.1l5 2.9v-5.8zM419.1 436.9l5 2.9v-5.8zM419.4 438.4l5 2.9v-5.8zM419.7 438.1l5 2.9v-5.8zM420 436.8l5 2.9v-5.8zM420.3 437.6l5 2.9v-5.8zM420.6 437.8l5 2.9v-5.8zM420.9 438.3l5 2.9v-5.8zM421.1 437.3l5 2.9v-5.8zM421.4 439.2l5 2.9v-5.8zM421.7 437.8l5 2.9v-5.8zM422 438.6l5 2.9v-5.8zM422.3 439.3l5 2.9v-5.8zM422.6 438.8l5 2.9v-5.8zM422.9 440.6l5 2.9v-5.8zM423.2 440.1l5 2.9v-5.8zM423.4 439.3l5 2.9v-5.8zM423.7 440.7l5 2.9v-5.8zM424 439.7l5 2.9v-5.8zM424.3 440.4l5 2.9v-5.8zM424.6 440.8l5 2.9v-5.8zM424.8 439.7l5 2.9v-5.8zM425.1 441.2l5 2.9v-5.8zM425.4 440.7l5 2.9v-5.8zM425.7 440.2l5 2.9v-5.8zM425.9 441.2l5 2.9v-5.8zM426.2 441.7l5 2.9v-5.8zM426.5 441.6l5 2.9v-5.8zM426.8 442l5 2.9v-5.8zM427 441.7l5 2.9v-5.8zM427.3 440.5l5 2.9v-5.8zM427.6 442.1l5 2.9v-5.8zM427.8 443.4l5 2.9v-5.8zM428.1 443.4l5 2.9v-5.8zM428.3 443.6l5 2.9v-5.8zM428.6 443.5l5 2.9v-5.8zM428.9 442.6l5 2.9v-5.8zM429.1 441.7l5 2.9v-5.8zM429.4 443.2l5 2.9v-5.8zM429.6 442.8l5 2.9v-5.8zM429.9 444.1l5 2.9v-5.8zM430.1 444.7l5 2.9v-5.8zM430.4 444.3l5 2.9v-5.8zM430.7 445l5 2.9v-5.8zM430.9 443.8l5 2.9v-5.8zM431.2 444.6l5 2.9v-5.8zM431.4 443.3l5 2.9v-5.8zM431.7 444.3l5 2.9v-5.8zM431.9 444.9l5 2.9v-5.8zM432.2 444.5l5 2.9v-5.8zM432.4 445.7l5 2.9v-5.8zM432.6 446.6l5 2.9v-5.8zM432.9 445l5 2.9v-5.8zM433.1 447.4l5 2.9v-5.8zM433.4 446.6l5 2.9v-5.8zM433.6 445.8l5 2.9v-5.8zM433.9 445.5l5 2.9v-5.8zM434.1 446l5 2.9v-5.8zM434.3 448.3l5 2.9v-5.8zM434.6 445.1l5 2.9v-5.8zM434.8 447.1l5 2.9v-5.8zM435 445.9l5 2.9v-5.8zM435.3 446.1l5 2.9v-5.8zM435.5 446.1l5 2.9v-5.8zM435.7 448l5 2.9v-5.8zM436 446.5l5 2.9v-5.8zM436.2 447.6l5 2.9v-5.8zM436.4 447.1l5 2.9v-5.8zM436.7 448.1l5 2.9v-5.8zM436.9 448.1l5 2.9v-5.8zM437.1 449.1l5 2.9v-5.8zM437.4 448.4l5 2.9v-5.8zM437.6 448.1l5 2.9v-5.8zM437.8 449.3l5 2.9v-5.8zM438 449.3l5 2.9v-5.8zM438.3 449.1l5 2.9v-5.8zM438.5 448.1l5 2.9v-5.8zM438.7 448l5 2.9v-5.8zM438.9 450.5l5 2.9v-5.8zM439.1 449.8l5 2.9v-5.8zM439.4 450.2l5 2.9v-5.8zM439.6 449l5 2.9v-5.8zM439.8 449.9l5 2.9v-5.8zM440 450.8l5 2.9v-5.8zM440.2 450.4l5 2.9v-5.8zM440.5 450.5l5 2.9v-5.8zM440.7 450.4l5 2.9v-5.8zM440.9 449.2l5 2.9v-5.8zM441.1 450.8l5 2.9v-5.8zM441.3 452.1l5 2.9v-5.8zM441.5 452.5l5 2.9v-5.8zM441.7 452.7l5 2.9v-5.8zM442 452.4l5 2.9v-5.8zM442.2 452.1l5 2.9v-5.8zM442.4 450.9l5 2.9v-5.8zM442.6 451.8l5 2.9v-5.8zM442.8 453.7l5 2.9v-5.8zM443 453.5l5 2.9v-5.8zM443.2 452.8l5 2.9v-5.8zM443.4 451.4l5 2.9v-5.8zM443.6 454l5 2.9v-5.8zM443.8 451.5l5 2.9v-5.8zM444 451.9l5 2.9v-5.8zM444.2 454.3l5 2.9v-5.8zM444.5 453.6l5 2.9v-5.8zM444.7 454.9l5 2.9v-5.8zM444.9 455.6l5 2.9v-5.8zM445.1 456.3l5 2.9v-5.8zM445.3 453.9l5 2.9v-5.8zM445.5 454.2l5 2.9v-5.8zM445.7 454.4l5 2.9v-5.8zM445.9 456.3l5 2.9v-5.8zM446.1 454.4l5 2.9v-5.8zM446.3 454.7l5 2.9v-5.8zM446.5 456.4l5 2.9v-5.8zM446.7 455l5 2.9v-5.8zM446.8 453.9l5 2.9v-5.8zM447 455.8l5 2.9v-5.8zM447.2 455.7l5 2.9v-5.8zM447.4 455.6l5 2.9v-5.8zM447.6 457.4l5 2.9v-5.8zM447.8 455.6l5 2.9v-5.8zM448 456.1l5 2.9v-5.8zM448.2 456.7l5 2.9v-5.8zM448.4 457.2l5 2.9v-5.8zM448.6 458.2l5 2.9v-5.8zM448.8 456.7l5 2.9v-5.8zM449 459.5l5 2.9v-5.8zM449.2 458.9l5 2.9v-5.8zM449.3 459.3l5 2.9v-5.8zM449.5 459l5 2.9v-5.8zM449.7 457.4l5 2.9v-5.8zM449.9 458.6l5 2.9v-5.8zM450.1 459.2l5 2.9v-5.8zM450.3 458.5l5 2.9v-5.8zM450.5 459.7l5 2.9v-5.8zM450.7 459.2l5 2.9v-5.8zM450.8 458.7l5 2.9v-5.8zM451 460.2l5 2.9v-5.8zM451.2 459.5l5 2.9v-5.8zM451.4 459.3l5 2.9v-5.8zM451.6 461.1l5 2.9v-5.8zM451.8 460.8l5 2.9v-5.8zM451.9 459.9l5 2.9v-5.8zM452.1 460.9l5 2.9v-5.8zM452.3 461l5 2.9v-5.8zM452.5 459.6l5 2.9v-5.8zM452.7 463.3l5 2.9v-5.8zM452.8 461.7l5 2.9v-5.8zM453 463.6l5 2.9v-5.8zM453.2 462.3l5 2.9v-5.8zM453.4 464.8l5 2.9v-5.8zM453.5 462.8l5 2.9v-5.8zM453.7 463.1l5 2.9v-5.8zM453.9 462.7l5 2.9v-5.8zM454.1 463.6l5 2.9v-5.8zM454.2 463.4l5 2.9v-5.8zM454.4 462.8l5 2.9v-5.8zM454.6 463.3l5 2.9v-5.8zM454.8 463.8l5 2.9v-5.8zM454.9 466.6l5 2.9v-5.8zM455.1 466.2l5 2.9v-5.8zM455.3 465.3l5 2.9v-5.8zM455.5 465.1l5 2.9v-5.8zM455.6 465.8l5 2.9v-5.8zM455.8 465.1l5 2.9v-5.8zM456 466.1l5 2.9v-5.8zM456.1 467l5 2.9v-5.8zM456.3 467.6l5 2.9v-5.8zM456.5 467.3l5 2.9v-5.8zM456.6 466.6l5 2.9v-5.8zM456.8 467.7l5 2.9v-5.8zM457 466.2l5 2.9v-5.8zM457.1 468.1l5 2.9v-5.8zM457.3 467.5l5 2.9v-5.8zM457.5 468.8l5 2.9v-5.8zM457.6 468.8l5 2.9v-5.8zM457.8 469.1l5 2.9v-5.8zM458 470.2l5 2.9v-5.8zM458.1 468.5l5 2.9v-5.8zM458.3 469.2l5 2.9v-5.8zM458.5 469.2l5 2.9v-5.8zM458.6 469.8l5 2.9v-5.8zM458.8 470.4l5 2.9v-5.8zM459 470.4l5 2.9v-5.8zM459.1 470.7l5 2.9v-5.8zM459.3 470.7l5 2.9v-5.8zM459.4 470.5l5 2.9v-5.8zM459.6 473.4l5 2.9v-5.8zM459.8 471.9l5 2.9v-5.8zM459.9 473.4l5 2.9v-5.8zM460.1 473.4l5 2.9v-5.8zM460.2 472.9l5 2.9v-5.8zM460.4 474.2l5 2.9v-5.8zM460.6 472.3l5 2.9v-5.8zM460.7 474l5 2.9v-5.8zM460.9 473.6l5 2.9v-5.8zM461 475.7l5 2.9v-5.8zM461.2 476.4l5 2.9v-5.8zM461.3 474.3l5 2.9v-5.8zM461.5 476.6l5 2.9v-5.8zM461.7 475.5l5 2.9v-5.8zM461.8 476l5 2.9v-5.8zM462 476.4l5 2.9v-5.8zM462.1 477.2l5 2.9v-5.8zM462.3 477.4l5 2.9v-5.8zM462.4 476.2l5 2.9v-5.8zM462.6 477.4l5 2.9v-5.8zM462.7 480.3l5 2.9v-5.8zM462.9 476.4l5 2.9v-5.8zM463 477.5l5 2.9v-5.8zM463.2 477.1l5 2.9v-5.8zM463.3 478.3l5 2.9v-5.8zM463.5 480.5l5 2.9v-5.8zM463.7 477.6l5 2.9v-5.8zM463.8 479.8l5 2.9v-5.8zM464 478.3l5 2.9v-5.8zM464.1 479.7l5 2.9v-5.8zM464.3 481.7l5 2.9v-5.8zM464.4 480.6l5 2.9v-5.8zM464.5 480.9l5 2.9v-5.8zM464.7 482.5l5 2.9v-5.8zM464.8 480.3l5 2.9v-5.8zM465 481.5l5 2.9v-5.8zM465.1 482.2l5 2.9v-5.8zM465.3 483.9l5 2.9v-5.8zM465.4 482.2l5 2.9v-5.8zM465.6 483.2l5 2.9v-5.8zM465.7 484.9l5 2.9v-5.8zM465.9 483.8l5 2.9v-5.8zM466 484.3l5 2.9v-5.8zM466.2 485.3l5 2.9v-5.8zM466.3 484.4l5 2.9v-5.8zM466.5 484.5l5 2.9v-5.8zM466.6 485.1l5 2.9v-5.8zM466.7 485.7l5 2.9v-5.8zM466.9 485.2l5 2.9v-5.8zM467 485.4l5 2.9v-5.8zM467.2 485.1l5 2.9v-5.8zM467.3 486.5l5 2.9v-5.8zM467.5 485.7l5 2.9v-5.8zM467.6 487.1l5 2.9v-5.8zM467.7 487.9l5 2.9v-5.8zM467.9 489.6l5 2.9v-5.8zM468 487.4l5 2.9v-5.8zM468.2 492.6l5 2.9v-5.8zM468.3 489.4l5 2.9v-5.8zM468.4 491.3l5 2.9v-5.8zM468.6 489.6l5 2.9v-5.8zM468.7 490l5 2.9v-5.8zM468.9 491.8l5 2.9v-5.8zM469 489.1l5 2.9v-5.8zM469.1 489.6l5 2.9v-5.8zM469.3 490.9l5 2.9v-5.8zM469.4 491.8l5 2.9v-5.8zM469.6 490l5 2.9v-5.8zM469.7 492.2l5 2.9v-5.8zM469.8 494.9l5 2.9v-5.8zM470 492.4l5 2.9v-5.8zM470.1 493.5l5 2.9v-5.8zM470.2 492.9l5 2.9v-5.8zM470.4 492.9l5 2.9v-5.8zM470.5 494.4l5 2.9v-5.8zM470.6 496.1l5 2.9v-5.8zM470.8 493.4l5 2.9v-5.8zM470.9 495.2l5 2.9v-5.8zM471 496.8l5 2.9v-5.8zM471.2 498l5 2.9v-5.8zM471.3 494.6l5 2.9v-5.8zM471.5 497l5 2.9v-5.8zM471.6 494.3l5 2.9v-5.8zM471.7 497.7l5 2.9v-5.8zM471.9 497.9l5 2.9v-5.8zM472 501.7l5 2.9v-5.8zM472.1 499.5l5 2.9v-5.8zM472.2 502.7l5 2.9v-5.8zM472.4 504.4l5 2.9v-5.8zM472.5 504.2l5 2.9v-5.8zM472.6 499.8l5 2.9v-5.8zM472.8 501.9l5 2.9v-5.8zM472.9 505.4l5 2.9v-5.8zM473 503.5l5 2.9v-5.8zM473.2 508l5 2.9v-5.8zM473.3 502.5l5 2.9v-5.8zM473.4 505.6l5 2.9v-5.8zM473.6 505.1l5 2.9v-5.8zM473.7 508.3l5 2.9v-5.8zM473.8 509.9l5 2.9v-5.8zM473.9 508.3l5 2.9v-5.8zM474.1 512l5 2.9v-5.8zM474.2 511.7l5 2.9v-5.8zM474.3 512.4l5 2.9v-5.8zM474.5 515.1l5 2.9v-5.8zM474.6 516.1l5 2.9v-5.8zM474.7 512.8l5 2.9v-5.8zM474.8 511.7l5 2.9v-5.8zM475 516.1l5 2.9v-5.8zM475.1 516.1l5 2.9v-5.8zM475.2 514.6l5 2.9v-5.8zM475.3 520.3l5 2.9v-5.8zM475.5 517.1l5 2.9v-5.8zM475.6 515.1l5 2.9v-5.8zM475.7 523.4l5 2.9v-5.8zM475.8 523.4l5 2.9v-5.8zM476 519.6l5 2.9v-5.8zM476.1 521l5 2.9v-5.8zM476.2 525.3l5 2.9v-5.8zM476.3 531.5l5 2.9v-5.8zM476.5 524.3l5 2.9v-5.8zM476.6 522.6l5 2.9v-5.8z" fill="none" stroke="#ff00ff" stroke-width="1.5" stroke-linejoin="miter"/>
</g>
<line x1="83.2" y1="-8.09" x2="447.8" y2="152.70" stroke="#ff0000" stroke-width="2.1" stroke-dasharray="10.4 8.15"/>
<line x1="126" y1="291.40" x2="443.9" y2="428.99" stroke="#ff0000" stroke-width="2.1" stroke-dasharray="10.4 8.15"/>
<text transform="translate(55.8,251.3) scale(0.92,1)" font-size="15.3" text-anchor="end" font-family="Liberation Sans, sans-serif">10<tspan font-size="9.6" dy="-7">-8</tspan></text>
<text transform="translate(55.8,219.1) scale(0.92,1)" font-size="15.3" text-anchor="end" font-family="Liberation Sans, sans-serif">10<tspan font-size="9.6" dy="-7">-7</tspan></text>
<text transform="translate(55.8,186.9) scale(0.92,1)" font-size="15.3" text-anchor="end" font-family="Liberation Sans, sans-serif">10<tspan font-size="9.6" dy="-7">-6</tspan></text>
<text transform="translate(55.8,154.6) scale(0.92,1)" font-size="15.3" text-anchor="end" font-family="Liberation Sans, sans-serif">10<tspan font-size="9.6" dy="-7">-5</tspan></text>
<text transform="translate(55.8,122.4) scale(0.92,1)" font-size="15.3" text-anchor="end" font-family="Liberation Sans, sans-serif">10<tspan font-size="9.6" dy="-7">-4</tspan></text>
<text transform="translate(55.8,90.2) scale(0.92,1)" font-size="15.3" text-anchor="end" font-family="Liberation Sans, sans-serif">10<tspan font-size="9.6" dy="-7">-3</tspan></text>
<text transform="translate(55.8,58) scale(0.92,1)" font-size="15.3" text-anchor="end" font-family="Liberation Sans, sans-serif">10<tspan font-size="9.6" dy="-7">-2</tspan></text>
<text transform="translate(55.8,25.8) scale(0.92,1)" font-size="15.3" text-anchor="end" font-family="Liberation Sans, sans-serif">10<tspan font-size="9.6" dy="-7">-1</tspan></text>
<text transform="translate(55.8,551.6) scale(0.92,1)" font-size="15.3" text-anchor="end" font-family="Liberation Sans, sans-serif">10<tspan font-size="9.6" dy="-7">-8</tspan></text>
<text transform="translate(55.8,519.3) scale(0.92,1)" font-size="15.3" text-anchor="end" font-family="Liberation Sans, sans-serif">10<tspan font-size="9.6" dy="-7">-7</tspan></text>
<text transform="translate(55.8,487) scale(0.92,1)" font-size="15.3" text-anchor="end" font-family="Liberation Sans, sans-serif">10<tspan font-size="9.6" dy="-7">-6</tspan></text>
<text transform="translate(55.8,454.8) scale(0.92,1)" font-size="15.3" text-anchor="end" font-family="Liberation Sans, sans-serif">10<tspan font-size="9.6" dy="-7">-5</tspan></text>
<text transform="translate(55.8,422.5) scale(0.92,1)" font-size="15.3" text-anchor="end" font-family="Liberation Sans, sans-serif">10<tspan font-size="9.6" dy="-7">-4</tspan></text>
<text transform="translate(55.8,390.2) scale(0.92,1)" font-size="15.3" text-anchor="end" font-family="Liberation Sans, sans-serif">10<tspan font-size="9.6" dy="-7">-3</tspan></text>
<text transform="translate(55.8,357.9) scale(0.92,1)" font-size="15.3" text-anchor="end" font-family="Liberation Sans, sans-serif">10<tspan font-size="9.6" dy="-7">-2</tspan></text>
<text transform="translate(55.8,325.7) scale(0.92,1)" font-size="15.3" text-anchor="end" font-family="Liberation Sans, sans-serif">10<tspan font-size="9.6" dy="-7">-1</tspan></text>
<text transform="translate(55.8,293.4) scale(0.92,1)" font-size="15.3" text-anchor="end" font-family="Liberation Sans, sans-serif">10<tspan font-size="9.6" dy="-7">0</tspan></text>
<text transform="translate(78.8,265.5) scale(0.92,1)" font-size="15.4" text-anchor="middle" font-family="Liberation Sans, sans-serif">1</text>
<text transform="translate(78.8,566.5) scale(0.92,1)" font-size="15.4" text-anchor="middle" font-family="Liberation Sans, sans-serif">1</text>
<text transform="translate(226.4,265.5) scale(0.92,1)" font-size="15.4" text-anchor="middle" font-family="Liberation Sans, sans-serif">10</text>
<text transform="translate(226.4,566.5) scale(0.92,1)" font-size="15.4" text-anchor="middle" font-family="Liberation Sans, sans-serif">10</text>
<text transform="translate(374,265.5) scale(0.92,1)" font-size="15.4" text-anchor="middle" font-family="Liberation Sans, sans-serif">100</text>
<text transform="translate(374,566.5) scale(0.92,1)" font-size="15.4" text-anchor="middle" font-family="Liberation Sans, sans-serif">100</text>
<text transform="translate(25.0,115.5) rotate(-90)" font-size="27.8" text-anchor="middle" font-family="Liberation Sans, sans-serif">P(I)</text>
<text transform="translate(25.0,411.7) rotate(-90)" font-size="27.8" text-anchor="middle" font-family="Liberation Sans, sans-serif">P(I)</text>
<text x="292.7" y="589" font-size="27.5" text-anchor="middle" font-family="Liberation Sans, sans-serif" >l</text>
<text x="71.8" y="29.8" font-size="21" text-anchor="start" font-family="Liberation Sans, sans-serif" >(a)</text>
<text x="73" y="332.6" font-size="21" text-anchor="start" font-family="Liberation Sans, sans-serif" >(b)</text>
<path transform="translate(86.5,147.4) scale(1.22)" d="M-2 -2h4.1v4.1h-4.1z" fill="none" stroke="#000000" stroke-width="1.7"/>
<text x="104.6" y="153" font-size="15.8" text-anchor="start" font-family="Liberation Sans, sans-serif" >r = 0.50</text>
<path transform="translate(86.5,167.1) scale(1.22)" d="M-2.5 0a2.45 2.45 0 1 0 4.9 0a2.45 2.45 0 1 0 -4.9 0z" fill="none" stroke="#ff0000" stroke-width="1.5"/>
<text x="104.6" y="172.7" font-size="15.8" text-anchor="start" font-family="Liberation Sans, sans-serif" >r = 0.80</text>
<path transform="translate(86.5,186.6) scale(1.22)" d="M0 -2.8l2.9 5h-5.8z" fill="none" stroke="#0000ff" stroke-width="1.5"/>
<text x="104.6" y="192.2" font-size="15.8" text-anchor="start" font-family="Liberation Sans, sans-serif" >r = 0.90</text>
<path transform="translate(86.5,206.4) scale(1.22)" d="M0 2.8l2.9 -5h-5.8z" fill="none" stroke="#008080" stroke-width="1.5"/>
<text x="104.6" y="212" font-size="15.8" text-anchor="start" font-family="Liberation Sans, sans-serif" >r = 0.99</text>
<path transform="translate(86.5,225.8) scale(1.22)" d="M-2.8 0l5 2.9v-5.8z" fill="none" stroke="#ff00ff" stroke-width="1.5"/>
<text x="104.6" y="231.4" font-size="15.8" text-anchor="start" font-family="Liberation Sans, sans-serif" >r = 1.00</text>
<path transform="translate(423.2,301.4) scale(1.22)" d="M-2 -2h4.1v4.1h-4.1z" fill="none" stroke="#000000" stroke-width="1.7"/>
<text x="441.2" y="306.6" font-size="15.8" text-anchor="start" font-family="Liberation Sans, sans-serif" word-spacing="0.9">M =</text>
<text x="475.5" y="306.6" font-size="15.8" text-anchor="start" font-family="Liberation Sans, sans-serif" >1</text>
<path transform="translate(423.2,321.3) scale(1.22)" d="M-2.5 0a2.45 2.45 0 1 0 4.9 0a2.45 2.45 0 1 0 -4.9 0z" fill="none" stroke="#ff0000" stroke-width="1.5"/>
<text x="441.2" y="326.5" font-size="15.8" text-anchor="start" font-family="Liberation Sans, sans-serif" word-spacing="0.9">M =</text>
<text x="475.5" y="326.5" font-size="15.8" text-anchor="start" font-family="Liberation Sans, sans-serif" >10</text>
<path transform="translate(423.2,340.9) scale(1.22)" d="M0 -2.8l2.9 5h-5.8z" fill="none" stroke="#0000ff" stroke-width="1.5"/>
<text x="441.2" y="346.1" font-size="15.8" text-anchor="start" font-family="Liberation Sans, sans-serif" word-spacing="0.9">M =</text>
<text x="475.5" y="346.1" font-size="15.8" text-anchor="start" font-family="Liberation Sans, sans-serif" >100</text>
<path transform="translate(423.2,361.4) scale(1.22)" d="M0 2.8l2.9 -5h-5.8z" fill="none" stroke="#008080" stroke-width="1.5"/>
<text x="441.2" y="366.6" font-size="15.8" text-anchor="start" font-family="Liberation Sans, sans-serif" word-spacing="0.9">M =</text>
<text x="472.7" y="366.6" font-size="15.8" text-anchor="start" font-family="Liberation Sans, sans-serif" >500</text>
<path transform="translate(423.2,380.2) scale(1.22)" d="M-2.8 0l5 2.9v-5.8z" fill="none" stroke="#ff00ff" stroke-width="1.5"/>
<text x="441.2" y="385.4" font-size="15.8" text-anchor="start" font-family="Liberation Sans, sans-serif" word-spacing="0.9">M =</text>
<text x="475.5" y="385.4" font-size="15.8" text-anchor="start" font-family="Liberation Sans, sans-serif" >1000</text>
<defs><radialGradient id="ball" cx="0.37" cy="0.30" r="0.62"><stop offset="0" stop-color="#ffffff"/><stop offset="0.13" stop-color="#b0b0b0"/><stop offset="0.32" stop-color="#404040"/><stop offset="0.6" stop-color="#0c0c0c"/><stop offset="1" stop-color="#000"/></radialGradient></defs>
<path d="M332.5 -3.1L372.2 2.8L411.9 26.4L435.7 39.5L451.6 46L475.4 58.5L483.4 64.4" fill="none" stroke="#000" stroke-width="1.6"/>
<circle cx="372.2" cy="2.8" r="4.5" fill="url(#ball)"/>
<circle cx="411.9" cy="26.4" r="4.5" fill="url(#ball)"/>
<circle cx="435.7" cy="39.5" r="4.5" fill="url(#ball)"/>
<circle cx="451.6" cy="46" r="4.5" fill="url(#ball)"/>
<circle cx="475.4" cy="58.5" r="4.5" fill="url(#ball)"/>
<circle cx="483.4" cy="64.4" r="4.5" fill="url(#ball)"/>
<line x1="312.40" y1="-2.00" x2="312.40" y2="79.45" stroke="#000" stroke-width="1.3"/>
<line x1="311.75" y1="78.80" x2="476.00" y2="78.80" stroke="#000" stroke-width="1.3"/>
<path d="M312.40 78.80L309.00 78.80M312.40 72.25L310.60 72.25M312.40 65.70L309.00 65.70M312.40 59.15L310.60 59.15M312.40 52.60L309.00 52.60M312.40 46.05L310.60 46.05M312.40 39.50L309.00 39.50M312.40 32.95L310.60 32.95M312.40 26.40L309.00 26.40M312.40 19.85L310.60 19.85M312.40 13.30L309.00 13.30M312.40 6.75L310.60 6.75M312.40 0.20L309.00 0.20M312.40 78.80L312.40 80.60M332.50 78.80L332.50 82.20M352.35 78.80L352.35 80.60M372.20 78.80L372.20 82.20M392.05 78.80L392.05 80.60M411.90 78.80L411.90 82.20M431.75 78.80L431.75 80.60M451.60 78.80L451.60 82.20M471.45 78.80L471.45 80.60" stroke="#000" stroke-width="1.1" fill="none"/>
<text x="307.1" y="82.5" font-size="10.2" text-anchor="end" font-family="Liberation Sans, sans-serif" >2.0</text>
<text x="307.1" y="69.4" font-size="10.2" text-anchor="end" font-family="Liberation Sans, sans-serif" >2.2</text>
<text x="307.1" y="56.3" font-size="10.2" text-anchor="end" font-family="Liberation Sans, sans-serif" >2.4</text>
<text x="307.1" y="43.2" font-size="10.2" text-anchor="end" font-family="Liberation Sans, sans-serif" >2.6</text>
<text x="307.1" y="30.1" font-size="10.2" text-anchor="end" font-family="Liberation Sans, sans-serif" >2.8</text>
<text x="307.1" y="17" font-size="10.2" text-anchor="end" font-family="Liberation Sans, sans-serif" >3.0</text>
<text x="307.1" y="3.9" font-size="10.2" text-anchor="end" font-family="Liberation Sans, sans-serif" >3.2</text>
<text x="332.5" y="93.4" font-size="10.2" text-anchor="middle" font-family="Liberation Sans, sans-serif" >0.80</text>
<text x="372.2" y="93.4" font-size="10.2" text-anchor="middle" font-family="Liberation Sans, sans-serif" >0.85</text>
<text x="411.9" y="93.4" font-size="10.2" text-anchor="middle" font-family="Liberation Sans, sans-serif" >0.90</text>
<text x="451.6" y="93.4" font-size="10.2" text-anchor="middle" font-family="Liberation Sans, sans-serif" >0.95</text>
<text x="491.3" y="93.4" font-size="10.2" text-anchor="middle" font-family="Liberation Sans, sans-serif" >1.00</text>
<text transform="translate(324.8,33.2) rotate(-90)" font-size="12" text-anchor="middle" font-family="Liberation Sans, sans-serif">α</text>
<text x="411.5" y="75.2" font-size="15.5" text-anchor="middle" font-family="Liberation Sans, sans-serif" >r</text>
<rect x="91" y="422.6" width="202.7" height="104.5" fill="#fff" stroke="#000" stroke-width="1.3"/>
<path d="M91.00 527.11L87.60 527.11M293.70 527.11L297.10 527.11M91.00 519.64L89.20 519.64M293.70 519.64L295.50 519.64M91.00 512.18L87.60 512.18M293.70 512.18L297.10 512.18M91.00 504.72L89.20 504.72M293.70 504.72L295.50 504.72M91.00 497.25L87.60 497.25M293.70 497.25L297.10 497.25M91.00 489.79L89.20 489.79M293.70 489.79L295.50 489.79M91.00 482.32L87.60 482.32M293.70 482.32L297.10 482.32M91.00 474.86L89.20 474.86M293.70 474.86L295.50 474.86M91.00 467.39L87.60 467.39M293.70 467.39L297.10 467.39M91.00 459.93L89.20 459.93M293.70 459.93L295.50 459.93M91.00 452.46L87.60 452.46M293.70 452.46L297.10 452.46M91.00 445.00L89.20 445.00M293.70 445.00L295.50 445.00M91.00 437.53L87.60 437.53M293.70 437.53L297.10 437.53M91.00 430.07L89.20 430.07M293.70 430.07L295.50 430.07M91.00 422.60L87.60 422.60M293.70 422.60L297.10 422.60M94.42 527.10L94.42 529.30M94.42 422.60L94.42 420.40M98.04 527.10L98.04 529.30M98.04 422.60L98.04 420.40M101.17 527.10L101.17 529.30M101.17 422.60L101.17 420.40M103.93 527.10L103.93 529.30M103.93 422.60L103.93 420.40M106.40 527.10L106.40 530.70M106.40 422.60L106.40 419.00M122.66 527.10L122.66 529.30M122.66 422.60L122.66 420.40M132.16 527.10L132.16 529.30M132.16 422.60L132.16 420.40M138.91 527.10L138.91 529.30M138.91 422.60L138.91 420.40M144.14 527.10L144.14 529.30M144.14 422.60L144.14 420.40M148.42 527.10L148.42 529.30M148.42 422.60L148.42 420.40M152.04 527.10L152.04 529.30M152.04 422.60L152.04 420.40M155.17 527.10L155.17 529.30M155.17 422.60L155.17 420.40M157.93 527.10L157.93 529.30M157.93 422.60L157.93 420.40M160.40 527.10L160.40 530.70M160.40 422.60L160.40 419.00M176.66 527.10L176.66 529.30M176.66 422.60L176.66 420.40M186.16 527.10L186.16 529.30M186.16 422.60L186.16 420.40M192.91 527.10L192.91 529.30M192.91 422.60L192.91 420.40M198.14 527.10L198.14 529.30M198.14 422.60L198.14 420.40M202.42 527.10L202.42 529.30M202.42 422.60L202.42 420.40M206.04 527.10L206.04 529.30M206.04 422.60L206.04 420.40M209.17 527.10L209.17 529.30M209.17 422.60L209.17 420.40M211.93 527.10L211.93 529.30M211.93 422.60L211.93 420.40M214.40 527.10L214.40 530.70M214.40 422.60L214.40 419.00M230.66 527.10L230.66 529.30M230.66 422.60L230.66 420.40M240.16 527.10L240.16 529.30M240.16 422.60L240.16 420.40M246.91 527.10L246.91 529.30M246.91 422.60L246.91 420.40M252.14 527.10L252.14 529.30M252.14 422.60L252.14 420.40M256.42 527.10L256.42 529.30M256.42 422.60L256.42 420.40M260.04 527.10L260.04 529.30M260.04 422.60L260.04 420.40M263.17 527.10L263.17 529.30M263.17 422.60L263.17 420.40M265.93 527.10L265.93 529.30M265.93 422.60L265.93 420.40M268.40 527.10L268.40 530.70M268.40 422.60L268.40 419.00M284.66 527.10L284.66 529.30M284.66 422.60L284.66 420.40" stroke="#000" stroke-width="1.15" fill="none"/>
<text x="85.4" y="530.7" font-size="10.2" text-anchor="end" font-family="Liberation Sans, sans-serif" >1.9</text>
<text x="85.4" y="515.8" font-size="10.2" text-anchor="end" font-family="Liberation Sans, sans-serif" >2.0</text>
<text x="85.4" y="500.9" font-size="10.2" text-anchor="end" font-family="Liberation Sans, sans-serif" >2.1</text>
<text x="85.4" y="485.9" font-size="10.2" text-anchor="end" font-family="Liberation Sans, sans-serif" >2.2</text>
<text x="85.4" y="471" font-size="10.2" text-anchor="end" font-family="Liberation Sans, sans-serif" >2.3</text>
<text x="85.4" y="456.1" font-size="10.2" text-anchor="end" font-family="Liberation Sans, sans-serif" >2.4</text>
<text x="85.4" y="441.1" font-size="10.2" text-anchor="end" font-family="Liberation Sans, sans-serif" >2.5</text>
<text x="85.4" y="426.2" font-size="10.2" text-anchor="end" font-family="Liberation Sans, sans-serif" >2.6</text>
<text x="106.4" y="541.1" font-size="10.2" text-anchor="middle" font-family="Liberation Sans, sans-serif" >1</text>
<text x="160.4" y="541.1" font-size="10.2" text-anchor="middle" font-family="Liberation Sans, sans-serif" >10</text>
<text x="214.4" y="541.1" font-size="10.2" text-anchor="middle" font-family="Liberation Sans, sans-serif" >100</text>
<text x="268.4" y="541.1" font-size="10.2" text-anchor="middle" font-family="Liberation Sans, sans-serif" >1000</text>
<line x1="98.4" y1="422.7" x2="284.5" y2="524.4" stroke="#0000ff" stroke-width="1.8"/>
<circle cx="106.7" cy="430.1" r="4.4" fill="url(#ball)"/>
<circle cx="160.7" cy="455.8" r="4.4" fill="url(#ball)"/>
<circle cx="177" cy="467.3" r="4.4" fill="url(#ball)"/>
<circle cx="198.7" cy="478.6" r="4.4" fill="url(#ball)"/>
<circle cx="214.8" cy="485.3" r="4.4" fill="url(#ball)"/>
<circle cx="236.5" cy="496.1" r="4.4" fill="url(#ball)"/>
<circle cx="252.6" cy="506.3" r="4.4" fill="url(#ball)"/>
<circle cx="274.2" cy="519" r="4.4" fill="url(#ball)"/>
<text x="139" y="442.9" font-size="14.0" text-anchor="start" font-family="Liberation Sans, sans-serif" >Slope = -0.192 <tspan text-decoration="underline">+</tspan> 0.004</text>
<text x="194.5" y="523.3" font-size="15.5" text-anchor="middle" font-family="Liberation Sans, sans-serif" >M</text>
<text transform="translate(104.2,473.5) rotate(-90)" font-size="12" text-anchor="middle" font-family="Liberation Sans, sans-serif">α</text>
</svg>
</body></html>
